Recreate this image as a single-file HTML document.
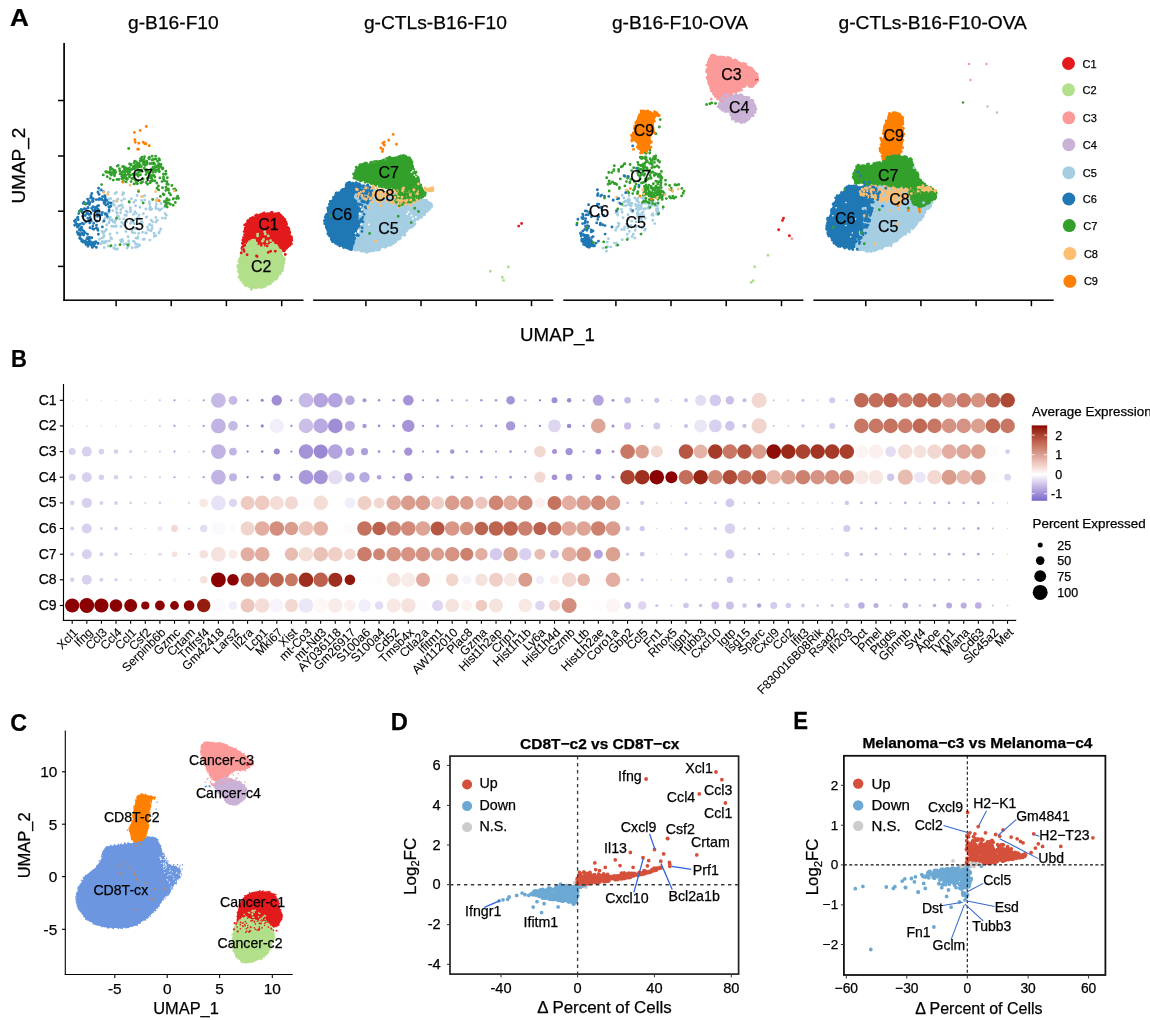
<!DOCTYPE html>
<html lang="en">
<head>
<meta charset="utf-8">
<title>Figure</title>
<style>
html,body{margin:0;padding:0;background:#fff;}
body{width:1150px;height:1020px;overflow:hidden;}
svg{display:block;}
svg text{font-family:"Liberation Sans",sans-serif;fill:#000;stroke:#000;stroke-width:0.25px;}
svg .gl text{stroke-width:0.08px;}
</style>
</head>
<body>
<svg width="1150" height="1020" viewBox="0 0 1150 1020">
<rect width="1150" height="1020" fill="#fff"/>
<!-- panel_a -->
<g>
<g transform="translate(10.5 0) scale(1.1 1) translate(-10.5 0)"><text x="10" y="25.6" font-size="23.7" font-weight="bold">A</text>
</g>
<text x="173.4" y="29.2" font-size="19.2" text-anchor="middle">g-B16-F10</text>
<text x="435.4" y="29.2" font-size="19.2" text-anchor="middle">g-CTLs-B16-F10</text>
<text x="680" y="29.2" font-size="19.2" text-anchor="middle">g-B16-F10-OVA</text>
<text x="932.7" y="29.2" font-size="19.2" text-anchor="middle">g-CTLs-B16-F10-OVA</text>
<rect x="63.25" y="43" width="1.7" height="257.95" fill="#000"/>
<rect x="58" y="99.75" width="6" height="1.5" fill="#000"/>
<rect x="58" y="155.25" width="6" height="1.5" fill="#000"/>
<rect x="58" y="210.45" width="6" height="1.5" fill="#000"/>
<rect x="58" y="265.65" width="6" height="1.5" fill="#000"/>
<rect x="63.25" y="299.45" width="240.25" height="1.5" fill="#000"/>
<rect x="313.1" y="299.45" width="240.2" height="1.5" fill="#000"/>
<rect x="563.3" y="299.45" width="240.1" height="1.5" fill="#000"/>
<rect x="813.4" y="299.45" width="240.3" height="1.5" fill="#000"/>
<rect x="115.35" y="300" width="1.5" height="6.2" fill="#000"/>
<rect x="170.45" y="300" width="1.5" height="6.2" fill="#000"/>
<rect x="225.65" y="300" width="1.5" height="6.2" fill="#000"/>
<rect x="280.95" y="300" width="1.5" height="6.2" fill="#000"/>
<rect x="365.15" y="300" width="1.5" height="6.2" fill="#000"/>
<rect x="420.25" y="300" width="1.5" height="6.2" fill="#000"/>
<rect x="475.45" y="300" width="1.5" height="6.2" fill="#000"/>
<rect x="530.75" y="300" width="1.5" height="6.2" fill="#000"/>
<rect x="615.15" y="300" width="1.5" height="6.2" fill="#000"/>
<rect x="670.25" y="300" width="1.5" height="6.2" fill="#000"/>
<rect x="725.45" y="300" width="1.5" height="6.2" fill="#000"/>
<rect x="780.75" y="300" width="1.5" height="6.2" fill="#000"/>
<rect x="865.05" y="300" width="1.5" height="6.2" fill="#000"/>
<rect x="920.15" y="300" width="1.5" height="6.2" fill="#000"/>
<rect x="975.35" y="300" width="1.5" height="6.2" fill="#000"/>
<rect x="1030.65" y="300" width="1.5" height="6.2" fill="#000"/>
<text x="25.3" y="165.6" font-size="19" text-anchor="middle" transform="rotate(-90 25.3 165.6)">UMAP_2</text>
<text x="557.5" y="340.8" font-size="18.7" text-anchor="middle">UMAP_1</text>
<path d="M121.6 200.6h0M144.2 195.9h0M136.2 213.4h0M103.2 221.9h0M128.6 240.9h0M107.8 204.9h0M139.1 215.3h0M158.5 208.9h0M109.2 198.6h0M120.5 240.3h0M111.7 226.3h0M143.4 213.8h0M137.1 195.4h0M146.2 217.1h0M120.9 226.5h0M130.5 209.5h0M154.1 233.3h0M116.1 225.9h0M135.5 243.8h0M149.6 208.8h0M128.1 236.8h0M109.7 220.8h0M101.9 231.5h0M152 225.8h0M159.7 210.3h0M147.3 227.1h0M139.3 218.8h0M132 231.2h0M103.4 233.5h0M156 208.6h0M125.9 231.5h0M110.8 198.6h0M103.3 237.4h0M108.2 206.4h0M126.2 243.6h0M104.8 218.4h0M137.2 244.3h0M118.5 216.4h0M124 244.4h0M165.4 200.6h0M111.4 205.5h0M115.4 220.5h0M139.9 207.3h0M124.7 225.4h0M134.8 228.5h0M126.3 215.4h0M106.4 229.5h0M113.7 201.3h0M122.7 194.8h0M106.2 213.3h0M101 243.8h0M141.6 200.5h0M116.7 212.3h0M124.4 198.9h0M131.4 220.5h0M122.9 207.4h0M156.5 201.2h0M135.7 200.4h0M158.9 233.1h0M117.3 213.5h0M110.8 237.7h0M136 238.1h0M122 204.9h0M155.8 235.7h0M114.9 222.5h0M123.8 193.3h0M117.1 232.9h0M165.3 218.3h0M165.2 213.4h0M114.5 205.2h0M112.8 203.8h0M157.3 220.2h0M144.3 239.3h0M105.1 231h0M151 220.1h0M111.6 238.7h0M122.2 239.4h0M166.3 215.2h0M127 248.1h0M149.3 201.8h0M108 200.6h0M109.3 240.9h0M123.4 224.3h0M108.3 192.5h0M135.6 247.3h0M129.2 243.6h0M156.3 204.2h0M116.6 209.1h0M115.9 226.6h0M117.2 216.6h0M108.3 245.9h0M123.7 218.9h0M139.5 245.6h0M128.3 246.4h0M133.9 223.3h0M129.6 202.5h0M99.5 239.3h0M111.1 219.9h0M149.3 224.8h0M121.8 222.5h0M137.6 238.4h0M106.6 225h0M116.4 208.1h0M152.6 221.9h0M138 236.9h0M162.3 218.1h0M141.5 221.8h0M134.6 232.9h0M130.5 223.4h0M132.3 247.8h0M164.3 207.1h0M157.3 199.8h0M107.6 218h0M104.3 231.6h0M109.9 234.3h0M144.8 200.1h0M114.4 248.4h0M126.7 220.7h0M110.4 217.4h0M134.8 211.8h0M112.8 210.6h0M137.5 217.9h0M142.3 222.2h0M102 238.1h0M117.9 199.3h0M128.4 246h0M155.8 207h0M109.6 246.4h0M138.6 233.4h0M146.8 217h0M104.2 247.6h0M143.1 239.4h0M105 242.7h0M103.8 243.1h0M130.6 211.8h0M137.4 246.9h0M117.7 199.3h0M135.6 205.8h0M106.8 201.2h0M120.8 209.8h0M151.7 208.9h0M133.8 202.2h0M123.2 192.7h0M116.5 192.5h0M149.9 224.5h0M112.3 219.9h0M155.8 217.4h0M133.4 241.4h0M126.4 221.8h0M122.9 241.3h0M148 229.6h0M127.2 212.3h0M104.1 235.8h0M116.9 201.4h0M105.1 241.8h0M159.4 231.6h0M118.7 206.1h0M119.5 219h0M110.1 218.2h0M117.4 249h0M116.1 249.2h0M120.6 212.9h0M132 221.6h0M113.1 221.7h0M105.4 215.4h0M120.3 205.5h0M139.7 223.2h0M151.1 230.8h0M126.1 211.1h0M149.3 230h0M102.3 241.4h0M160.8 229h0M149.9 240.1h0M108.9 222.9h0M134.1 241.4h0M139.6 244.9h0M146.4 233h0M115.1 193.5h0M108.4 213.1h0M106.5 241.5h0M137.8 229.1h0M142.5 232.2h0M154.3 236.3h0M134 223.5h0M144.8 195.6h0M150.1 206.7h0M149.6 203.9h0M133.4 214.4h0M132.3 232.4h0M152.2 228.4h0M143.6 196.2h0M109.4 206.8h0M150.6 209.8h0M145.7 232.9h0M145.9 209h0M134.9 219.3h0M131.4 198.7h0M161 203.5h0M130.3 207.6h0M113.7 248h0M113.8 226.3h0M109 222.9h0M155.9 222h0M115.2 245.2h0M130.4 209.6h0M109 212.1h0M121.1 241.7h0M157.2 198.8h0M161.5 208.9h0M124.9 215.1h0" stroke="#A6CEE3" stroke-width="2.9" stroke-linecap="round" fill="none"/>
<path d="M87.5 213.5h0M83.3 203.4h0M93.2 198.7h0M88 246.2h0M97.8 243.5h0M101.1 190h0M101.6 214.9h0M102.4 226.9h0M91.7 208.2h0M85.1 232.7h0M110.9 203h0M98.7 205.6h0M95 211.4h0M92.7 200.6h0M90.9 195.6h0M95.4 241.9h0M102.3 212.5h0M89.5 219.4h0M88.1 207.9h0M92.9 225.9h0M106.6 200.3h0M84.1 202.3h0M89 214.6h0M88.7 244.4h0M93.7 229.2h0M98.4 234.3h0M91.2 221.1h0M98.3 205.7h0M98 230.2h0M93.7 223.1h0M88.6 200.8h0M85.3 215.5h0M107.4 216.4h0M92.7 228.7h0M89.8 202.9h0M86.7 213h0M99.7 199.2h0M93 199.6h0M110.7 206.2h0M105 201.2h0M82.2 234.1h0M92.6 198.5h0M82.3 212.8h0M79.4 211.3h0M109.2 207.3h0M99.1 210.4h0M88 207.5h0M84.4 208.7h0M87.4 237.8h0M105 213.7h0M88 243.9h0M81.1 209.5h0M89.4 237.2h0M108.8 202.8h0M86.7 203.8h0M83.8 231.3h0M85.8 204h0M82.7 216.4h0M88.5 202.5h0M90.1 217.5h0M96.9 207.2h0M86 209.3h0M103.5 191.8h0M81.3 233.6h0M75.1 221.2h0M77.5 217.8h0M100.8 214.6h0M82.7 212.8h0M97.4 228.7h0M99.1 194.4h0M105.8 205.1h0M95.3 210h0M101.8 199.3h0M95.8 207.1h0M93.1 201.3h0M91.8 237.7h0M109.1 210h0M106.7 214.8h0M83.7 235.1h0M96.5 225.3h0M82.1 209.8h0M83.5 224.1h0M98.6 199.5h0M99.6 198.4h0M104 220.9h0M88.8 221h0M98.1 192.6h0M80 230h0M89.4 204.5h0M85.7 222h0M87.4 212.7h0M87.6 199.1h0M101.5 199.5h0M89.9 237.8h0M89.2 241.6h0M91.3 197h0M74.4 221.1h0M98.1 243.3h0M77.2 225.5h0M87.9 218.2h0M93.6 244.3h0M77.9 217.3h0M109 211h0M105.1 196.8h0M103.7 200.7h0M89.2 239.4h0M105.3 198.3h0M82.1 211.7h0M93.5 210.7h0M75.4 221.8h0M96.6 221h0M97.6 205.9h0M89.8 223h0M90 227.8h0M90.8 214.1h0M74.7 225.3h0M92.4 201.5h0M91.2 198h0M91.8 193.5h0M78.7 213.6h0M98 192h0M93 210.3h0M92.5 246.2h0M102.5 196.8h0M107.9 204h0M104.8 195.8h0M92.9 243.9h0M93 206.7h0M80.2 235.6h0M78.2 219.8h0M98 209.2h0M95.8 241.6h0M97.7 211.4h0M104.1 203.3h0M87.5 234.3h0M90.6 197.9h0M105 202.6h0M96.1 228.1h0M97.2 213.7h0M93.3 242.4h0M98.6 188.3h0M82.3 223.1h0M96.2 199.6h0M97.5 216.4h0M77.5 226.5h0M89.1 203.3h0M95.2 208.6h0M98.3 214.4h0M75.5 219.9h0M89.2 201.6h0" stroke="#1F78B4" stroke-width="2.9" stroke-linecap="round" fill="none"/>
<path d="M79.6 238.1h0M86.8 239.1h0M82.2 229.7h0M80.2 224.3h0M82.8 242h0M91.3 244.7h0M81.2 239.1h0M81 227.9h0M92.4 247.4h0M86 244.5h0M91.3 245h0M85.2 241.3h0M79.9 238.5h0M75.6 222.6h0M94.2 245.9h0M96.4 247.4h0M77.4 227.1h0M94.9 243.7h0M89.8 244.1h0M77.3 224.1h0M82.4 233.1h0M81.6 241.1h0M85.2 242.7h0M83.1 240.8h0M86.5 243.3h0M79.3 235h0M81.6 227.3h0M91.3 243.1h0M79.8 228.7h0M80.4 234.1h0M87.4 242.2h0M90.5 241.8h0M78.9 233.5h0M77.9 234.1h0M79.4 229.7h0M91.5 244.6h0M78.6 225.7h0M80.7 230.4h0M77.3 232h0M77.4 227.1h0" stroke="#1F78B4" stroke-width="2.9" stroke-linecap="round" fill="none"/>
<path d="M156.8 183h0M152 181h0M135.4 168.1h0M163.1 194h0M169.3 192.9h0M152.7 180.5h0M110.1 178.6h0M163.8 194.7h0M151.8 169.3h0M135.6 180.5h0M151.2 178h0M163.5 176.9h0M167.4 184.2h0M123.9 177.5h0M130 170.1h0M133.1 167.2h0M165.9 190.4h0M166.6 200.4h0M139.1 171.7h0M145.4 162.4h0M131.9 169.4h0M135.8 165.7h0M124.4 169h0M126.1 181.9h0M154.1 175.4h0M175.3 202.5h0M173.5 198.6h0M152.1 156.3h0M153.9 169.3h0M129.6 163.9h0M173.3 199h0M164.2 201.6h0M145.9 170h0M141.1 158.7h0M139 163.5h0M140.9 182.9h0M131.8 178.5h0M142.5 182.1h0M158.7 189.9h0M131.1 181.6h0M118.9 179.4h0M167.3 177.7h0M141.9 170.4h0M128.3 172.9h0M171.9 185.5h0M106.3 172h0M174.7 189h0M173.8 189.1h0M157 188.3h0M155.8 167.2h0M154.7 180.7h0M153.8 175.8h0M166.9 198.7h0M146.5 169.7h0M126.1 178.7h0M127.4 179.2h0M166 187.1h0M134.7 161.1h0M153 167.2h0M158.8 168.8h0M159.9 165.8h0M159.6 160.1h0M140.5 158.8h0M151.8 178.5h0M176.5 198.6h0M146.9 171.6h0M149.6 172.5h0M165.8 171.1h0M166.4 204.3h0M166.1 203.2h0M147.3 170.6h0M169.2 199.9h0M138.9 166.9h0M164.5 180.8h0M163 168.3h0M117.2 166.1h0M134 183.9h0M149.2 174.5h0M146.9 169.9h0M163.5 178.9h0M176.7 197.7h0M118.2 165.4h0M149.3 177.4h0M154.9 177.1h0M137.6 164.3h0M122.5 174.9h0M173.2 205.2h0M164.1 194.5h0M155.5 171.9h0M110.7 173.3h0M140.2 164.8h0M155.6 156.2h0M158.7 166.2h0M170.4 204.3h0M113.3 180.1h0M168.5 190h0M137.9 174.2h0M167 181.8h0M151.7 163.4h0M158.4 185.9h0M123.3 178.1h0M114.6 170.4h0M154.8 167.1h0M139.9 171.2h0M122.6 166.6h0M110 171.4h0M159.4 171.6h0M165.7 174.2h0M167.7 184.4h0M117 179.4h0M147.2 163.1h0M158.2 166.3h0M150.1 182.7h0M123.9 166.8h0M166.1 187.5h0M159.9 177.9h0M159 158.6h0M166 173.9h0M168.5 203h0M131.2 164.5h0M137.4 183.8h0M166.5 203.1h0M144.5 156.7h0M157.2 166.2h0M147.6 184.2h0M157.5 161.2h0M170.6 194.9h0M141.1 183h0M134.2 163h0M161 164.5h0M167.2 207h0M132.9 178.6h0M168.3 184.4h0M163.4 174.1h0M121.2 173.9h0M165.5 205.7h0M166.3 202.1h0M121.9 178.7h0M152 175.5h0M144 159.3h0M136.4 183.2h0M178.5 198.2h0M175.9 190.3h0M165.9 204.1h0M152.7 170.1h0M155.6 170.5h0M151.1 169.3h0M143.2 179.3h0M123.4 181.1h0M144.3 163.7h0M125.4 177.9h0M125 168.9h0M168.3 189h0M150.5 181.3h0M126.7 168.8h0M103.3 174.9h0M146.1 182.5h0M107.2 176.8h0M111 167.9h0M177.7 196.1h0M114.5 174h0M166.8 184h0M160.4 196.4h0M162 181.6h0M164 194.4h0M162.5 187.7h0M147.3 178.5h0M150 176.4h0M137.9 180.7h0M159.1 171.6h0" stroke="#33A02C" stroke-width="2.9" stroke-linecap="round" fill="none"/>
<path d="M127.3 168.9h0M133.7 166.4h0M112.6 169.4h0M158.8 163.7h0M129.4 177h0M137.6 167.6h0M134.8 168.1h0M144.8 165.2h0M125.3 169.8h0M124.9 177.9h0M144.3 168.3h0M127.9 169.1h0M138.2 176.3h0M161.5 167.4h0M130.2 170.5h0M135.6 174.9h0M156.9 165.9h0M134.5 167.8h0M141.5 170h0M141.9 157.3h0M128.5 174.2h0M122.2 172h0M154.2 169.6h0M143.8 160.8h0M133.6 168.9h0M119.8 171h0M138.2 165.7h0M149.2 158.7h0M135.1 175h0M140.5 174.7h0M149.9 163.7h0M146.6 164.4h0M138.7 164.2h0M130.8 165.1h0M130.2 170.4h0M122.7 176.8h0M152.6 163.2h0M133.5 177.9h0M146.8 161.3h0M122.4 176.2h0M132.8 174.3h0M135.8 165.1h0M111.3 175.1h0M143.6 164.1h0M113.2 172.4h0M153.8 159.2h0M130.4 175.3h0M152 159.9h0M125 172.7h0M126.4 178.1h0M146.1 162.2h0M157.6 169.7h0M140.2 161.1h0M156 159.1h0M134.5 168.7h0M120.1 173.9h0M126.9 171.3h0M137.8 163.4h0M114.5 175.7h0M123.1 171.4h0M110.4 169.1h0M125.5 167.7h0M111.5 172.6h0M105.7 171.8h0M143.5 164.3h0M128.6 171.3h0M145.7 162h0M154.5 164.3h0M141.5 160.4h0M147.7 172.5h0M142 160.4h0M154 169.3h0M146.7 162.1h0M129.9 171.9h0M154.9 170.1h0M110.6 174.3h0M148.7 158.3h0M145.4 165.3h0M160.4 166h0M141.4 166.6h0M107.2 172.2h0M129.5 168h0M149.4 157.3h0M145.9 174.6h0M119.5 168.7h0M136.4 162h0M146.1 171.6h0M134.7 166.4h0M159.8 164.3h0M121.8 176.4h0M112.4 169.1h0M123.8 174.9h0M136.7 173.6h0M114 171.5h0M139.7 166.8h0M115.7 172.3h0M123.3 167h0M109 172.6h0M162.4 169.1h0M110.4 167.4h0M158.8 171h0M142.9 162h0M154 163h0M115 170.8h0M114 174.2h0M153.2 163.6h0M125.9 168.8h0M126 175.2h0M137.8 170.6h0M152.8 172.4h0" stroke="#33A02C" stroke-width="2.9" stroke-linecap="round" fill="none"/>
<path d="M122.8 182.2h0M130.2 185.3h0M107.6 194.4h0M116.5 200.6h0M138.5 190.1h0M155.7 191.6h0M156.1 200.3h0M174.1 190.8h0M103.6 192.4h0M141.6 196.6h0" stroke="#FDBF6F" stroke-width="2.9" stroke-linecap="round" fill="none"/>
<path d="M159.2 200.7h0M122.8 181.9h0" stroke="#FF7F00" stroke-width="2.9" stroke-linecap="round" fill="none"/>
<path d="M116.5 218.3h0M129.1 201.8h0M120 244.7h0M111 245.8h0M127.8 245h0M85.1 203.9h0M79.6 211.2h0M101.6 184.6h0M138.5 191.6h0M143.2 202.9h0M152.6 199.5h0" stroke="#33A02C" stroke-width="2.9" stroke-linecap="round" fill="none"/>
<path d="M146.3 126.5h0M140.2 130.4h0M134.4 132.4h0M134.9 139.8h0M135.3 142.2h0M138.8 143.3h0M143.2 142.2h0M144.8 143.7h0M146 143.7h0M149.2 145.8h0M137.7 149.2h0M138.5 149.2h0" stroke="#FF7F00" stroke-width="2.9" stroke-linecap="round" fill="none"/>
<path d="M128.7 148.5h0" stroke="#33A02C" stroke-width="2.9" stroke-linecap="round" fill="none"/>
<path d="M245.9 223.5C246.7 222.4 248.2 220.5 250.4 219.1C252.7 217.6 256.4 215.8 259.4 214.7C262.3 213.7 264.9 212.8 268.2 212.7C271.5 212.6 276.6 213.2 279.3 214.1C282.1 214.9 283.7 216 284.9 217.9C286.1 219.9 285.8 223.7 286.4 225.8C287.1 227.8 287.8 228.2 288.7 230.2C289.6 232.2 291.4 235.8 291.7 238C292 240.2 291.5 241.7 290.6 243.6C289.6 245.4 287.4 247.9 286.1 249.1C284.8 250.3 285.3 250.6 282.7 250.8C280.1 250.9 274.6 250.4 270.4 249.9C266.2 249.4 261 248.1 257.2 247.8C253.5 247.5 250.7 247.4 248.1 248C245.5 248.7 242.3 253.5 241.7 251.6C241 249.7 243.6 241.2 244.2 236.9C244.8 232.5 245.1 227.9 245.3 225.7C245.6 223.5 245 224.6 245.9 223.5Z" fill="#E31A1C"/>
<path d="M244.8 237.7h0M286.5 247.6h0M275 250.6h0M267.6 213.6h0M256.2 215.8h0M272.2 212.4h0M243 247.8h0M291.3 238.2h0M285.3 249.2h0M291.6 240.5h0M243.5 237.6h0M291.3 240.4h0M271.9 213h0M291.4 243.9h0M243.8 244.4h0M270.3 249.1h0M261.5 248.1h0M277.9 250.3h0M265.4 248.9h0M242.8 240.2h0M260.9 247.7h0M263.5 248.9h0M291.2 236.8h0M289.5 233.3h0M243.8 239.4h0M242.6 243.5h0M282.9 250.5h0M279.4 250.7h0M260.3 214.7h0M255.5 215.8h0M291.8 240.2h0M256 247.2h0M245.9 224.2h0M241.9 248.4h0M245.1 229.9h0M264.2 213h0M278.6 213.2h0M273.2 249.8h0M256.6 248.4h0M270.2 249.9h0M244.9 235.4h0M250.7 248.4h0M261.3 247.7h0M289.2 231.2h0M253.8 248h0M258.4 215.7h0M260.9 214.8h0M280.6 215.2h0M242.5 247.1h0M247.5 221.7h0M271.1 212.7h0M259.5 247.6h0M243.4 242.5h0M242.9 250.5h0M286.2 226.4h0M243.7 241.8h0M271.1 213.3h0M289.9 232.8h0M242.3 247.3h0M270.5 249.7h0M276.3 213.8h0M250.2 218.7h0M290.3 244h0M286.7 228h0M285.6 225.1h0M244.7 224.9h0M261.8 248.2h0M286.7 248.1h0M284.3 251.1h0M249.7 220.3h0M243.7 242.9h0M267.4 249.1h0M244.5 251h0M260.3 248.7h0M251.8 248.2h0M287.4 227.3h0M252.7 217.5h0M245.4 225h0M279.3 214.1h0M262.8 214.4h0M290.8 242.2h0M284.9 219.8h0M285.1 220.7h0M280.9 250.3h0M244.5 234.7h0M270.1 213.7h0M288.2 228.2h0M242.4 243.2h0M243.6 238.3h0M247.9 220.7h0M256.7 247.6h0M273.4 213.9h0M265.1 249.5h0M245.2 228.3h0M242.7 251.1h0M263.2 213.8h0M243.5 242.9h0M274.8 213.9h0M265.3 249.4h0M285.7 225.6h0M251.1 218.5h0M287.7 246.9h0M289.8 244.3h0M279 249.7h0M271.1 249.6h0M256.9 215h0M247 248.8h0M291.6 237.8h0M279.9 250.7h0M286.6 224.3h0M256.5 248.3h0M286 222.3h0M290.5 242.1h0M244.1 231.6h0M289.6 245.5h0M288.9 228.7h0M248.6 247.3h0M262.7 213.8h0M279.1 251.3h0M287.8 229h0" stroke="#E31A1C" stroke-width="2.9" stroke-linecap="round" fill="none"/>
<path d="M247.7 242.9C249.4 241.5 251.8 239.9 253.3 240.1C254.7 240.3 254.6 243.2 256.6 244.2C258.6 245.3 262.4 246.4 265.4 246.5C268.3 246.5 271.8 243.6 274.4 244.5C277.1 245.4 279.6 249 281.2 251.7C282.8 254.4 284 257.3 284 260.6C284 264 282.8 268.5 281.2 271.8C279.6 275.2 277.4 278.3 274.5 280.8C271.5 283.2 267 285 263.3 286.4C259.6 287.7 255.2 289.1 252.1 288.7C248.9 288.4 246.4 286.3 244.2 284.2C242.1 282.1 240.3 279.3 239.3 276.3C238.3 273.3 238.1 269.5 238.3 266.2C238.6 262.9 239.8 259.2 240.7 256.3C241.5 253.3 242.2 250.7 243.3 248.5C244.5 246.3 246.1 244.3 247.7 242.9Z" fill="#B2DF8A"/>
<path d="M241.9 278.8h0M252 240.5h0M246.1 245.2h0M283.9 263h0M284.5 259.5h0M240.9 280.1h0M281.9 270.7h0M262.9 287.1h0M243.2 249.1h0M279.4 250.2h0M277.2 248.4h0M251.3 289.3h0M276.3 245.8h0M240.1 260.9h0M240.6 277.3h0M283.8 261.8h0M269.2 245.9h0M276.9 278.2h0M276.1 245.4h0M239.6 273.1h0M240.3 260.9h0M250.4 242h0M249.6 241.7h0M240.7 279.1h0M245.8 285.2h0M242 253.9h0M245.1 244.9h0M239.2 271.1h0M270.6 282.4h0M259.9 246.1h0M284.1 258.4h0M272.8 281.2h0M271.8 244.6h0M241.2 278.7h0M283 265.1h0M282.7 264.5h0M240.5 258h0M270.8 244.5h0M253.4 240.1h0M263.9 285.2h0M246 285.1h0M265.5 286.2h0M240.2 259.5h0M283.4 260h0M281.6 269.1h0M267 245.5h0M257.4 287.4h0M256 287.4h0M273.7 245.1h0M239.6 272.3h0M244.7 284.8h0M264.8 286.2h0M248.2 243.4h0M270.5 283.6h0M278.2 248.7h0M282.5 267.9h0M268.4 284.2h0M283.9 259.9h0M277.1 246.7h0M241.2 255.1h0M268.7 283.2h0M266.7 246.4h0M268.5 284.3h0M277.9 249.3h0M276.4 279h0M241.1 256.1h0M282.6 268.9h0M262.7 245.6h0M260.1 245.7h0M268.8 282.9h0M282.3 270.8h0M277.1 277.6h0M239 277h0M282.6 265.9h0M282.2 266.7h0M249.6 241.8h0M254.3 242.3h0M281.3 252.6h0M237.8 265.8h0M238.9 261.8h0M239 271.6h0M253.4 240.2h0M242.9 282.4h0M251.4 287.8h0M282 269.7h0M274.1 245.1h0M282.6 266.9h0M256.4 243.3h0M268.2 284.5h0M238.9 277.1h0M275.9 279.3h0M280.2 273.7h0M278 276.1h0M238.7 267.3h0M280.5 271.7h0M264.9 286.2h0M262.1 245.1h0M237.9 267.3h0M240.1 276.7h0M247 285.6h0M254.8 241.5h0M261 287.5h0M239.2 259.8h0M268.5 284.2h0M281.2 252.8h0M280.7 250.7h0M270.1 282.2h0M283.5 257.8h0M238.9 261.8h0M254.3 241.1h0M275.8 279.1h0M283.1 265.7h0M241.8 252.5h0M283.4 258.6h0M262.7 286.1h0M238.5 271.5h0M238.9 270.2h0M242.4 251.6h0M254.7 242.2h0M254.5 240.3h0" stroke="#B2DF8A" stroke-width="2.9" stroke-linecap="round" fill="none"/>
<path d="M241.2 252.9h0M243.5 249.4h0M244.1 251.2h0M247.1 254.7h0M256.5 255.9h0M257.1 256.5h0M268.2 252.4h0M270.6 251.2h0M275.3 251.2h0M285.3 254.5h0M261.2 244.1h0M267.1 245.9h0M244.7 245.3h0M247.1 238.2h0M261.2 245.3h0M270.6 237.1h0M265.9 234.7h0" stroke="#E31A1C" stroke-width="2.9" stroke-linecap="round" fill="none"/>
<path d="M257.6 234.1h0M257.6 235.9h0M264.7 231.8h0M265.3 234.1h0M263.5 239.4h0M262.4 241.2h0M267.1 241.8h0M268.2 235.9h0M270.6 240.6h0M254.1 240.6h0M272.9 242.9h0" stroke="#B2DF8A" stroke-width="2.9" stroke-linecap="round" fill="none"/>
<text x="142.7" y="180.5" font-size="16" text-anchor="middle">C7</text>
<text x="91.4" y="221.8" font-size="16" text-anchor="middle">C6</text>
<text x="133.8" y="230.1" font-size="16" text-anchor="middle">C5</text>
<text x="268.5" y="229.6" font-size="16" text-anchor="middle">C1</text>
<text x="261.2" y="272.3" font-size="16" text-anchor="middle">C2</text>
<path d="M360.9 191.5C362.8 187.9 367.2 190.2 372.4 190.2C377.6 190.3 386.1 191.2 392.2 191.9C398.4 192.6 404.5 193.2 409.2 194.6C413.9 195.9 417.8 199.1 420.7 200.1C423.5 201.1 424.4 200 426.5 200.7C428.6 201.4 433.1 202.5 433 204.3C433 206 429 208.8 426.4 211.5C423.8 214.1 420 217.4 417.5 220C415.1 222.6 414.1 224.4 411.7 226.9C409.3 229.5 406.5 232.4 403.3 235.2C400 238 396.4 241.3 392.2 243.7C388 246.1 382.4 248.3 378.1 249.7C373.8 251.1 371 252.1 366.6 252C362.3 252 354.1 251.1 352.2 249.3C350.3 247.6 354 244.4 355.2 241.4C356.5 238.4 358.5 234.4 359.7 231.3C361 228.2 362.5 226.1 362.8 222.8C363 219.5 361.6 216.7 361.3 211.5C360.9 206.3 359.1 195 360.9 191.5Z" fill="#A6CEE3"/>
<path d="M384.8 247.3h0M393.2 243.3h0M368.3 251.4h0M410.3 194.3h0M360.8 210h0M383.5 191.8h0M417.8 219.6h0M361.8 212.9h0M374.4 189.6h0M360.1 228.8h0M388 245.4h0M397.3 192.3h0M360.3 228.6h0M360.8 195.4h0M423.6 213.9h0M394.9 241h0M355.4 250.2h0M388 190.9h0M362 210.1h0M398.8 238.1h0M352.8 248.4h0M382.5 191.7h0M385 246.1h0M393 192.7h0M360.8 227.9h0M368.6 191.4h0M429.9 208.7h0M372.3 190.2h0M417.8 198h0M355.7 238.9h0M392.5 243.1h0M356.2 239.5h0M368.8 190h0M373.6 250.6h0M427.6 210.1h0M398.4 193.6h0M431.7 206.8h0M406.7 230.6h0M361.7 219.6h0M396.8 239.7h0M399 193h0M425.1 212.1h0M407.5 194h0M362.6 222h0M365.1 191.1h0M356.4 239.2h0M414 196.1h0M420.2 200h0M400.4 237.8h0M380.6 190.5h0M385.9 246.9h0M374.9 190.6h0M360.3 195.7h0M364.4 251.3h0M358.1 235.4h0M364.1 191.1h0M418.1 218.3h0M354.6 249.2h0M428.6 207.9h0M411.3 196.5h0M361.4 192.1h0M404.9 234.7h0M353.1 247h0M379.6 249.7h0M382.7 190.8h0M399.3 193.2h0M351.8 249.3h0M361.8 206.6h0M360.7 230.2h0M415 224.1h0M362.3 222.3h0M398.9 238.5h0M361.5 198.5h0M360.2 228.2h0M410.6 227.6h0M361.7 213.3h0M421.8 216.8h0M366.7 252.4h0M418.3 218.8h0M360.2 229.3h0M361 228.4h0M405 232.1h0M358.2 234.5h0M410.8 227.1h0M428.2 210.2h0M426.7 200.8h0M361.7 251.4h0M357.3 235.8h0M371.1 189.9h0M423.4 200.1h0M413.1 196.3h0M361.7 216.2h0M361.1 202.6h0M405.4 193.3h0M398.2 237.9h0M361.1 204.8h0M417.9 198.2h0M394.9 242.1h0M424.6 214.5h0M369.1 251.6h0M413.9 225h0M371.1 250.9h0M400.2 238.4h0M404.1 235h0M374.7 190.7h0M393.4 243.2h0M362.3 217.2h0M368.8 190h0M361.7 201.9h0M387.3 245.1h0M421.7 216.6h0M425.2 200.2h0M395.7 241.7h0M374.2 250.8h0M424 214.8h0M363.8 251h0M390.3 245.2h0M428.1 208.9h0M361.8 220.4h0M400.2 192.5h0M428.3 202.5h0M360.6 200h0M360.7 204.3h0M413.4 223.8h0M420.8 217.4h0M421.1 200.9h0M412.7 226.6h0M354.9 241h0M353.3 246.3h0M369.2 251.2h0M426.9 211.6h0M426.8 200.4h0M353.8 243.6h0M391.5 244.6h0M420.8 199.5h0M395.5 241.8h0M418.3 219h0M430.6 203.6h0M377.4 250.3h0M421.6 217.1h0M429.4 208.5h0M427.8 209.9h0M398.2 239.4h0M361.1 214.2h0M376.1 190.6h0M362 225.9h0M419.5 217.8h0M361.6 227.9h0M396.3 192.9h0M404.5 235.2h0" stroke="#A6CEE3" stroke-width="2.9" stroke-linecap="round" fill="none"/>
<path d="M348.2 183.1C350.5 182.3 356 182.5 358.1 183.7C360.2 184.9 360.6 187.9 360.8 190.2C361 192.5 359.3 195.3 359.2 197.5C359.1 199.6 360.5 200.8 360.4 203.1C360.4 205.5 358.7 208.2 358.7 211.4C358.7 214.6 360.8 219.1 360.4 222.3C360 225.5 357.5 227.6 356.4 230.6C355.3 233.7 354.7 237.8 353.8 240.8C352.9 243.8 352.9 247.9 351 248.9C349.1 249.8 345.6 248 342.5 246.7C339.4 245.3 335.2 243.3 332.6 240.9C330.1 238.5 328.4 235.4 327.1 232.3C325.8 229.3 324.7 226 324.7 222.5C324.8 219 326.3 215 327.5 211.3C328.6 207.6 330 203.3 331.6 200.3C333.1 197.3 334.9 195.3 337 193.2C339.1 191.2 342.1 189.9 343.9 188.2C345.8 186.5 345.8 183.8 348.2 183.1Z" fill="#1F78B4"/>
<path d="M326.4 218.1h0M333.4 197.4h0M325.3 223.8h0M358.7 185.4h0M359.3 217.5h0M360.5 189.7h0M328.3 208.7h0M359.4 185.3h0M348.9 182.5h0M359.1 218.2h0M338.4 243.2h0M329.4 204.1h0M329 235.4h0M335.5 243.3h0M360.1 208h0M339.7 245.9h0M352.9 183.2h0M358.5 184.6h0M333.4 241.5h0M332.6 241.7h0M348.2 184.4h0M359 226.1h0M349.1 248.4h0M326.3 227.5h0M356.9 228.5h0M359.5 219.9h0M343.5 246.4h0M324.7 223.8h0M337.5 244.3h0M326.8 217.8h0M325.4 220.4h0M358.9 207.5h0M325.2 220.9h0M355.9 230.9h0M347 183.4h0M360 202.6h0M328.6 207.4h0M360.1 191.4h0M351.6 249.5h0M328.1 210.1h0M359.2 194.5h0M344.4 246.9h0M352.3 183.6h0M342.8 189.5h0M325.3 220.1h0M330.2 201.5h0M359.5 208.1h0M350.2 183.6h0M350.6 248.5h0M340.2 245.4h0M330.3 236.3h0M327.9 233.8h0M336.6 192.9h0M332.1 240.5h0M351.9 247h0M324.9 223h0M324.4 220.8h0M354.8 238.2h0M359.1 212.8h0M350.1 249.4h0M331.3 239.4h0M346.3 184.6h0M328.3 210.8h0M325.1 217.4h0M346.1 185.4h0M355.8 184.3h0M359.4 209.9h0M329.1 234h0M358.6 198.9h0M361.5 190.8h0M360.8 203.4h0M343.6 247.6h0M335.8 194.9h0M331.5 201.3h0M346 247.6h0M327.7 208.1h0M338.9 244.6h0M349.8 182.4h0M330.6 204.1h0M360.3 193h0M352.6 243.2h0M338.9 244.1h0M325.9 220.5h0M360.5 189.8h0M326.1 214.9h0M346.3 185h0M358.4 186.3h0M332 239.8h0M354.4 239.3h0M338.5 192.9h0M338.2 193.1h0M353.5 184h0M353.7 242.2h0M341.6 190.2h0M358.9 214.4h0M357.9 225.9h0M346.4 186.2h0M327.2 215.5h0M325.9 215.9h0M353.3 239.4h0M335.5 195.8h0M327.4 214.1h0M328.2 209h0M329.6 205h0M356 233.3h0M359.7 200h0M341 245.2h0M338.1 193.4h0M359.5 187.9h0M336.1 193.1h0M325.6 221.7h0M353 244.2h0M326.4 217h0M358.6 215.7h0M359.1 208.3h0M328.1 234h0M332.4 239.7h0M357.6 183.6h0M355.6 231h0M347.9 248.2h0" stroke="#1F78B4" stroke-width="2.9" stroke-linecap="round" fill="none"/>
<path d="M355.7 197.9h0M360.2 213.2h0M360.5 197.7h0M362.3 208.6h0M361.4 203.5h0M360 205.8h0M359.9 219.4h0M360 201.5h0M359.9 218.7h0M356.1 196.4h0M358.7 198.4h0M360.9 203.4h0M359.8 214.3h0M356.2 194.8h0M358 198.6h0M358.2 224.9h0M358.3 201.2h0M355.2 196.5h0M360.7 218.4h0M361.7 198.4h0M361.7 202.9h0M362.3 213.9h0M360.6 196.8h0M357.3 198.8h0M359.9 216.2h0M360.7 217.2h0M359.5 222.3h0M361.7 209.8h0M362.1 201.5h0M356 195.1h0" stroke="#A6CEE3" stroke-width="2.9" stroke-linecap="round" fill="none"/>
<path d="M362.5 189.6h0M357.8 223.6h0M361.8 219.7h0M366 193.9h0M370.1 193h0M358.4 235.5h0M360.3 204.5h0M360.7 219.1h0M357.2 228h0M356.4 235.4h0M364.1 214.3h0M358.6 191.1h0M365.3 207h0M361.9 231.4h0M372.4 196.8h0M355.1 232.9h0M356.1 182.7h0M362.1 211.3h0M355.6 231.9h0M365 191.9h0M367.3 196.1h0M366.1 208.1h0M366.5 191.8h0M371.3 194.8h0M368.2 201.9h0M361.9 205.3h0M360.9 221.1h0M362.5 191.6h0M367 190.8h0M357.9 224.6h0M359.9 196.1h0M365.4 192.8h0M368 197h0M359.2 221.5h0M356.3 234h0M360.5 211h0M360.2 205.1h0M363.3 196.2h0M357.2 186.9h0M359.1 226h0M368.1 200.9h0M363.5 192.3h0M367.4 203.3h0M367.8 194.6h0M357.8 221.3h0M358.5 187h0M365.3 187.8h0M366.2 195.2h0M366.8 196.3h0M369.3 199.1h0M360.1 222.1h0M355.8 184.5h0M363.9 190.2h0M362.9 192.8h0M364.1 202h0M368.9 187.7h0M363.4 195.9h0M366.9 194.2h0M360.2 208.4h0M361.2 206.7h0M365.9 187.6h0M362.8 217.4h0M359.4 183.9h0M366 198.5h0M368.8 189.3h0M356.2 185.7h0M370 191.2h0M357.4 224.5h0M362.3 200.7h0M359.1 223.2h0M365.7 197.9h0M363 221.8h0M368.1 189h0M357.8 235.3h0M356.2 227.2h0M360.6 195.6h0M370.5 199.7h0M357.4 223.4h0M360.6 192.2h0M362.1 227.7h0" stroke="#1F78B4" stroke-width="2.9" stroke-linecap="round" fill="none"/>
<path d="M407.1 214.1h0M411.5 215.6h0M415.9 217.1h0M412.9 218.5h0M417.4 221.5h0M408.5 211.9h0M360.7 206.8h0M361.8 209.7h0M360 214.1h0M368.8 224.4h0M355.6 233.2h0" stroke="#FFFFFF" stroke-width="2" stroke-linecap="round" fill="none"/>
<path d="M353.9 173C354.7 171.1 355.7 167.5 358.3 165.9C361 164.3 365.7 164.1 370 163.3C374.2 162.4 380.5 161.9 384 160.9C387.4 159.9 387.5 158.1 390.7 157.3C393.9 156.5 400 156 403.3 156.3C406.6 156.6 409 157.3 410.4 159C411.8 160.6 410.9 163.9 411.7 166C412.5 168.1 414.5 169.7 415.3 171.6C416.2 173.4 417 175.3 416.8 177.2C416.6 179.1 415.5 181.3 413.9 182.8C412.4 184.3 409.7 185.3 407.5 186.2C405.2 187.1 402.9 187.8 400.4 188.1C397.8 188.4 395.2 188.2 392.1 187.9C388.9 187.5 384.9 186.5 381.3 185.8C377.6 185 373.3 184.3 370 183.4C366.6 182.4 363.9 181 361.3 180C358.6 179 355.2 178.4 353.9 177.2C352.7 176 353.2 174.8 353.9 173Z" fill="#33A02C"/>
<path d="M370 182.3h0M385.1 187.3h0M356.6 179h0M376 184.5h0M406.2 157.2h0M366.4 164.8h0M410.9 161.1h0M385.6 187.6h0M379.7 185.7h0M386.9 186.2h0M401.2 188.5h0M370.5 162.9h0M375.9 185.4h0M372.9 183.1h0M359.4 179.5h0M401 188.4h0M415.3 179.6h0M382.5 186.7h0M382.4 160.6h0M365.1 163.3h0M379.3 184.6h0M360.9 164.8h0M412.7 168.5h0M356.2 178.5h0M365.2 182.3h0M389.1 188.1h0M412.5 183.3h0M375 184.4h0M411.6 161.6h0M381.5 161h0M356.4 177.2h0M361.5 180.6h0M411.7 163.5h0M364.2 165.2h0M380.8 185.2h0M388.4 186.5h0M367.9 182h0M407.8 158.7h0M380.5 161.1h0M389.1 187.5h0M416 172.3h0M357.2 178.2h0M379.4 186.4h0M415.7 181.2h0M405.5 156.2h0M355.9 170.7h0M365.3 181.2h0M359.9 178.7h0M405.8 186.7h0M408.8 184.8h0M410.9 161.7h0M363.2 164.3h0M392.5 187.3h0M388.6 157.8h0M410 184.7h0M412 184.5h0M393.2 187.4h0M374.4 183.2h0M358 178h0M361.4 165.7h0M371.7 163.2h0M353.6 173.9h0M386.5 158.6h0M410.9 159.9h0M374.2 161.6h0M379.2 161.7h0M378.1 161.8h0M353.9 178h0M413.1 169.3h0M371.5 162.1h0M395.4 187.7h0M403.3 156.1h0M395.9 187.3h0M369.8 182.2h0M372.3 183.5h0M406.2 186.6h0M410.9 163.8h0M400.9 189h0M372 163.6h0M380.9 186h0M402.2 156.5h0M409.8 158.3h0M365.4 180.4h0M398.7 156.6h0M405.6 156.6h0M417.4 178h0M413.8 169.6h0M408.9 185.2h0M405.7 157h0M362.7 180.1h0M400.8 155.9h0M395.2 187.4h0M359.8 165h0M383.9 160h0M389.9 188.2h0M357.8 179.5h0M364.6 164.5h0M380 162.4h0M407.3 158.8h0M386.6 187.7h0M356.2 167.2h0M356.1 170.3h0M366.5 163.3h0M408.7 186.7h0M405.4 156.6h0M408.3 157.8h0M354.9 177.3h0M376.2 161.4h0M403.5 155.4h0M417 176.6h0M412.1 164.9h0M412.8 166.7h0M400.7 157.4h0M371.2 183.6h0M371.1 162.7h0M395.1 188.6h0M381.5 184.9h0M379.5 185.8h0M414.2 182.7h0M356.7 178.8h0M407.2 185.9h0M391.2 158.1h0M381.8 186.8h0M396.1 188.5h0M389.7 157.3h0M370.6 183h0M360.3 180.8h0M385.2 187.2h0M414.1 183.3h0M412 162.1h0" stroke="#33A02C" stroke-width="2.9" stroke-linecap="round" fill="none"/>
<path d="M416.2 193.3h0M415.7 184.8h0M410.7 188.8h0M412.2 201.2h0M417.5 190.3h0M399.1 186.1h0M396.8 202.3h0M409 198.1h0M408 183h0M422.5 195.5h0M411 180.2h0M412.6 185h0M405.6 203.3h0M404.7 193.8h0M419.7 185.5h0M400.8 193.1h0M398.7 184h0M406.2 184h0M407.3 184.8h0M419.5 192h0M395.4 200.9h0M416.3 195.9h0M411.7 186.9h0M408.4 190.3h0M414.8 179.6h0M412.8 182.5h0M411.2 185.2h0M418.3 184.5h0M405.2 191.1h0M409.8 195.1h0M418.3 185.3h0M420.7 190.1h0M400.9 185.4h0M415 194.6h0M414.9 179.8h0M393 190.9h0M412.2 198.7h0M410.8 190.9h0M401.9 188.3h0M412.7 187h0M416.5 187.2h0M408.7 196.5h0M409.3 190.5h0M408.4 200.6h0M405.1 201.2h0" stroke="#33A02C" stroke-width="2.9" stroke-linecap="round" fill="none"/>
<path d="M372.9 188.1h0M376.9 200.2h0M372.7 193.1h0M403.1 201h0M410.1 192.3h0M377.1 188.4h0M357.4 189.4h0M398.5 189.8h0M416.2 200.3h0M392.3 197.5h0M407.3 202h0M419.1 198.9h0M363.4 189.6h0M389.6 192.2h0M416.8 192.9h0M405.9 190.4h0M365.9 200.3h0M367.3 188.3h0M366.7 199.4h0M411.3 194.8h0M371.9 187.9h0M387.8 194.3h0M400.5 196.5h0M379.5 196.3h0M368.3 186.7h0M373 186.1h0M356.4 189.3h0M404.5 189.8h0M396.1 197.1h0M416.7 193.1h0M408.3 190.2h0M399.4 205.8h0" stroke="#FDBF6F" stroke-width="2.9" stroke-linecap="round" fill="none"/>
<path d="M367.3 192.4h0M359.3 187.7h0M370.7 198.1h0M359.7 185.2h0M361.5 193.8h0M370.3 197.6h0" stroke="#1F78B4" stroke-width="2.9" stroke-linecap="round" fill="none"/>
<path d="M403.7 195.9h0M406.5 199.4h0M412.9 192h0M407.3 202.4h0M401.5 201.8h0M402.5 199.1h0M397.9 198.2h0M410.8 189.6h0M403.6 187.4h0M405.5 189.9h0M415.8 197.3h0M412.2 194.6h0M416.8 197.5h0M410.2 183h0M406.5 185.6h0M422.7 190.5h0M420.4 185h0M397.2 185.5h0M424 192.5h0M400.4 202.3h0M417.9 177.8h0M415.8 188.4h0M416 196.4h0M414.4 181.2h0M420.5 185.4h0M416.1 188.5h0M408.8 185.1h0M401.4 183.4h0M393.9 189.9h0M414.9 195.6h0M414.2 196.2h0M415.3 190.9h0M417.3 180.7h0M421.5 193.3h0M419.6 185.4h0M410.6 200.4h0M414.5 188.4h0M404.1 194.5h0M414.4 182.2h0M393.1 189.7h0M412.8 186h0M402.3 195.9h0M410.1 184.2h0M400.3 194.9h0M417.4 188.2h0M410.6 194.4h0M424.9 195.4h0M397.9 192.7h0M395.1 190h0M421.2 196.3h0M408 195h0M411.1 190.6h0M412.9 182.8h0M399.7 195.9h0M417.2 192.5h0M415.6 180.2h0" stroke="#33A02C" stroke-width="2.9" stroke-linecap="round" fill="none"/>
<path d="M410.9 198.1h0M379 200.9h0M409.1 200h0M373.3 196.2h0M359.3 196.3h0M372.2 201.9h0M379.4 202.1h0M367.2 186.3h0M406.5 203.2h0M372.8 202.4h0M414.7 198.5h0M395.9 197.5h0M390.6 191.9h0M393.1 197.8h0M367.4 187.8h0M392.9 201.2h0M369.8 193.8h0M361.8 196h0M394.1 196.3h0M398.4 194.6h0" stroke="#FDBF6F" stroke-width="2.9" stroke-linecap="round" fill="none"/>
<path d="M370.7 198.7h0M363.5 185.7h0M360.2 188.4h0M362.4 194.1h0M368.1 201h0M371.8 190.5h0M371 194.8h0" stroke="#1F78B4" stroke-width="2.9" stroke-linecap="round" fill="none"/>
<path d="M418.6 184.2h0M408.1 196.9h0M408.1 199.8h0M413.9 182.9h0M412.4 181.9h0M396.9 190.6h0M412.2 195h0M416.8 192.9h0M402.8 196.8h0M416.5 184.8h0M396.1 190.7h0M407 193.4h0M408.1 184.7h0M410 183.7h0M401.6 195.4h0M420 188.2h0M412 198.8h0M401 186h0M394.7 195.9h0M410.1 188.2h0M396 188.7h0M399.2 190.7h0M424.6 192.3h0M420.4 194.2h0M414.1 184.7h0M407.6 202h0M400.3 202.9h0M415.7 189h0M410.1 186.3h0M406.4 184.8h0M398.1 185h0M415.6 180.1h0M420 193.7h0M403.3 194.2h0M401.2 193.3h0M407.7 187.6h0M405.9 193.9h0M408.3 201.8h0M419.6 192.4h0M413.5 187.1h0M408.9 198.4h0M417.8 191.2h0M405.7 200.5h0M401.2 184.8h0M398.9 193.9h0M403.3 184.2h0M400.2 189.9h0M414 183.2h0M418.2 186.2h0" stroke="#33A02C" stroke-width="2.9" stroke-linecap="round" fill="none"/>
<path d="M417.6 199.4h0M386.8 193.1h0M393.7 190.5h0M409.9 204.5h0M418.8 197h0M390.7 193.5h0M372.9 195.8h0M382.9 189.1h0M397.4 191h0M388.6 192.1h0M377 190.8h0M378.9 199.8h0M384.5 196.2h0M398.5 206.7h0M395.9 196.9h0M417.1 196.7h0M401.1 205.1h0M407 189.9h0M412.3 193.1h0M405 193.2h0M373.8 186.6h0M360.8 192.3h0M376.4 199.4h0M405.4 203.9h0M385.3 195.4h0M379.6 201.4h0M360.1 197.1h0M415.1 195.5h0" stroke="#FDBF6F" stroke-width="2.9" stroke-linecap="round" fill="none"/>
<path d="M361.8 201.4h0M366.5 195.5h0M367 188.5h0M366.4 186.8h0M370.6 192.9h0M359.1 186.3h0" stroke="#1F78B4" stroke-width="2.9" stroke-linecap="round" fill="none"/>
<path d="M404 190.2h0M382.6 190.1h0M402.5 189.4h0M413.8 200.8h0M361.5 195.6h0M409.8 199.5h0M374.2 193.9h0M367.5 196.1h0M410.9 199.2h0M406.5 201.5h0M400.9 203.4h0M371.2 188.2h0M396.2 200.5h0M393.3 203.5h0M378.6 201.9h0M383.7 193.8h0M388.3 196h0M364.6 198h0M379.9 200h0M385.7 195.9h0M398.8 196h0M382.7 191.7h0M405.6 196.5h0M369.2 195h0M378.5 191.7h0M417.6 191.8h0M384.1 194h0M413.6 198.7h0" stroke="#FDBF6F" stroke-width="2.9" stroke-linecap="round" fill="none"/>
<path d="M420.7 190.7h0M404.3 198.9h0M404.2 202.3h0M404.9 198.7h0M413 196.1h0M418.4 179.4h0M418.7 180.7h0M408.2 199.7h0M418.2 195.5h0M399.5 189.2h0M404.2 194.9h0M401.5 191.6h0M416 190.2h0M401.8 187h0M398.8 188.5h0M418 198.6h0M415.6 191.6h0M404 194.8h0M408 187.7h0M413.1 193.7h0M417.7 193.2h0M418.9 183.4h0M405.5 193h0M399.4 205.7h0M400.1 190.6h0M406.6 194.2h0M406 198.4h0M414.6 200.2h0M400.9 193.4h0M411.3 180.7h0M417.4 183.9h0M399.2 198h0M416.9 183.2h0M393.3 186.4h0M395.8 196.5h0M410.7 191.5h0M402.4 204.6h0M399.1 205.5h0M418.7 183h0M402.6 188h0M405.8 188.7h0M398.6 188.3h0M410.3 181.7h0M406.6 191.5h0M419.1 198.2h0M415.1 181.3h0M412.3 195.2h0M414.7 190.4h0M422.3 190.7h0M401.6 201.3h0" stroke="#33A02C" stroke-width="2.9" stroke-linecap="round" fill="none"/>
<path d="M363.1 202.1h0M367.8 185.3h0M361.3 194.3h0M366.7 202.6h0M365.5 190h0" stroke="#1F78B4" stroke-width="2.9" stroke-linecap="round" fill="none"/>
<path d="M405.7 190.8h0M416.9 193.5h0M419.7 185.8h0M415.6 196.5h0M401.7 192.4h0M403.1 190.7h0M417.4 196.9h0M396.5 198.7h0M403.2 190.3h0M404.9 187h0M409 193.8h0M425.4 193.2h0M421 188.5h0M415.9 179.2h0M395.9 198h0M412.2 180.1h0M407 189.3h0M419.7 195.3h0M414.3 197.8h0M393 187.6h0M410.7 180.5h0M402 197.2h0M407.9 196h0M420.6 191.6h0M411.3 187.6h0M411.7 189.6h0M421.9 196.3h0M413 200.2h0M399.5 198.4h0M403 198.8h0M422.8 193h0M412 201.1h0M420.8 185.4h0M396.3 195.2h0M404.6 193.9h0M413 191.7h0M407.9 195.5h0M422.5 194.1h0M401.2 186.3h0M416.5 183.6h0M396.5 191.7h0M408.9 196.7h0M405 195.6h0M401.6 195.9h0M412.8 199.4h0M411.1 189.1h0M397.1 185.2h0M413.1 192.4h0" stroke="#33A02C" stroke-width="2.9" stroke-linecap="round" fill="none"/>
<path d="M401.8 189.6h0M382 197.1h0M398.4 196h0M359.1 193.4h0M391 193.9h0M394.9 197.5h0M410.1 205h0M402.3 199.5h0M389.6 191h0M366.3 187.8h0M377.8 200.6h0M407.3 191.4h0M365.8 196.2h0M377.3 194.2h0M378.6 198.5h0M404.8 200.7h0M382.9 197.7h0M397.5 200.1h0M399.5 200.6h0M413.7 202.6h0M388.3 193.3h0M402.1 190.6h0M370.2 199h0M361.4 195.2h0M380.4 192.4h0M396.3 193.3h0M368.2 196.5h0M398 199.9h0M401.6 201.3h0M417.4 193.5h0M416.2 197.6h0" stroke="#FDBF6F" stroke-width="2.9" stroke-linecap="round" fill="none"/>
<path d="M360.5 196.1h0M360.4 197.9h0M358.8 190.4h0M365.9 196.9h0" stroke="#1F78B4" stroke-width="2.9" stroke-linecap="round" fill="none"/>
<path d="M369.9 195.1h0M364.7 201.7h0M367.7 185.3h0M362.5 190.3h0M360.8 185.6h0M369.9 187.3h0M362.7 187.3h0" stroke="#1F78B4" stroke-width="2.9" stroke-linecap="round" fill="none"/>
<path d="M421.5 197.6h0M402 185.3h0M413.6 194.9h0M417.3 194.2h0M420.8 191.5h0M396 186.3h0M405.3 190.4h0M412 187.4h0M422.8 196.8h0M407.5 190.4h0M407.3 191.3h0M413.3 190.2h0M415.9 196.6h0M405.6 181.5h0M419.8 188.8h0M396 202h0M413.5 185.2h0M413.3 191.6h0M410.7 183.8h0M405.2 182.4h0M408.7 187.7h0M410.5 202h0M400.2 189.5h0M404.1 195.5h0M422.4 192.4h0M401.1 194.4h0M411.7 182.7h0M410.7 185.7h0M416.7 185.4h0M417.4 199h0M413.4 186.8h0M422.2 192.1h0M408.2 201.8h0M399.2 194.5h0M408 187.7h0M409.7 188.4h0M418.5 183h0M410.5 198.3h0M403.2 198.2h0M421.9 188.9h0M414.6 181.9h0M404.7 196.8h0" stroke="#33A02C" stroke-width="2.9" stroke-linecap="round" fill="none"/>
<path d="M371.2 198.1h0M393.2 203h0M388.1 191.3h0M414 189.7h0M379.2 194.6h0M394.7 191.4h0M398.4 203.7h0M362 196.2h0M375.1 192.1h0M357.4 189.7h0M375.5 194.2h0M358.7 194.4h0M381.2 200.4h0M386.5 201.4h0M363.5 191.2h0M391 202.1h0M417 200.3h0M403.5 188h0M413.8 190h0M417.4 193.9h0M407.1 200.3h0M365.7 188.1h0M403.2 190h0M373.3 187.3h0M383.7 194.3h0M410.3 194.8h0M386.5 192.4h0M378.5 192.4h0M365.6 199h0M410.8 200h0M402 197.3h0" stroke="#FDBF6F" stroke-width="2.9" stroke-linecap="round" fill="none"/>
<path d="M425.2 188.1C425.8 187.5 428.3 187.4 429.8 187.4C431.2 187.4 433.2 187.6 433.8 188.1C434.3 188.5 433.8 189.6 433 190.2C432.3 190.7 430.4 191.2 429.2 191.3C428 191.4 426.6 191.2 425.9 190.7C425.2 190.2 424.5 188.6 425.2 188.1Z" fill="#FDBF6F"/>
<path d="M426.2 190.8h0M432.9 189.3h0M429.1 190.8h0M425.2 187.9h0M431.1 191h0M432.6 187.6h0M431.2 188.2h0M432 190.1h0M432.8 190.8h0M425.1 189.2h0" stroke="#FDBF6F" stroke-width="2.9" stroke-linecap="round" fill="none"/>
<path d="M411.5 172.2h0M414.4 175.1h0M415.9 176.6h0M412.9 170.7h0" stroke="#FFFFFF" stroke-width="1.8" stroke-linecap="round" fill="none"/>
<path d="M330.6 215.9h0M369.6 233.5h0M398.2 216.3h0M411.2 222.6h0M414.7 208.2h0M418.5 211.5h0M421.5 187.9h0M418.1 178.1h0" stroke="#33A02C" stroke-width="2.9" stroke-linecap="round" fill="none"/>
<path d="M375.7 241.3h0M368.1 207.5h0M381.3 205.6h0M418.4 184h0" stroke="#FDBF6F" stroke-width="2.9" stroke-linecap="round" fill="none"/>
<path d="M393.1 134.4h0M388.7 140.3h0M384.3 142.1h0M382.8 143.2h0M384.3 145.3h0M396.5 144.3h0M380.9 147.9h0M382.8 149.4h0M382.4 151.6h0" stroke="#FF7F00" stroke-width="2.9" stroke-linecap="round" fill="none"/>
<path d="M518.7 226.1h0M521.6 223.5h0" stroke="#E31A1C" stroke-width="2.9" stroke-linecap="round" fill="none"/>
<path d="M490.3 271.2h0M508.3 267h0M502.3 277.2h0M503.6 280.4h0" stroke="#B2DF8A" stroke-width="2.9" stroke-linecap="round" fill="none"/>
<text x="388.7" y="177.6" font-size="16" text-anchor="middle">C7</text>
<text x="384.3" y="201.2" font-size="16" text-anchor="middle">C8</text>
<text x="341.9" y="219.9" font-size="16" text-anchor="middle">C6</text>
<text x="388.4" y="233.9" font-size="16" text-anchor="middle">C5</text>
<path d="M662.9 208.6h0M603 248.2h0M618.3 226.2h0M624.5 227.1h0M657.8 208.8h0M617.7 215.1h0M638.8 207.6h0M607.5 246.8h0M623.8 202.3h0M606.4 251.2h0M652.8 220.3h0M619 223.8h0M627.7 226.1h0M655.9 205.5h0M635.9 227h0M610.8 246.9h0M629.6 204.7h0M627.8 227.9h0M658 204.1h0M639.9 215h0M616.6 227.7h0M622.2 212.2h0M631.9 203.4h0M627.2 234.2h0M622.2 239.7h0M613.2 199.9h0M641.7 220h0M625.2 201.4h0M631.8 221.1h0M645.4 229h0M628.6 204.7h0M631.2 225.6h0M637.2 212.9h0M615.7 230.2h0M648.8 208.3h0M629.4 231.4h0M657.1 205.7h0M632 236.7h0M629.1 195.6h0M635.2 230.3h0M614.4 243.1h0M624.4 229.6h0M636.2 209.1h0M617.4 212.4h0M608.4 238.7h0M626.5 224.1h0M628.4 219.2h0M646.4 202.2h0M644.6 230.2h0M621.5 209.4h0M623.8 198h0M628.2 200.5h0M607.3 242.3h0M654.7 223.6h0M616.4 243.1h0M628 238.2h0M615.9 212.7h0M633.3 234.3h0M634.8 238h0M623 217.8h0M658.4 211.8h0M638.2 217.4h0M637.8 198.5h0M641 205.9h0M641.2 207.1h0M637.7 216.7h0M618.7 202.6h0M618.3 223.2h0M636.1 221.7h0M642.4 227.6h0M651.9 215.1h0M652.3 201.3h0M643.7 201.6h0M625.9 205.8h0M617 212.6h0M628 214.7h0M622.2 195.2h0M616.4 245.6h0M630.8 205.8h0M637.4 200.8h0M621.9 229.5h0M644.7 230.1h0M641.2 215.7h0M650.8 203.9h0M623.6 205.6h0" stroke="#A6CEE3" stroke-width="2.9" stroke-linecap="round" fill="none"/>
<path d="M653 215.2h0M652 205.6h0M655.6 202.9h0M643.1 212h0M631.4 205.6h0M629.7 200.2h0M632.9 211.3h0M645.3 208.7h0M652.8 213.7h0M630.6 209h0M629.2 202.5h0M628.4 198.9h0M646 199.2h0M630.9 210.2h0M641.6 197.8h0M644.1 199h0M650 202.5h0M643.6 208.9h0M637 206.5h0M642 215.7h0M657.4 214.1h0M641.9 213h0M645.3 218.3h0M656.8 213.9h0M630.8 209.7h0M638.5 202.3h0M650.3 202.1h0M647.8 208h0M638 212.7h0M657.8 214.8h0M632.4 211.9h0M640.4 217.9h0M638.7 205.1h0M641.7 204h0M625.8 201h0M638.6 204.9h0M640.6 208.9h0M636.7 200.2h0M656.8 203.4h0M635.5 204.2h0M648.9 208.1h0M627.9 201.8h0M636 206h0M638.5 209.9h0M656.6 211.3h0M643.8 215.4h0M634.9 198h0M656.4 209h0M643.4 198.7h0M649 205.4h0M645.5 203.5h0M655 205.3h0M631 203.2h0M627.3 201.8h0M637.6 214.4h0" stroke="#A6CEE3" stroke-width="2.9" stroke-linecap="round" fill="none"/>
<path d="M581.8 241h0M593.1 236.6h0M598.5 241.1h0M598.8 204.3h0M583.4 218.2h0M598.9 216.6h0M600.2 224.7h0M617.3 198.9h0M600.4 223.2h0M597.9 216.7h0M582.9 231h0M601.6 207.3h0M597.4 204.3h0M582.8 218.8h0M597.5 195.5h0M597.7 219.4h0M613.2 200.2h0M589.4 246.5h0M576.8 224.8h0M580.7 232.9h0M596.2 243.1h0M586.8 240.3h0M594.6 245.8h0M593 231h0M577.9 219.3h0M601.6 195.1h0M603.6 215.3h0M591.7 237.6h0M608.8 196.4h0M588.7 226.3h0M604.5 196.2h0M605 225.6h0M588.6 204.7h0M602.7 224.7h0M605.1 234.1h0M600.6 196h0M586.7 227.3h0M588.1 235.6h0M602 210.1h0M587.5 222.2h0M616.5 210.8h0M596.7 222.9h0M584.8 223.2h0M591.4 216.8h0M600.2 207.6h0" stroke="#1F78B4" stroke-width="2.9" stroke-linecap="round" fill="none"/>
<path d="M586.9 235.5h0M584.8 229.5h0M581.8 217.8h0M585.5 226.5h0M580.7 233.8h0M585.3 220.9h0M581.2 236h0M591.2 231.1h0M582.6 223.6h0M588.3 214.8h0M583.1 234.4h0M588.3 228.1h0M587.6 227.7h0M585.6 218.6h0M584.7 239.2h0M582.9 216h0M587.3 225.7h0M584.9 238.8h0M589.6 212.5h0M586.9 230.2h0M585.3 210.9h0M584.5 236h0M587 211.2h0M586 214.9h0M588.7 238.8h0M591.3 230h0M590.3 212.5h0M584.7 235.2h0M582.7 214.3h0M591.3 231.9h0" stroke="#1F78B4" stroke-width="2.9" stroke-linecap="round" fill="none"/>
<path d="M582.4 239.2C583 237.8 585.7 236.9 587.4 237.2C589.1 237.6 591.6 240 592.8 241.4C593.9 242.7 595 244.5 594.4 245.5C593.7 246.5 590.5 247.4 588.7 247.4C587 247.4 585.1 246.8 584 245.4C583 244 581.9 240.6 582.4 239.2Z" fill="#1F78B4"/>
<path d="M581.8 239.2h0M583.1 241.5h0M585.9 237.2h0M591.4 240.8h0M584.2 238.9h0M583.8 241.5h0M583.6 244.4h0M593.3 246h0M588.8 237.6h0M583.2 242.1h0M589.1 247.3h0M590.4 240.1h0M588.6 238.7h0M588 246.9h0M582.2 240.7h0M590.6 240.3h0M584.1 242.6h0M587.6 246.8h0" stroke="#1F78B4" stroke-width="2.9" stroke-linecap="round" fill="none"/>
<path d="M659.2 182h0M613.8 169.7h0M675 184.7h0M646.2 192.9h0M644.6 174h0M649.7 153h0M658.3 160.9h0M671.1 189.5h0M654.2 194.8h0M648.9 195.7h0M637.7 172.7h0M661 180.2h0M649.1 202.8h0M608.8 172.5h0M661.1 182.8h0M645 166.8h0M626.4 181.6h0M611.8 172.6h0M609.2 180.9h0M633.7 167.8h0M657.6 174.3h0M638.9 187.1h0M647.5 202.1h0M657.8 189.8h0M619.4 188.6h0M608.1 184.3h0M672.9 197.6h0M683.2 193.3h0M649.3 199.6h0M671.2 188.2h0M659.6 162.1h0M631.6 170.6h0M675.7 197.1h0M648.1 188.3h0M640.2 178.4h0M647.4 179.5h0M645.8 198.1h0M657.9 160.2h0M625 176.2h0M638.4 175.1h0M647 168h0M614.2 183.6h0M632.7 193.6h0M628.3 176.9h0M629.8 182.7h0M626.7 190.6h0M637.8 192.8h0M627.6 178.2h0M650.1 193.4h0M658.2 176.6h0M622.7 166h0M660.7 185.3h0M660.1 176.6h0M654.4 189.8h0M640.3 157.1h0M634.6 188.8h0M634.4 181.5h0M624.3 163.9h0M655.1 187.7h0M639.9 176.4h0M615.3 183.5h0M676.6 185.1h0M651.8 167.8h0M657.8 183.9h0M644.1 182.1h0M618.6 169.5h0M645 158.3h0M636.1 184.1h0M638.5 181.1h0M652 171.9h0M635 186.7h0M649.7 163.4h0M616.7 184.5h0M658.8 182h0M644.3 201.5h0M643.2 164.3h0M652.1 164.5h0M661.3 187.6h0M663.2 206.9h0M627.9 191.4h0M672.8 196.1h0M653.7 166.9h0M672.5 191.1h0M674 198.3h0M641.4 174.7h0M670.3 189.7h0M648.6 202.4h0M642.3 157.4h0M660.3 175.6h0M653.4 183.8h0M648.6 178.6h0M637.8 191.8h0M681.6 195.9h0M648.9 172.3h0M648.6 202.8h0M666.4 198.6h0M643.6 201.5h0M618.7 171.2h0M646.5 193.9h0M640.9 169.3h0M638.5 164.7h0M643.8 192.7h0M633.6 190.2h0M644.7 152.4h0M646.2 161.9h0M640.6 165.3h0M653.5 158.3h0M647 189.3h0M610.4 183.6h0M655.1 204.5h0M654.4 162.4h0M638.2 168.2h0M642.5 202.4h0M650.3 194.9h0M655.3 173.5h0M643.1 182.5h0M659.4 161.5h0M642.8 171.8h0M665.5 180.3h0M678.7 184.5h0M647.5 161.6h0M630.1 164.5h0M619.5 187.4h0M651.5 199.7h0M645.9 188.4h0M637.3 193.6h0M652.4 159.9h0M649.1 193.2h0M630.8 179.4h0M643.3 195.2h0M609.1 181.4h0M624.9 185.9h0M624.9 163.7h0M681.9 188.4h0M612.5 181.9h0M644.9 190.7h0M655.7 156h0M628.7 193h0M661.1 178.8h0M651.5 194.4h0M659.7 175h0M645.2 181.2h0M621.2 166.9h0M662 191.7h0M646.1 185h0M620.3 178.9h0M670.6 198h0M649 191.3h0M684 191.1h0M629.9 182.3h0M669.6 185.5h0M661.4 171.5h0M613.7 170.6h0M665.6 184.4h0M614.3 165.7h0M606.7 177.8h0M655.2 174.2h0M638.6 170.1h0M658.1 202.9h0M645.8 201h0M669.5 196.8h0M643.4 167.3h0M654.4 174.8h0M641.5 183h0M652.7 203.4h0" stroke="#33A02C" stroke-width="2.9" stroke-linecap="round" fill="none"/>
<path d="M645 163.1h0M642.3 158.2h0M640.8 165.6h0M645.5 156.9h0M644.1 169.9h0M637.8 162.4h0M650 175.2h0M641.6 158.6h0M646.2 157.6h0M640.7 158h0M659.9 174.3h0M645.4 179.3h0M661.8 177.4h0M654.7 159.2h0M655.2 174.9h0M643.6 169.1h0M654.2 175.5h0M654 156.7h0M661.1 178.1h0M651.2 172.5h0M650.6 177.4h0M651.6 163.2h0M651.2 161.3h0M660.6 176.3h0M643 170h0M653 172.1h0M649.7 170.1h0M655.8 181.1h0M651.2 178.2h0M655.6 158.4h0M644.3 164.2h0M646.9 169.5h0M657 165.9h0M641.7 173.6h0M660.8 178.8h0M646 159.2h0M658.9 167.3h0M646.8 168.7h0M656.8 181.5h0M661.9 177.7h0M642.1 165.9h0M646.5 160.2h0M650.1 158.8h0M654.8 167.1h0M644 175.3h0" stroke="#33A02C" stroke-width="2.9" stroke-linecap="round" fill="none"/>
<path d="M662.1 196.5h0M649.5 195.6h0M658 193.3h0M644.8 189.1h0M653 200.1h0M646.9 194h0M660.1 197.4h0M649 185.3h0M647.8 187.4h0M647.2 186.9h0M652.1 197.3h0M655.6 197.2h0M654.8 196.7h0M648.1 189.1h0M653.9 188.7h0M660.5 195.9h0M658.7 187.8h0M644.6 194.7h0M662.1 198.8h0M651.6 192.8h0M658 199.2h0M658 192.8h0M660.6 192.4h0M644.4 193.3h0M652.8 189.9h0M652.4 188.1h0M650.5 196.4h0M663.1 191.8h0M655 196.4h0M660.9 190.8h0M657.1 194.9h0M651.3 186.5h0M656.2 191h0M663.2 195.1h0M660.3 193.6h0M656.8 187.7h0M659.6 195.1h0M649.3 192.3h0M660.6 194.7h0M657.4 193.1h0M645.3 191.2h0M658.4 198.3h0M645.4 192.7h0M651.2 188h0M646.9 188.1h0M652.9 195.8h0M664.3 193.4h0M646.2 189.4h0M655.2 192.9h0M644.4 186.4h0M658.6 191h0M645.7 192.2h0M651.9 200.4h0M644.8 187.5h0M645.3 193.3h0M646.2 193.1h0M651.6 200h0M659.2 194.2h0M649.3 191.5h0M655.3 190.6h0M656.1 186.1h0M652.9 200.2h0M652.5 192.6h0M660.2 197.4h0M659.9 190.7h0M659.3 187.8h0M647.9 187.4h0M651.4 196.3h0M664.5 194.3h0M662.2 199.4h0" stroke="#33A02C" stroke-width="2.9" stroke-linecap="round" fill="none"/>
<path d="M660.2 119.6h0M659.4 127h0M655.9 133.7h0M650 150.2h0M646.1 153.3h0M577.1 223.1h0M586.5 227.8h0M593.5 242.7h0M603.7 241.9h0M606.1 247.4h0M617.8 245.1h0M627.2 239.6h0M641 234.1h0M658.6 213.7h0M604.5 198h0M609.2 191h0M617.8 209h0M621.7 204.3h0M650 207.4h0" stroke="#33A02C" stroke-width="2.9" stroke-linecap="round" fill="none"/>
<path d="M626.5 190.2h0M642.9 189.7h0M643.7 194.1h0M669.6 189.4h0M672.7 191h0M678.2 189.1h0M657 198h0M664.9 194.9h0M617 197.2h0" stroke="#FDBF6F" stroke-width="2.9" stroke-linecap="round" fill="none"/>
<path d="M630.4 188.6h0M639.8 196h0M651.5 199.1h0" stroke="#FF7F00" stroke-width="2.9" stroke-linecap="round" fill="none"/>
<path d="M632.7 145.9h0M636.6 168.2h0M624.1 175.7h0M628 176.5h0M639 185.5h0M625.7 192.8h0M632.7 210.6h0M612 227h0M597.4 189.7h0M597.9 193.8h0M618.6 198.5h0M620.2 203.5h0" stroke="#1F78B4" stroke-width="2.9" stroke-linecap="round" fill="none"/>
<path d="M642.2 111.2C644.5 110.4 648.3 111.3 651.2 111.9C654.1 112.5 658.9 113.8 659.5 114.9C660.1 115.9 655.8 116.5 654.9 118C653.9 119.6 654 121.9 653.9 124.1C653.8 126.4 655 129.2 654.5 131.4C653.9 133.5 651.5 134.8 650.8 137C650.1 139.2 650.8 142.4 650.4 144.6C649.9 146.7 649.3 148.7 648.2 150C647.1 151.3 645.2 152.4 643.7 152.3C642.3 152.2 640.5 150.8 639.3 149.2C638.1 147.7 637.5 144.6 636.4 143.1C635.3 141.6 633.6 141.4 632.7 140.2C631.9 139 630.9 137.2 631.3 135.8C631.8 134.3 634.5 133.3 635.3 131.4C636 129.4 635.4 126.6 635.8 124.2C636.3 121.7 636.8 118.8 637.8 116.6C638.9 114.4 640 112 642.2 111.2Z" fill="#FF7F00"/>
<path d="M651.3 142.2h0M634 133.8h0M657.4 114.5h0M639.7 148.3h0M643.8 151h0M636.5 129.9h0M650.3 142.4h0M654.8 113h0M659.2 115.4h0M636.2 124.2h0M637.2 120.9h0M654.4 121.3h0M634.4 128.8h0M653.7 132.3h0M642.2 112.4h0M640.3 114.9h0M642.3 152.5h0M649.9 148.3h0M638.9 147.5h0M656.4 112.7h0M658.7 115.9h0M656.8 112.9h0M638.5 148.3h0M638.8 144.8h0M632.7 139.4h0M649.4 140h0M646.6 151.8h0M654.7 133h0M634.7 132h0M634.7 126.1h0M643.7 111.2h0M640.2 114.8h0M647.9 149h0M646.6 151.3h0M646.2 111.5h0M641.2 110.9h0M634.1 133.3h0M643.7 110.9h0M634.7 126.7h0M637.5 122.8h0M647.8 111h0M654.9 114h0M641.1 150.6h0M650.6 112.4h0M650.9 147.1h0M654.6 117.1h0M638.4 146.9h0M633.2 133.3h0M637.2 141.8h0M648.4 148h0M651.3 141.9h0M639.6 114.9h0M641.2 113h0M654.6 111.7h0M638.5 118.5h0M638.9 116.2h0M639.4 148.8h0M631.4 135.5h0M642.9 151.6h0M636.4 123.8h0M635.3 129.6h0M650.2 142.3h0M635.8 122.8h0M653.6 119.1h0M632.9 134.7h0M631.9 139.6h0M634.8 127.8h0M650 141.6h0M646.5 150.4h0M649.2 112.3h0" stroke="#FF7F00" stroke-width="2.9" stroke-linecap="round" fill="none"/>
<path d="M633.5 149.4h0M640.6 153h0M631.9 141.1h0M632.7 137.6h0M637.4 147h0M657.8 114.4h0" stroke="#FF7F00" stroke-width="2.9" stroke-linecap="round" fill="none"/>
<path d="M711.2 55.8C714.7 54.8 722.7 56.5 728.4 57.8C734 59.2 740.7 61.7 745.2 63.9C749.7 66.1 753.4 68.6 755.5 71C757.7 73.4 758.3 75.6 758 78.3C757.7 80.9 755.9 85.6 753.7 86.7C751.5 87.9 747.1 84.6 744.9 85.3C742.6 86.1 742.1 89.8 740.2 91.2C738.2 92.6 735.9 91.8 733.1 93.5C730.4 95.2 726.4 100.5 723.5 101.2C720.7 101.9 718.5 99.8 716.3 97.6C714.1 95.4 711.8 91.5 710.3 87.9C708.8 84.3 707.5 79.9 707.1 75.9C706.6 71.8 707 67 707.6 63.7C708.3 60.3 707.8 56.7 711.2 55.8Z" fill="#FB9A99"/>
<path d="M718.1 99.1h0M713.3 55.3h0M736.4 92h0M739.7 90.1h0M709.4 60.3h0M723.7 101.2h0M708.3 80.1h0M720.8 98.9h0M708.5 82.8h0M710.7 87.1h0M755.9 83h0M720.1 57h0M715.3 96.6h0M713.9 94.4h0M707.1 69.9h0M745 85.5h0M752.3 69.2h0M735.2 60h0M714.4 94.1h0M756.3 81.1h0M710.1 58.5h0M715.2 56h0M723.9 100.5h0M750.7 67.9h0M741.6 90.1h0M724.2 57.3h0M713 90.8h0M707.2 78.2h0M712.6 55.8h0M748.7 85.7h0M745.7 64.2h0M719.2 57.5h0M751.8 68.8h0M757.8 80.8h0M730.4 58.2h0M749.8 86.5h0M706.5 71.8h0M728 57.3h0M751.9 86.8h0M709.9 60.3h0M724.6 100.1h0M707.8 72.3h0M736.8 61h0M711.3 90.8h0M715.1 56.7h0M755.3 73.1h0M711.3 55.8h0M757 74.5h0M757.2 79.8h0M752.7 86.3h0M715.8 95.5h0M707.3 77.1h0M710.3 85.5h0M717.4 98.6h0M708.3 62.1h0M712.3 55.7h0M712.1 55.5h0M706.8 65.2h0M710.6 88.1h0M743.4 86.9h0M712.1 90.9h0M709.5 84.8h0M744.8 86.3h0M757.2 74.4h0M721 100.7h0M708.1 64h0M757.5 77.2h0M716.5 57.1h0M721.6 57.1h0M711.4 56.4h0M712.6 91.3h0M708.1 77.6h0M743.6 63.4h0M757.7 78.8h0M710.2 59.3h0M706.9 69.5h0M756.7 81.3h0M713.5 93.9h0M757.8 79.6h0M725.9 99.6h0" stroke="#FB9A99" stroke-width="2.9" stroke-linecap="round" fill="none"/>
<path d="M724 95.7C726.6 94.8 732.5 94.8 735.9 94.8C739.2 94.8 741.3 94.9 744.1 95.9C746.8 96.8 750.6 98.3 752.5 100.4C754.4 102.6 755.5 106.2 755.5 108.7C755.5 111.3 754.2 113.7 752.5 115.9C750.8 118 747.5 120.6 745.3 121.7C743.1 122.9 741.5 123.3 739.4 122.8C737.3 122.4 734.1 120.6 732.5 119C730.8 117.4 731 114.6 729.3 113.1C727.5 111.6 723.7 111 721.9 109.9C720 108.8 718.3 107.9 718 106.4C717.8 104.8 719.5 102.2 720.5 100.4C721.5 98.7 721.5 96.6 724 95.7Z" fill="#CAB2D6"/>
<path d="M725.1 95.7h0M736.2 121.4h0M756 109.2h0M730.9 114.8h0M753.7 112.4h0M754.7 111.2h0M723.8 96.7h0M735.7 121.4h0M718.2 106.7h0M745.6 97.4h0M736 121.2h0M742 95.5h0M741.9 122.3h0M753.3 104h0M755.2 107.4h0M754.6 109h0M744.9 122.1h0M745.7 121h0M722.3 98.1h0M719.8 103.8h0M725.2 95.5h0M743 121.7h0M720.3 108.4h0M727.2 95h0M747.3 120.1h0M752 100.5h0M754.9 105.8h0M728.6 95.7h0M736.9 95.3h0M731.4 95.5h0M740.1 94.7h0M732.7 95.6h0M719.6 103.7h0M741.5 122.7h0M749 119.1h0M752.7 101.6h0M721.6 98.5h0M754.1 110.7h0M724.9 111.4h0M751.9 100.5h0M735.7 94.3h0M736 120.3h0M746.7 97.2h0M719.2 105.5h0M754.8 109.7h0M752.8 115.6h0M754.4 110.8h0M752.8 100.6h0M732.1 118.8h0M731 115.2h0M749 97.7h0M720.6 100.9h0M754.2 107.2h0M726.4 111.5h0M732.3 119.2h0M755 112.4h0M753.6 103.4h0M753.2 115.8h0M722.3 110.3h0M745.6 120.8h0" stroke="#CAB2D6" stroke-width="2.9" stroke-linecap="round" fill="none"/>
<path d="M711.1 99.1h0M715.5 94.8h0M721.8 101.1h0M725.7 97.3h0M730.8 94.8h0" stroke="#FB9A99" stroke-width="2.9" stroke-linecap="round" fill="none"/>
<path d="M706.6 104.5h0M709.9 103.7h0M711.7 102.9h0M715.5 103.4h0" stroke="#33A02C" stroke-width="2.9" stroke-linecap="round" fill="none"/>
<path d="M755.7 80h0M757.3 79.5h0" stroke="#E31A1C" stroke-width="1.4" stroke-linecap="round" fill="none"/>
<path d="M747.3 80h0" stroke="#B2DF8A" stroke-width="1.4" stroke-linecap="round" fill="none"/>
<path d="M783.5 218.3h0M782.5 220.4h0M778.7 229.8h0M789.4 235.7h0" stroke="#E31A1C" stroke-width="2.9" stroke-linecap="round" fill="none"/>
<path d="M791.9 238.7h0" stroke="#FB9A99" stroke-width="2.9" stroke-linecap="round" fill="none"/>
<path d="M768 255.3h0M754.7 266.8h0M753.2 280.8h0M751.1 282.5h0" stroke="#B2DF8A" stroke-width="2.9" stroke-linecap="round" fill="none"/>
<text x="643.9" y="136.4" font-size="16" text-anchor="middle">C9</text>
<text x="640.6" y="182.2" font-size="16" text-anchor="middle">C7</text>
<text x="598.9" y="216.5" font-size="16" text-anchor="middle">C6</text>
<text x="635.8" y="228.4" font-size="16" text-anchor="middle">C5</text>
<text x="731.5" y="79.7" font-size="16" text-anchor="middle">C3</text>
<text x="739.2" y="113.3" font-size="16" text-anchor="middle">C4</text>
<path d="M867.1 183.4C868.8 179 876 182.5 880.7 182.5C885.4 182.6 890.3 183.1 895.3 183.6C900.3 184.2 906.4 183.9 911 185.6C915.5 187.3 919.1 191.1 922.5 193.9C925.8 196.7 929.7 200.1 930.9 202.2C932.1 204.3 930.9 204.5 929.8 206.4C928.7 208.4 926.2 211.3 924.4 213.8C922.6 216.2 921.1 218.5 919 221C916.8 223.6 914.2 226.6 911.6 229.2C909 231.7 906.4 233.9 903.4 236.3C900.3 238.7 897 241.5 893.2 243.6C889.4 245.7 885 247.7 880.8 249C876.6 250.3 872 251.3 868.2 251.4C864.3 251.4 859.5 250.6 857.6 249.4C855.7 248.2 855.9 246.7 856.6 244.1C857.4 241.4 860.5 236.6 862.1 233.5C863.8 230.3 865.4 227.9 866.5 225.1C867.6 222.3 868 219.6 868.7 216.9C869.4 214.2 871.1 214.3 870.8 208.8C870.5 203.2 865.4 187.8 867.1 183.4Z" fill="#A6CEE3"/>
<path d="M865.8 225.7h0M868.9 217.2h0M858.3 242h0M879.8 182h0M872.5 249.6h0M898.2 184.1h0M909.5 230h0M895.8 240.7h0M879.7 182.4h0M905.8 184.4h0M858.2 241.9h0M884.7 182h0M870.3 251h0M870.1 209h0M870.9 205.5h0M912.8 228.5h0M920.9 217h0M913.2 188.5h0M930.1 205.1h0M860.3 249.2h0M923 215.9h0M916.1 224.7h0M878.9 181.9h0M863.5 230.9h0M867.4 222.3h0M891 245.7h0M922.2 217.6h0M867.8 251.6h0M859.9 236h0M882.9 182h0M868.2 219.3h0M857.3 241.9h0M914.5 226.8h0M870.4 207.5h0M866.8 251.3h0M865.5 228.4h0M866.1 225.1h0M865.3 250.4h0M871.4 251.5h0M927.3 198.7h0M868.8 198h0M856.9 245.6h0M870.8 210.4h0M876.8 183h0M894.6 183.3h0M920.9 219.9h0M858.8 239.7h0M868.4 186.9h0M886.2 182.1h0M894.7 183h0M859.9 237.8h0M871.1 204.9h0M868.2 187.5h0M867.7 224h0M886.4 183.3h0M922.7 215.2h0M899.9 183.5h0M856.2 244.8h0M892.3 183.6h0M913.1 187.1h0M877.1 249.6h0M867.8 220.6h0M928.4 208.5h0M905.6 234.3h0M867 184h0M909.2 230.8h0M878.5 183.2h0M859.7 236.8h0M884.6 182.9h0M859.5 239.2h0M867.3 183h0M898.7 183.4h0M869.7 205.9h0M867.1 184.5h0M881.4 248.2h0M923.3 216.3h0M859 249.7h0M869.3 202.6h0M878.5 248.8h0M860.3 249.9h0M867.2 220.2h0M930.4 206.4h0M915.4 224.8h0M858.3 249.9h0M868.3 195.5h0M864.9 228.1h0M930.9 205.4h0M868.7 190.2h0M922.6 216.3h0M865 228.5h0M916.3 188.8h0M906.4 184.3h0M887.9 245.8h0M864.4 229.6h0M886.7 182.1h0M904.9 184.1h0M881.9 248.8h0M870.3 213.9h0M868.1 192.2h0M860.1 236.2h0M897.7 240.1h0M871.1 208.7h0M917.2 222.6h0M857 246.9h0M869.2 211.1h0M868.5 197.6h0M917.2 221.5h0M914.2 225.7h0M869.4 183.9h0M858.7 239h0M916.3 224h0M924.8 212.7h0M914.3 226.6h0M879.8 182.7h0M918.9 191.6h0M922.9 215.6h0M883.1 181.9h0M891.2 244.4h0M876 249.7h0M880.6 183.2h0M882 248.5h0M929.5 207.5h0M869.4 203.2h0M861.1 249.8h0M862.5 231.6h0M928.7 208h0M910.1 186h0M858 247.1h0M882.9 182.2h0M856.9 245.9h0M873.8 183.4h0M909.5 232.1h0M896 241.3h0M918.4 220.9h0M869.1 213.3h0M925.8 197.4h0M928.5 200.8h0M874.5 250.9h0M891.4 183h0M923.5 215.7h0M890.8 183.5h0M923.5 195.1h0M871.1 209.5h0M882.9 183.3h0M912.9 227.8h0M876.8 183.1h0M893.2 184.1h0M924.7 195.7h0M891.2 244.1h0M870 201.7h0" stroke="#A6CEE3" stroke-width="2.9" stroke-linecap="round" fill="none"/>
<path d="M848.1 186.9C850.3 185.9 852.9 186.2 855.3 186.3C857.7 186.5 860.5 186.5 862.6 187.8C864.6 189.1 866.3 191.9 867.7 194.1C869 196.4 870.6 199 870.7 201.4C870.8 203.9 869.1 206.1 868.4 208.7C867.6 211.3 866.8 214.1 866.1 216.8C865.4 219.5 865.1 222.1 864.2 224.8C863.2 227.5 861.6 230.2 860.3 233C859 235.8 857.5 238.8 856.3 241.5C855.1 244.1 855 248 853.3 249C851.6 250 848.3 247.8 846 247.4C843.8 246.9 842 247.3 839.8 246.3C837.6 245.4 834.6 244.2 832.6 241.6C830.5 239.1 828.5 234.5 827.5 231.2C826.6 227.9 826.3 225.2 826.9 221.9C827.4 218.7 830 214.3 831 211.8C831.9 209.2 831.6 208.9 832.4 206.7C833.3 204.5 834.3 200.9 835.9 198.5C837.5 196.1 839.9 194.1 841.9 192.2C844 190.3 845.9 187.9 848.1 186.9Z" fill="#1F78B4"/>
<path d="M863.7 225.3h0M833.6 203.8h0M870.3 199.9h0M837.3 197.6h0M840.2 246.6h0M840 195.3h0M840.8 245.7h0M832.1 209.2h0M865.7 220.7h0M865.5 223.9h0M829.2 233.6h0M861.1 233.9h0M828.9 234.3h0M856.5 187h0M836.4 244.8h0M851.4 186.1h0M834.4 243.2h0M835.6 197.9h0M850.9 186.6h0M855.3 240.9h0M849 186h0M864.4 223.7h0M869.1 207.8h0M845.4 188.1h0M863.7 189.2h0M853.7 186h0M827.5 223.1h0M852.4 187.3h0M832.1 240.1h0M831.4 210.1h0M852 248.1h0M829.6 234.4h0M849.6 187.3h0M867.1 193.8h0M845.5 246.4h0M826.7 229.4h0M847.9 246.9h0M845.3 190.5h0M871.1 201.3h0M827.8 229.7h0M841.4 192.6h0M826.6 228.2h0M864.8 224.5h0M866.5 192h0M855.7 241.9h0M827.4 223h0M856.1 185.6h0M827.3 228.1h0M831.5 211.7h0M849.8 247.4h0M827.7 229.6h0M849.4 249h0M860.1 232.8h0M828.5 220.8h0M855.9 240.9h0M852.8 249.5h0M868.4 211.4h0M866.7 216.9h0M826.7 225.6h0M854 246.7h0M841.6 192.8h0M852.2 187h0M844.7 248h0M827.8 232.4h0M858.6 187.6h0M864.1 222.7h0M836 198.1h0M856.4 240.8h0M857.7 238.9h0M865.4 220.5h0M865.2 221.4h0M864 225.4h0M831.9 209.4h0M839.9 245.9h0M868.1 195.5h0M851 186.7h0M854.2 246.8h0M867 191.8h0M834 204h0M833.1 204.3h0M857.3 240.5h0M828.2 227.1h0M849.7 248.1h0M838.3 246.3h0M846.6 188.4h0M864.3 190.7h0M868.4 210.2h0M826.8 227.8h0M827.6 218.4h0M847.1 247.3h0M843 246.1h0M859.1 187.5h0M859.4 236.3h0M861.6 229.8h0M834.7 242.3h0M828.7 236h0M844.5 247.3h0M869.6 206.5h0M861 232.7h0M827.9 234h0M837 198h0M847 187h0M867.7 210.3h0M868.5 209h0M833.9 243h0M867.1 212.8h0M851.4 186.4h0M866.4 219h0M844 247h0M835 202.7h0M837.2 195.7h0M867.3 193.4h0M861.7 230.2h0M834.5 242.3h0M828 218.3h0M827.6 219.8h0M868.9 205.2h0M861.3 230.7h0M866.1 215.1h0M856.1 241.1h0M868.3 196.1h0M842.2 245.7h0M839.3 196h0M857.5 237.9h0M867.7 213.5h0M836.8 199.1h0M867.8 195.4h0M864.4 220.9h0M846.1 246.8h0M867.4 212.8h0" stroke="#1F78B4" stroke-width="2.9" stroke-linecap="round" fill="none"/>
<path d="M860.1 232.6h0M869.5 219h0M863.2 227.3h0M865 229h0M867.5 210.3h0M864.4 222h0M866.8 213.1h0M867.5 214.3h0M870.1 208.1h0M866.1 228.1h0M869.6 213.4h0M860.7 231.4h0M869.4 215.4h0M865 218.4h0M864.4 230.1h0M862.6 236.6h0M857.9 239.3h0M869.5 218.9h0M860.5 234.3h0M869.5 213.9h0M862.1 234.3h0M868.9 215.6h0M869 219.6h0M863.2 228.7h0M864.3 221.2h0M867.7 212.2h0M862.1 238.2h0M862 232.3h0M864 226.2h0M867.3 222.6h0M865.4 221.8h0M860.4 233.4h0M869.7 207.9h0M865.3 208.2h0M862.5 228.4h0" stroke="#A6CEE3" stroke-width="2.9" stroke-linecap="round" fill="none"/>
<path d="M868.8 212.8h0M868 225.1h0M866 214.8h0M869.5 221.1h0M866 219.6h0M870.4 197.2h0M865.8 225.6h0M864.6 220.5h0M868.4 188.2h0M871.5 208.9h0M864.2 187h0M860.6 238.4h0M870.4 190.7h0M861.8 187.4h0M867.9 210.3h0M873.6 194.1h0M868.9 199.4h0M872.1 202.4h0M863.6 226.5h0M869.5 199.9h0M861.3 237.4h0M871.8 197.1h0M872.3 199.1h0M866 220.5h0M865.3 219.4h0M871.7 211.4h0M862 233.6h0M869.1 203.3h0M871 196.6h0M865.7 220.6h0M867.7 202.5h0M862.6 233h0M870 215.5h0M864.3 227.4h0M871.2 208.3h0M862.1 188.2h0M871.8 210.9h0M864.3 188.7h0M862 229.7h0M868.2 200.4h0M869.7 220.2h0M868.8 205.8h0M869.3 194.6h0M860.3 238h0M865.6 233.1h0M861.3 233.2h0M868.2 208.9h0M870.7 212.8h0M869.1 191.9h0M865.9 195.9h0M868.3 206h0M859.3 243.5h0M867.1 225.5h0M870.7 214.3h0M866.8 227.2h0M866.9 215.2h0M869.7 210.6h0M875.7 198.3h0M870.2 208.3h0M861.4 232.5h0M873.4 202.1h0M867.6 212.8h0M872.4 192h0M870 196h0M870.3 188.8h0M858.4 237h0M866.7 212.3h0M860.3 237.4h0M859.7 242.1h0M863.1 234.8h0M864 227h0M872.2 190.8h0M871.9 198.8h0M861.4 231.3h0M872.4 208.4h0M869 193.9h0M869.4 202.5h0M867.9 192.1h0M874.6 198h0M867.4 196.8h0M865.5 218.2h0M861.8 228.2h0M858.6 239.4h0M874.7 197.8h0M868 221.4h0M866.5 188h0M871.5 191.6h0M867.6 201.4h0M859.8 242.1h0M868.4 219h0" stroke="#1F78B4" stroke-width="2.9" stroke-linecap="round" fill="none"/>
<path d="M845.9 202.6h0M836.2 207.7h0M832.9 215.8h0M862.6 208.2h0M855.6 219h0M852.3 233h0M850.7 236.8h0M845.9 225.5h0" stroke="#FFFFFF" stroke-width="1.6" stroke-linecap="round" fill="none"/>
<path d="M890.9 113.3C892.1 112.5 893 112.5 894.8 113C896.7 113.4 900.7 114 901.9 116.2C903.2 118.3 902.3 122.5 902.4 125.9C902.6 129.3 903 132.8 902.9 136.7C902.7 140.5 902.2 145.9 901.7 149C901.1 152.1 901.4 153.6 899.5 155.5C897.6 157.4 892.7 159.7 890.1 160.4C887.5 161.1 885.1 161 883.8 159.6C882.5 158.3 882.9 154 882.3 152.2C881.8 150.5 880.4 151.4 880.5 149C880.6 146.7 882.2 141.7 883 138.1C883.7 134.6 884.2 131.1 885 127.7C885.8 124.3 886.8 120.3 887.8 117.9C888.8 115.5 889.7 114.1 890.9 113.3Z" fill="#FF7F00"/>
<path d="M884.3 126.7h0M902.8 129.8h0M886.2 121h0M887.1 121.7h0M902.2 147.4h0M881.1 144.8h0M899.9 115.6h0M893.1 113.9h0M883.5 133.7h0M883.8 160h0M899.7 153.4h0M881 144.6h0M880.4 148.2h0M891.4 159.4h0M902.7 134.9h0M889.4 114.3h0M901.6 119.9h0M894.2 159.7h0M902.6 147.8h0M900 114.5h0M888.8 116.2h0M891.9 158.8h0M894.9 158.2h0M889.7 116h0M902.6 120.3h0M885.2 125.7h0M883.3 133.5h0M884.8 129.9h0M893.2 113h0M902.5 131.5h0M885 131.5h0M880.2 149.5h0M889.6 113.4h0M901.6 121.4h0M882.1 156.3h0M899.2 153.7h0M890.3 160.1h0M901.7 117.1h0M900.2 116.1h0M882.9 159.2h0M899.3 114.3h0M889.4 159.9h0M902.8 117.8h0M881.5 149.5h0M883.6 160.3h0M879.9 148.8h0M902.1 120.3h0M895.1 158.4h0M901.4 142.4h0M886.6 122.4h0M883 140.1h0M888.4 118.3h0M901.7 121.5h0M884.9 160.2h0M901.6 143.5h0M902 117h0M901.2 151.5h0M882.2 156.6h0M882 146.4h0M883.2 152.9h0M881.7 152.9h0M882.2 144.6h0M902.4 129.8h0M881.7 139.8h0M903 128.3h0M885.5 124.5h0M899.7 153.6h0M893.4 112.8h0M894.8 114.2h0M884.7 129.2h0M887.1 123.4h0M885.8 160.3h0M884.3 157h0M886.5 123.9h0M884.1 129.5h0M885.6 159.2h0M884.9 130.6h0M902.9 140.3h0M886 126.3h0M882.8 153.3h0M892.2 160.6h0M895.3 112.8h0M883.8 130.9h0M902.2 128.3h0M902.2 118.7h0M881.6 140.7h0M903.7 134.2h0M880.2 151h0M883.5 154.4h0M898.1 114h0M903.3 128.3h0M901.2 145.6h0M897.1 113.3h0M902.9 124.1h0M889.5 115.2h0M882.3 142.8h0M902.8 121.7h0M889.3 159.5h0M903.7 134h0M902.9 136.3h0" stroke="#FF7F00" stroke-width="2.9" stroke-linecap="round" fill="none"/>
<path d="M856.8 166.5C858.8 165.3 863.1 165.5 866.5 165C869.9 164.6 874 164.3 877.1 163.8C880.2 163.3 883.1 163 885.1 162C887.1 161 887 158.8 889 157.8C891 156.8 894.3 156.2 897.1 156C899.8 155.9 902.9 156.1 905.3 156.8C907.8 157.6 910.2 158.6 911.6 160.3C913 162.1 912.6 165.2 913.6 167.6C914.7 169.9 916.8 172.5 917.9 174.7C919 177 919.9 179.2 920.1 181C920.3 182.7 920.1 184.1 919.1 185.1C918 186.1 916 186.8 913.7 187.1C911.4 187.4 908.4 187.1 905.2 186.9C902.1 186.7 898.3 186.4 894.9 186C891.5 185.7 888.4 185.2 885.1 184.9C881.8 184.6 878.4 184.4 874.9 184.2C871.5 184.1 867.5 184.2 864.3 184C861.1 183.8 857.5 183.9 855.7 183.1C854 182.2 853.8 180.8 853.6 178.9C853.5 177 854.2 173.7 854.7 171.6C855.3 169.6 854.9 167.6 856.8 166.5Z" fill="#33A02C"/>
<path d="M873.7 183.8h0M862.6 166.4h0M876.7 185.4h0M896.7 187.3h0M887.5 186.1h0M905.3 185.9h0M890.7 156.5h0M886.6 159.5h0M880.2 163.1h0M875.2 185.3h0M887 160.2h0M910.1 158.6h0M899.5 187h0M901.4 157h0M865.9 183.3h0M890.4 158h0M885.8 184.3h0M918.5 182.6h0M903.8 187.5h0M889.8 158h0M891.8 157h0M864 165.6h0M868 184.9h0M894.2 186.6h0M905.3 186.2h0M892.9 155.9h0M913 167.3h0M866.1 184.9h0M865 184.2h0M887 158.3h0M887.6 157h0M870.9 184.9h0M867.9 165.5h0M912.4 164.8h0M915.5 185.5h0M876.3 164.8h0M862.5 165.6h0M898.7 156.2h0M897.5 156h0M868.7 184.2h0M869.7 183.8h0M854.4 179h0M904.2 156.6h0M864.9 184.1h0M919.2 185.1h0M877.8 162.9h0M873.7 164.4h0M871.6 184.2h0M892.9 156.9h0M915.1 170h0M856.6 166.7h0M866.8 183.4h0M919.3 179.4h0M875.6 184.6h0M903.9 157.4h0M876 184.5h0M885.3 162.5h0M874.2 184.5h0M883.9 162.8h0M859.3 165.8h0M888.3 186h0M853.3 177.1h0M876.6 162.9h0M854.8 172.5h0M867.2 164.5h0M875.7 183.8h0M879.5 162.8h0M909.7 186.4h0M878.6 163.2h0M917.7 174.3h0M877.6 164.1h0M890.3 185.5h0M888.8 159.1h0M918.1 176.6h0M855.4 170.1h0M877.6 163.2h0M893 156.6h0M897 187h0M883.1 162.5h0M872.4 183.6h0M856 183.5h0M917.6 186.8h0M882.2 184.3h0M904.8 157.4h0M856.5 183h0M853.6 174h0M884.6 161.8h0M913 164.7h0M910.5 158.8h0M920.8 180.8h0M855 175h0M859.4 166.1h0M863.9 183.2h0M878.2 184.4h0M878 163.8h0M887.1 184.1h0M865.8 183.8h0M911.5 159.8h0M868.5 164h0M858.5 165.8h0M917.1 174.9h0M855.3 183h0M915 187.4h0M912.3 165.6h0M873 183.7h0M884 163.3h0M896.9 156.4h0M888.5 158.2h0M853.1 177.4h0M879.7 162.4h0M915 171.2h0M893.9 156.4h0M883.7 161.2h0M858 165.3h0M920.7 180.4h0M905.1 156.7h0M906.5 157.3h0M879.7 162.7h0M874 163.5h0M919.4 185.1h0M881.7 184.5h0M888.9 158h0M911.9 162.3h0M886.8 161h0M864.3 183.3h0M893 156.5h0M905.7 186.8h0M917.2 172.7h0M854.2 177.5h0M863.7 166.2h0M914.8 188h0M895 156.2h0M885.4 162.2h0M853.7 176h0M868.1 184.9h0M911.6 162.4h0M854.2 177.8h0M887.8 160h0M910 187.7h0M918.1 174.9h0M917.5 174.7h0M858.9 183h0M892 186.5h0M894.4 156h0M871.3 183.1h0M873.9 164.2h0M875.1 183.3h0M907.1 186.8h0M899.1 155.7h0M869 184.6h0" stroke="#33A02C" stroke-width="2.9" stroke-linecap="round" fill="none"/>
<path d="M929.4 199.9h0M927 194.3h0M912.9 187.9h0M919.1 201.5h0M925.5 201.9h0M914.1 195.2h0M921.7 192.3h0M926.1 186.8h0M916.8 192.4h0M923.8 199.8h0M935.5 192.5h0M921 184.9h0M912.7 187.2h0M917.6 187.3h0M911.8 188.2h0M914.5 201h0M922.9 196.5h0M918.8 201.6h0M916.7 200.7h0M922.8 185h0M923.4 196.7h0M930.2 189h0M912.4 198.2h0M915.3 188.9h0M927.1 192.7h0M928.9 190.2h0M912.2 189.5h0M925.4 195.6h0M924.8 197.2h0M910.2 195.4h0M931.8 198.6h0M917.7 193.4h0M916.8 185.2h0M917.8 189.4h0M922.4 201.1h0M921.6 186.9h0M914.2 193.2h0M917.9 201.8h0M915.4 203.3h0M912 191.7h0M914.1 202.5h0M922.5 202.3h0M913.8 195h0M929.6 190.4h0M917.5 197.3h0M921.1 199.6h0M920.9 203.3h0M909.8 188.9h0M934.3 197.3h0M922.2 185.1h0M910 189.1h0M920.2 196.5h0" stroke="#33A02C" stroke-width="2.9" stroke-linecap="round" fill="none"/>
<path d="M884.1 190.3h0M877.1 189.6h0M895.6 202.8h0M898.3 194.4h0M926 187.1h0M878.7 190.4h0M898.1 200.8h0M894.1 197.9h0M902.6 194.9h0M896 198.2h0M886 199.8h0M935.7 190.7h0M893.6 192.9h0M882.4 190.8h0M911.6 190.4h0M901.1 193.7h0M905.8 189h0M923.6 187.9h0M876.7 193.2h0M887.3 195.6h0M880.5 197.4h0M882.8 200.1h0M922.7 189.1h0M932.3 188.9h0M896.2 197.1h0M920 188.3h0M872.5 191.3h0M895.6 189.9h0M917.1 197.8h0M889.1 190.6h0M925.7 189h0M912.6 190.9h0M882.1 193.3h0M924.4 191.6h0M916.6 199.1h0M934.3 190.2h0M923.9 187.7h0M905.9 191.1h0" stroke="#FDBF6F" stroke-width="2.9" stroke-linecap="round" fill="none"/>
<path d="M863.4 187.5h0M862.8 193h0M875.8 195.5h0M874.9 191.5h0M878.1 198h0M863.5 197.9h0M871 187.4h0" stroke="#1F78B4" stroke-width="2.9" stroke-linecap="round" fill="none"/>
<path d="M879.1 196.7h0M900.6 199h0M896.5 195.5h0M875.3 197.9h0M873.1 190.2h0M926.7 188.3h0M901.9 189.2h0M865.7 193.9h0M885.4 188.4h0M882 193.8h0M906.2 199.1h0M935.2 190.4h0M889.2 195.6h0M868.5 194.6h0M878.3 196h0M871.7 185.8h0M931.1 187.8h0M926.6 191.9h0M879.5 199.3h0M880.7 194h0M881.5 191.6h0M904.6 190.9h0M894.9 196.2h0M895.6 193.7h0M872.6 196.6h0M867.5 197.5h0M895.9 198.8h0M862.5 188.6h0M884.1 198.5h0M884.6 186.9h0M910.8 192.4h0M874 198.2h0M914.8 192.6h0M885.5 189.4h0M889.5 199.2h0M920.9 189.4h0M911.1 195.7h0M931.1 190.9h0M888.4 191.5h0M927.3 191.4h0M895.1 198h0" stroke="#FDBF6F" stroke-width="2.9" stroke-linecap="round" fill="none"/>
<path d="M920.2 199.2h0M913.8 195.6h0M933.4 196.6h0M927.6 196.4h0M912.8 195.2h0M914.9 187h0M924 199.3h0M930.7 191h0M922.4 182.9h0M919.7 194.8h0M922 195.5h0M927.4 191.6h0M926.6 194.7h0M913.7 196.4h0M935.1 194.2h0M923.8 199.2h0M920.9 186.8h0M918.6 204.9h0M926.9 198.9h0M935.8 193.3h0M919.2 185.4h0M915.5 196.1h0M909.5 185.4h0M927.1 197.7h0M922.1 182.6h0M923.1 191.5h0M916.2 204.6h0M924.5 189.2h0M909.5 191.9h0M915.9 200h0M919.7 194.2h0M924.6 193.3h0M929.3 189.6h0M925.2 191.2h0M914 185.6h0M911.3 191h0M912.9 188.7h0M912 186.4h0M921.7 198.1h0M929.3 190.5h0M933.7 197.7h0M915.9 195.7h0M917.3 202h0M927.9 192.8h0M918.3 202h0M919.9 196.7h0M924.7 189.4h0M915.2 204.6h0M920.3 202.2h0" stroke="#33A02C" stroke-width="2.9" stroke-linecap="round" fill="none"/>
<path d="M879.6 192h0M879.1 196.2h0M864.5 191.3h0M864 196.3h0M875.5 188.7h0M877.4 192.9h0M861.1 189.3h0" stroke="#1F78B4" stroke-width="2.9" stroke-linecap="round" fill="none"/>
<path d="M883.9 198.3h0M924.7 188h0M872.6 198.2h0M932.4 193.2h0M906.2 195.9h0M875.7 187.1h0M892.3 195.2h0M911.1 196.9h0M883.6 191.2h0M875.8 193.3h0M879.1 198.3h0M864.8 195h0M875.7 195.2h0M931.6 190.2h0M860.2 191.8h0M883.6 199.1h0M897.2 203.5h0M873.6 186.1h0M925.7 193.7h0M875 194.8h0M871.7 191.2h0M900.2 203.8h0M862.5 195.1h0M916.6 190.5h0M926 188.8h0M920.8 192.9h0M908 194.3h0M863.7 195.3h0M904.8 197.2h0M925.8 188.6h0M922.5 190.6h0M900.9 201.7h0M885.4 188.1h0M924.7 188.2h0M900.4 196.3h0M895.7 192.6h0M875.6 186.2h0" stroke="#FDBF6F" stroke-width="2.9" stroke-linecap="round" fill="none"/>
<path d="M921.2 204.5h0M920.5 183.6h0M925.7 197.9h0M928.9 196.8h0M927.2 189h0M916 198h0M920.1 202.5h0M918.1 203.7h0M923.7 205h0M913.3 193.9h0M921.7 189.1h0M909.9 193.8h0M920.8 188h0M917.5 199.7h0M932.3 194.8h0M914 201.9h0M918.9 185.6h0M924.9 205h0M925.6 189.8h0M919.5 191.1h0M912.3 195.8h0M911.8 199.4h0M911 187.3h0M927.3 202.1h0M913.1 202.7h0M929.9 196.4h0M925.2 203.3h0M913.1 192h0M923.8 192.2h0M924.7 200.8h0M911.4 199.1h0M921.4 206.4h0M933.8 195.2h0M916.7 198.5h0M917.5 184h0M912 196.3h0M911.7 194.1h0M934 193.4h0M928 199.9h0M924.3 184.3h0M919 202.4h0M919.4 206.7h0M913.9 200.8h0M913.8 188.7h0M913.4 190.8h0M912.9 186.4h0M916.1 184.9h0M915.5 189.1h0M924.8 203.8h0M923.1 195.6h0M916.6 186.6h0M930.3 187.5h0M910 193.7h0M919.2 189.2h0" stroke="#33A02C" stroke-width="2.9" stroke-linecap="round" fill="none"/>
<path d="M876.8 198.4h0M865.2 188.5h0M874.5 190h0M869.1 190h0M872.2 187h0M877.8 199.8h0" stroke="#1F78B4" stroke-width="2.9" stroke-linecap="round" fill="none"/>
<path d="M879.9 196h0M888.7 188.3h0M879.7 201.5h0M928.8 189.9h0M925 187.9h0M886.2 186.9h0M893.1 199.9h0M887.6 193h0M924.8 187.2h0M892 191.6h0M929.9 188.1h0M896.3 196.8h0M909.4 197.2h0M895.1 188.8h0M872 197.6h0M925.2 196.3h0M887.2 194.1h0M894.3 202.7h0M861 194.7h0M896.2 190.7h0M913.7 200.8h0M913.8 193.1h0M933.3 191.4h0M868.1 195.9h0M896.8 191.6h0M892.8 196.4h0M914 196.2h0M892.6 188.6h0M867.6 190.9h0M875.6 194.9h0M914.4 192.7h0M860.8 193.9h0M924.4 192.3h0M894.2 196.2h0M922.6 190.1h0M865.4 195.8h0M880.2 188.8h0M910.6 189.1h0M909.6 196.8h0" stroke="#FDBF6F" stroke-width="2.9" stroke-linecap="round" fill="none"/>
<path d="M930.1 200.1h0M919.1 197.5h0M926.7 200.3h0M912.8 189.5h0M910 187.3h0M913.6 197h0M921.1 198.4h0M915.2 186.5h0M930.7 194.8h0M918.3 192.9h0M910.5 187h0M914 204.3h0M920 188.8h0M920.3 185.9h0M933.1 193.6h0M925 188.6h0M919.1 182.9h0M931.1 196.7h0M929.9 197.8h0M925.8 200.8h0M921.9 198.7h0M931.4 198.7h0M917.6 186.3h0M913.8 202.4h0M931.6 198.2h0M921.5 198.1h0M919.5 182.9h0M916.9 196.3h0M920.4 196.3h0M917.6 184h0M915.7 191.1h0M915.1 203.3h0M915.5 198h0M927.6 201.9h0M932.5 189.2h0M927.1 189h0M913.1 193.2h0M910 188.9h0M927.9 197.7h0M917.7 203.8h0M933.3 193.8h0M923 192.7h0M913.7 192.4h0M919.8 189.6h0M926.7 196h0M915.5 184.5h0M920.8 199.1h0M926.6 189.3h0" stroke="#33A02C" stroke-width="2.9" stroke-linecap="round" fill="none"/>
<path d="M869.3 186.2h0M864.4 200.8h0M868.6 188.5h0M871.6 192.5h0M866.4 195.8h0M866.8 193.7h0M866 196.2h0M861.7 187.5h0M866.4 197.5h0M872.5 191.4h0" stroke="#1F78B4" stroke-width="2.9" stroke-linecap="round" fill="none"/>
<path d="M929.4 202.2h0M923.6 191.6h0M914.3 196.4h0M910.7 192.1h0M914.7 201.9h0M914.8 203.8h0M922.7 203.7h0M912.3 185.2h0M925.7 189h0M912.6 201.2h0M922.7 203.3h0M923.8 189.6h0M918.6 186.9h0M909.7 189h0M919.1 196.7h0M930 199.8h0M920.8 202.8h0M929.1 199.1h0M917 199.2h0M921.1 195.3h0M929.7 197.7h0M928.9 202.9h0M928.2 199.7h0M922.5 185.5h0M934.1 197.5h0M928.2 191.7h0M929.9 199.2h0M924.7 184.1h0M910.7 195.1h0M926.6 203.8h0M911.2 194.3h0M926 203.2h0M919.2 202.5h0M922.1 199.7h0M914.7 198.9h0M913.8 188.4h0M932.9 198.9h0M920.4 187.1h0M916.1 190.9h0M933 195.8h0M923.9 186.1h0M926.5 186.2h0M928 195.3h0M911.7 198.6h0M926 198.9h0M915.1 198.5h0M916.6 193.3h0M928.5 192.4h0M936.2 193h0M931.7 191.1h0" stroke="#33A02C" stroke-width="2.9" stroke-linecap="round" fill="none"/>
<path d="M923.7 191.2h0M874.7 191.1h0M890.8 195.5h0M887 201.7h0M861.2 193.9h0M890.4 195.5h0M898 201.4h0M892.2 197.8h0M927.2 191.6h0M878.8 196.6h0M892.7 194.7h0M925.1 191.9h0M897.9 192.5h0M917.9 191.7h0M920.3 186.9h0M910.3 188h0M875.9 186.9h0M912.5 190.9h0M925.1 194.5h0M928.6 189.6h0M897.6 190.5h0M904.1 191.1h0M871.7 189.8h0M899.8 195.7h0M891.3 192.3h0M927.5 187.5h0M900.3 191h0M900.4 189.2h0M923.3 188.6h0M891.9 193.3h0M918.5 191.6h0M866.9 194.4h0M895.2 196.7h0M874.4 189.5h0M927 187.6h0M890.1 197.7h0M901.4 201.9h0M863.5 193.8h0M877.4 191.6h0" stroke="#FDBF6F" stroke-width="2.9" stroke-linecap="round" fill="none"/>
<path d="M876.2 190.5h0M870.9 194h0M869.6 190.6h0M872.8 199.4h0M874.3 192.8h0M868.8 193.1h0M870.5 199.5h0M862.7 187h0" stroke="#1F78B4" stroke-width="2.9" stroke-linecap="round" fill="none"/>
<path d="M911.3 197.6h0M918 197.4h0M912.3 198.8h0M922 203.7h0M912.1 190.9h0M912 195.2h0M922 190h0M930.9 194.9h0M909.1 187.5h0M914.2 187.2h0M922.7 184.2h0M915.6 199.5h0M913.8 195.7h0M922.2 182.7h0M930.2 201.4h0M932.1 193.5h0M912.5 187.9h0M924.4 195h0M922.9 191.5h0M920.5 200.7h0M931.2 201.4h0M910 185.9h0M920 200.5h0M918.9 193.7h0M909.7 185.5h0M935.7 196.2h0M916.9 183.1h0M921.5 185.4h0M931.5 196.5h0M913.1 202h0M935.6 197.5h0M923.4 205.7h0M920.4 202.9h0M914 186.1h0M928.5 202.5h0M926.6 203.3h0M913.7 194.9h0M921.7 196.2h0M915.5 196.4h0M929 202.9h0M931.1 200.2h0M924.6 197.7h0M923.8 195h0M926.5 193.5h0M918.7 205.5h0M928.6 200.8h0M923.7 204.4h0" stroke="#33A02C" stroke-width="2.9" stroke-linecap="round" fill="none"/>
<path d="M922.3 190.5h0M882.8 199.8h0M864 191.1h0M923.5 190h0M870.3 194.4h0M902.6 198.8h0M929.1 188h0M929 190.9h0M920.9 187.9h0M898.7 202h0M867.5 188.4h0M918.1 187.4h0M886.4 196.7h0M870.9 190.2h0M871 192.2h0M876.5 197h0M895.9 195.8h0M875.3 198.5h0M928.2 187.8h0M892.1 192.2h0M896.5 194.1h0M875.6 197.6h0M903.9 194.8h0M871.5 194.7h0M907.2 189.9h0M922.9 185.8h0M934.8 191.5h0M884.3 198.9h0M889.1 194.5h0M911.4 193.6h0M862.2 189.3h0M865.2 188.3h0M924.1 191.5h0M870 187h0M886.8 199.6h0M918.8 187.6h0M893.3 187.6h0M881.3 198.2h0M887.7 192.3h0M893.7 201.6h0M925.8 192.7h0" stroke="#FDBF6F" stroke-width="2.9" stroke-linecap="round" fill="none"/>
<path d="M873.9 187.2h0M878.2 197.1h0M864.9 185.2h0M869.4 194.1h0M876.2 188.8h0M877.2 193.6h0M879.4 192.6h0" stroke="#1F78B4" stroke-width="2.9" stroke-linecap="round" fill="none"/>
<path d="M923.6 188.3C924.3 188 926.5 188.5 928.2 188.8C929.9 189.2 933.3 190.1 933.7 190.6C934.2 191.1 932.1 192 931 192.1C930 192.2 928.4 191.2 927.2 191C926 190.7 924.4 191 923.8 190.6C923.2 190.1 922.9 188.5 923.6 188.3Z" fill="#FDBF6F"/>
<path d="M928.4 188.9h0M930.4 189.1h0M929.2 191.6h0M924.9 187.9h0M925 191.1h0M930.9 189.3h0M927.1 188.4h0M925.8 190.5h0M930.5 191.8h0M925.2 188.2h0M927.2 188.7h0M930.8 192.2h0" stroke="#FDBF6F" stroke-width="2.9" stroke-linecap="round" fill="none"/>
<path d="M928.6 198.1h0M933.2 193.1h0M924.7 203.7h0M934 196h0M922.3 197.2h0M935.1 198h0M924.9 203h0M930.9 198.5h0M922.7 205.2h0M930.1 193h0M923.2 197.8h0M921.8 192.6h0M919.9 197.9h0M924.9 195.2h0M921.8 195.7h0M928.3 201.8h0M925.2 201.8h0M927.8 203.2h0M920.1 204.9h0M923.5 193.3h0M930.2 193.8h0M923.9 197.6h0M929 198.8h0M925.1 198.5h0M923.6 203.6h0M927.3 201.5h0M933.8 197.8h0M926.2 203.4h0M922.3 193.4h0M933.1 199.3h0M921.9 192.8h0M934 194.8h0M920.2 198.9h0M930.6 199.6h0M929.8 195.9h0M934.4 198.4h0M931.5 192.3h0M922.8 202.4h0M929.9 201.6h0M921.6 195.5h0M926.5 192.4h0M925.1 193.1h0M923.4 196.2h0M917.6 194h0M933.9 197.1h0M934.9 195.6h0M926.8 198.9h0M924.6 203h0M926.6 196.2h0M931.3 198.6h0M924.7 201.8h0M920 198.1h0M920.8 204h0M931.9 197h0M931.9 199.2h0M929.4 194.6h0M931.6 200.8h0M924.6 202.7h0M921.9 202.5h0M933.1 193.5h0M930.8 195.4h0M922.2 196.3h0M931.7 200.6h0M924.3 201.3h0M932.3 193.9h0M933.4 198.8h0M921.1 198h0M924.4 199.1h0M925.5 198.6h0M932.8 192.7h0" stroke="#33A02C" stroke-width="2.9" stroke-linecap="round" fill="none"/>
<path d="M857.7 172.1h0M860.4 175.9h0M864.2 182.3h0M869.4 182.3h0M885.8 188.3h0M878.2 194.7h0M882.5 206.1h0M857.2 249.2h0M845.9 189.4h0" stroke="#1F78B4" stroke-width="2.9" stroke-linecap="round" fill="none"/>
<path d="M879.3 209.8h0M861.5 232.5h0M864.2 243.8h0M833.2 227.4h0M908.4 208.2h0M918.1 206.1h0M844.8 189.4h0M854.5 172.6h0M934.8 199.1h0M924.6 204.4h0" stroke="#33A02C" stroke-width="2.9" stroke-linecap="round" fill="none"/>
<path d="M864.2 215.8h0M890.6 210.6h0M898.2 209.1h0M875 243.8h0M897.6 223.9h0" stroke="#FDBF6F" stroke-width="2.9" stroke-linecap="round" fill="none"/>
<path d="M897.8 205.6h0M908.2 210.4h0M919.2 209.1h0M919.7 211.5h0" stroke="#FF7F00" stroke-width="2.9" stroke-linecap="round" fill="none"/>
<path d="M914 167.8h0M923.5 202.8h0M932.1 202.6h0M863.1 208.8h0" stroke="#A6CEE3" stroke-width="2.9" stroke-linecap="round" fill="none"/>
<path d="M880.8 138.3h0M890 154.2h0" stroke="#FF7F00" stroke-width="2.9" stroke-linecap="round" fill="none"/>
<path d="M969 64h0M986.5 64h0M970.5 80h0" stroke="#FB9A99" stroke-width="2.5" stroke-linecap="round" fill="none"/>
<path d="M963 102.5h0" stroke="#33A02C" stroke-width="2.5" stroke-linecap="round" fill="none"/>
<path d="M987.5 106.5h0M997 112.5h0" stroke="#CAB2D6" stroke-width="2.5" stroke-linecap="round" fill="none"/>
<text x="893.8" y="141.1" font-size="16" text-anchor="middle">C9</text>
<text x="888.3" y="180.8" font-size="16" text-anchor="middle">C7</text>
<text x="899.5" y="205.3" font-size="16" text-anchor="middle">C8</text>
<text x="845.3" y="223.6" font-size="16" text-anchor="middle">C6</text>
<text x="888.3" y="231.6" font-size="16" text-anchor="middle">C5</text>
<circle cx="1068.5" cy="63.5" r="6.5" fill="#E31A1C"/>
<text x="1082.5" y="67.5" font-size="11">C1</text>
<circle cx="1068.5" cy="89.8" r="6.5" fill="#B2DF8A"/>
<text x="1082.5" y="93.8" font-size="11">C2</text>
<circle cx="1068.8" cy="117.8" r="6.5" fill="#FB9A99"/>
<text x="1082.8" y="121.8" font-size="11">C3</text>
<circle cx="1068.8" cy="144.7" r="6.5" fill="#CAB2D6"/>
<text x="1082.8" y="148.7" font-size="11">C4</text>
<circle cx="1068.8" cy="172.7" r="6.5" fill="#A6CEE3"/>
<text x="1082.8" y="176.7" font-size="11">C5</text>
<circle cx="1068.8" cy="199" r="6.5" fill="#1F78B4"/>
<text x="1082.8" y="203" font-size="11">C6</text>
<circle cx="1069.3" cy="225.6" r="6.5" fill="#33A02C"/>
<text x="1083.3" y="229.6" font-size="11">C7</text>
<circle cx="1069.9" cy="253.6" r="6.5" fill="#FDBF6F"/>
<text x="1083.9" y="257.6" font-size="11">C8</text>
<circle cx="1069.9" cy="281.3" r="6.5" fill="#FF7F00"/>
<text x="1083.9" y="285.3" font-size="11">C9</text>
</g>
<!-- panel_b -->
<g>
<g transform="translate(11.0 0) scale(0.93 1) translate(-11.0 0)"><text x="11" y="367.2" font-size="23.7" font-weight="bold">B</text>
</g>
<rect x="62.92" y="384" width="1.15" height="237" fill="#000"/>
<rect x="62.9" y="619.82" width="953.3" height="1.15" fill="#000"/>
<rect x="59.8" y="399.75" width="3.2" height="1.1" fill="#000"/>
<text x="56.6" y="404.8" font-size="14" text-anchor="end">C1</text>
<rect x="59.8" y="425.35" width="3.2" height="1.1" fill="#000"/>
<text x="56.6" y="430.4" font-size="14" text-anchor="end">C2</text>
<rect x="59.8" y="451.05" width="3.2" height="1.1" fill="#000"/>
<text x="56.6" y="456.1" font-size="14" text-anchor="end">C3</text>
<rect x="59.8" y="476.65" width="3.2" height="1.1" fill="#000"/>
<text x="56.6" y="481.7" font-size="14" text-anchor="end">C4</text>
<rect x="59.8" y="502.35" width="3.2" height="1.1" fill="#000"/>
<text x="56.6" y="507.4" font-size="14" text-anchor="end">C5</text>
<rect x="59.8" y="527.95" width="3.2" height="1.1" fill="#000"/>
<text x="56.6" y="533" font-size="14" text-anchor="end">C6</text>
<rect x="59.8" y="553.65" width="3.2" height="1.1" fill="#000"/>
<text x="56.6" y="558.7" font-size="14" text-anchor="end">C7</text>
<rect x="59.8" y="579.25" width="3.2" height="1.1" fill="#000"/>
<text x="56.6" y="584.3" font-size="14" text-anchor="end">C8</text>
<rect x="59.8" y="604.95" width="3.2" height="1.1" fill="#000"/>
<text x="56.6" y="610" font-size="14" text-anchor="end">C9</text>
<rect x="71.65" y="620.4" width="1.1" height="3.4" fill="#000"/>
<rect x="86.27" y="620.4" width="1.1" height="3.4" fill="#000"/>
<rect x="100.88" y="620.4" width="1.1" height="3.4" fill="#000"/>
<rect x="115.5" y="620.4" width="1.1" height="3.4" fill="#000"/>
<rect x="130.11" y="620.4" width="1.1" height="3.4" fill="#000"/>
<rect x="144.72" y="620.4" width="1.1" height="3.4" fill="#000"/>
<rect x="159.34" y="620.4" width="1.1" height="3.4" fill="#000"/>
<rect x="173.95" y="620.4" width="1.1" height="3.4" fill="#000"/>
<rect x="188.57" y="620.4" width="1.1" height="3.4" fill="#000"/>
<rect x="203.19" y="620.4" width="1.1" height="3.4" fill="#000"/>
<rect x="217.8" y="620.4" width="1.1" height="3.4" fill="#000"/>
<rect x="232.42" y="620.4" width="1.1" height="3.4" fill="#000"/>
<rect x="247.03" y="620.4" width="1.1" height="3.4" fill="#000"/>
<rect x="261.64" y="620.4" width="1.1" height="3.4" fill="#000"/>
<rect x="276.26" y="620.4" width="1.1" height="3.4" fill="#000"/>
<rect x="290.88" y="620.4" width="1.1" height="3.4" fill="#000"/>
<rect x="305.49" y="620.4" width="1.1" height="3.4" fill="#000"/>
<rect x="320.11" y="620.4" width="1.1" height="3.4" fill="#000"/>
<rect x="334.72" y="620.4" width="1.1" height="3.4" fill="#000"/>
<rect x="349.33" y="620.4" width="1.1" height="3.4" fill="#000"/>
<rect x="363.95" y="620.4" width="1.1" height="3.4" fill="#000"/>
<rect x="378.56" y="620.4" width="1.1" height="3.4" fill="#000"/>
<rect x="393.18" y="620.4" width="1.1" height="3.4" fill="#000"/>
<rect x="407.79" y="620.4" width="1.1" height="3.4" fill="#000"/>
<rect x="422.41" y="620.4" width="1.1" height="3.4" fill="#000"/>
<rect x="437.02" y="620.4" width="1.1" height="3.4" fill="#000"/>
<rect x="451.64" y="620.4" width="1.1" height="3.4" fill="#000"/>
<rect x="466.25" y="620.4" width="1.1" height="3.4" fill="#000"/>
<rect x="480.87" y="620.4" width="1.1" height="3.4" fill="#000"/>
<rect x="495.48" y="620.4" width="1.1" height="3.4" fill="#000"/>
<rect x="510.1" y="620.4" width="1.1" height="3.4" fill="#000"/>
<rect x="524.72" y="620.4" width="1.1" height="3.4" fill="#000"/>
<rect x="539.33" y="620.4" width="1.1" height="3.4" fill="#000"/>
<rect x="553.95" y="620.4" width="1.1" height="3.4" fill="#000"/>
<rect x="568.56" y="620.4" width="1.1" height="3.4" fill="#000"/>
<rect x="583.18" y="620.4" width="1.1" height="3.4" fill="#000"/>
<rect x="597.79" y="620.4" width="1.1" height="3.4" fill="#000"/>
<rect x="612.41" y="620.4" width="1.1" height="3.4" fill="#000"/>
<rect x="627.02" y="620.4" width="1.1" height="3.4" fill="#000"/>
<rect x="641.64" y="620.4" width="1.1" height="3.4" fill="#000"/>
<rect x="656.25" y="620.4" width="1.1" height="3.4" fill="#000"/>
<rect x="670.87" y="620.4" width="1.1" height="3.4" fill="#000"/>
<rect x="685.48" y="620.4" width="1.1" height="3.4" fill="#000"/>
<rect x="700.1" y="620.4" width="1.1" height="3.4" fill="#000"/>
<rect x="714.71" y="620.4" width="1.1" height="3.4" fill="#000"/>
<rect x="729.33" y="620.4" width="1.1" height="3.4" fill="#000"/>
<rect x="743.94" y="620.4" width="1.1" height="3.4" fill="#000"/>
<rect x="758.56" y="620.4" width="1.1" height="3.4" fill="#000"/>
<rect x="773.17" y="620.4" width="1.1" height="3.4" fill="#000"/>
<rect x="787.79" y="620.4" width="1.1" height="3.4" fill="#000"/>
<rect x="802.4" y="620.4" width="1.1" height="3.4" fill="#000"/>
<rect x="817.02" y="620.4" width="1.1" height="3.4" fill="#000"/>
<rect x="831.63" y="620.4" width="1.1" height="3.4" fill="#000"/>
<rect x="846.25" y="620.4" width="1.1" height="3.4" fill="#000"/>
<rect x="860.86" y="620.4" width="1.1" height="3.4" fill="#000"/>
<rect x="875.48" y="620.4" width="1.1" height="3.4" fill="#000"/>
<rect x="890.09" y="620.4" width="1.1" height="3.4" fill="#000"/>
<rect x="904.71" y="620.4" width="1.1" height="3.4" fill="#000"/>
<rect x="919.32" y="620.4" width="1.1" height="3.4" fill="#000"/>
<rect x="933.94" y="620.4" width="1.1" height="3.4" fill="#000"/>
<rect x="948.55" y="620.4" width="1.1" height="3.4" fill="#000"/>
<rect x="963.17" y="620.4" width="1.1" height="3.4" fill="#000"/>
<rect x="977.78" y="620.4" width="1.1" height="3.4" fill="#000"/>
<rect x="992.4" y="620.4" width="1.1" height="3.4" fill="#000"/>
<rect x="1007.01" y="620.4" width="1.1" height="3.4" fill="#000"/>
<g class="gl" font-size="12.2" text-anchor="end">
<text transform="translate(72.3 626.8) rotate(-45)" x="0" y="9">Xcl1</text>
<text transform="translate(86.9 626.8) rotate(-45)" x="0" y="9">Ifng</text>
<text transform="translate(101.5 626.8) rotate(-45)" x="0" y="9">Ccl3</text>
<text transform="translate(116.1 626.8) rotate(-45)" x="0" y="9">Ccl4</text>
<text transform="translate(130.8 626.8) rotate(-45)" x="0" y="9">Ccl1</text>
<text transform="translate(145.4 626.8) rotate(-45)" x="0" y="9">Csf2</text>
<text transform="translate(160 626.8) rotate(-45)" x="0" y="9">Serpinb6b</text>
<text transform="translate(174.6 626.8) rotate(-45)" x="0" y="9">Gzmc</text>
<text transform="translate(189.2 626.8) rotate(-45)" x="0" y="9">Crtam</text>
<text transform="translate(203.8 626.8) rotate(-45)" x="0" y="9">Tnfrsf4</text>
<text transform="translate(218.5 626.8) rotate(-45)" x="0" y="9">Gm42418</text>
<text transform="translate(233.1 626.8) rotate(-45)" x="0" y="9">Lars2</text>
<text transform="translate(247.7 626.8) rotate(-45)" x="0" y="9">Il2ra</text>
<text transform="translate(262.3 626.8) rotate(-45)" x="0" y="9">Lcp1</text>
<text transform="translate(276.9 626.8) rotate(-45)" x="0" y="9">Mki67</text>
<text transform="translate(291.5 626.8) rotate(-45)" x="0" y="9">Xist</text>
<text transform="translate(306.1 626.8) rotate(-45)" x="0" y="9">mt-Co3</text>
<text transform="translate(320.8 626.8) rotate(-45)" x="0" y="9">mt-Nd3</text>
<text transform="translate(335.4 626.8) rotate(-45)" x="0" y="9">AY036118</text>
<text transform="translate(350 626.8) rotate(-45)" x="0" y="9">Gm26917</text>
<text transform="translate(364.6 626.8) rotate(-45)" x="0" y="9">S100a6</text>
<text transform="translate(379.2 626.8) rotate(-45)" x="0" y="9">S100a4</text>
<text transform="translate(393.8 626.8) rotate(-45)" x="0" y="9">Cd52</text>
<text transform="translate(408.4 626.8) rotate(-45)" x="0" y="9">Tmsb4x</text>
<text transform="translate(423.1 626.8) rotate(-45)" x="0" y="9">Ctla2a</text>
<text transform="translate(437.7 626.8) rotate(-45)" x="0" y="9">Ifitm1</text>
<text transform="translate(452.3 626.8) rotate(-45)" x="0" y="9">AW112010</text>
<text transform="translate(466.9 626.8) rotate(-45)" x="0" y="9">Plac8</text>
<text transform="translate(481.5 626.8) rotate(-45)" x="0" y="9">Gzma</text>
<text transform="translate(496.1 626.8) rotate(-45)" x="0" y="9">Hist1h2ap</text>
<text transform="translate(510.8 626.8) rotate(-45)" x="0" y="9">Crip1</text>
<text transform="translate(525.4 626.8) rotate(-45)" x="0" y="9">Hist1h1b</text>
<text transform="translate(540 626.8) rotate(-45)" x="0" y="9">Ly6a</text>
<text transform="translate(554.6 626.8) rotate(-45)" x="0" y="9">Hist1h4d</text>
<text transform="translate(569.2 626.8) rotate(-45)" x="0" y="9">Gzmb</text>
<text transform="translate(583.8 626.8) rotate(-45)" x="0" y="9">Ltb</text>
<text transform="translate(598.4 626.8) rotate(-45)" x="0" y="9">Hist1h2ae</text>
<text transform="translate(613.1 626.8) rotate(-45)" x="0" y="9">Coro1a</text>
<text transform="translate(627.7 626.8) rotate(-45)" x="0" y="9">Gbp2</text>
<text transform="translate(642.3 626.8) rotate(-45)" x="0" y="9">Ccl5</text>
<text transform="translate(656.9 626.8) rotate(-45)" x="0" y="9">Fn1</text>
<text transform="translate(671.5 626.8) rotate(-45)" x="0" y="9">Rhox5</text>
<text transform="translate(686.1 626.8) rotate(-45)" x="0" y="9">Iigp1</text>
<text transform="translate(700.7 626.8) rotate(-45)" x="0" y="9">Tubb3</text>
<text transform="translate(715.4 626.8) rotate(-45)" x="0" y="9">Cxcl10</text>
<text transform="translate(730 626.8) rotate(-45)" x="0" y="9">Igtp</text>
<text transform="translate(744.6 626.8) rotate(-45)" x="0" y="9">Isg15</text>
<text transform="translate(759.2 626.8) rotate(-45)" x="0" y="9">Sparc</text>
<text transform="translate(773.8 626.8) rotate(-45)" x="0" y="9">Cxcl9</text>
<text transform="translate(788.4 626.8) rotate(-45)" x="0" y="9">Ccl2</text>
<text transform="translate(803.1 626.8) rotate(-45)" x="0" y="9">Ifit3</text>
<text transform="translate(817.7 626.8) rotate(-45)" x="0" y="9">F830016B08Rik</text>
<text transform="translate(832.3 626.8) rotate(-45)" x="0" y="9">Rsad2</text>
<text transform="translate(846.9 626.8) rotate(-45)" x="0" y="9">Ifi203</text>
<text transform="translate(861.5 626.8) rotate(-45)" x="0" y="9">Dct</text>
<text transform="translate(876.1 626.8) rotate(-45)" x="0" y="9">Pmel</text>
<text transform="translate(890.7 626.8) rotate(-45)" x="0" y="9">Ptgds</text>
<text transform="translate(905.4 626.8) rotate(-45)" x="0" y="9">Gpnmb</text>
<text transform="translate(920 626.8) rotate(-45)" x="0" y="9">Syt4</text>
<text transform="translate(934.6 626.8) rotate(-45)" x="0" y="9">Apoe</text>
<text transform="translate(949.2 626.8) rotate(-45)" x="0" y="9">Tyrp1</text>
<text transform="translate(963.8 626.8) rotate(-45)" x="0" y="9">Mlana</text>
<text transform="translate(978.4 626.8) rotate(-45)" x="0" y="9">Cd63</text>
<text transform="translate(993 626.8) rotate(-45)" x="0" y="9">Slc45a2</text>
<text transform="translate(1007.7 626.8) rotate(-45)" x="0" y="9">Met</text>
</g>
<circle cx="72.2" cy="400.3" r="0.8" fill="#E3DCF3"/>
<circle cx="86.8" cy="400.3" r="1" fill="#E3DCF3"/>
<circle cx="101.4" cy="400.3" r="0.8" fill="#E3DCF3"/>
<circle cx="116" cy="400.3" r="0.8" fill="#E3DCF3"/>
<circle cx="130.7" cy="400.3" r="0.8" fill="#E3DCF3"/>
<circle cx="145.3" cy="400.3" r="0.8" fill="#D9D0EF"/>
<circle cx="159.9" cy="400.3" r="1" fill="#D0C5EA"/>
<circle cx="174.5" cy="400.3" r="1.1" fill="#A998DA"/>
<circle cx="189.1" cy="400.3" r="0.8" fill="#D9D0EF"/>
<circle cx="203.7" cy="400.3" r="1.1" fill="#A998DA"/>
<circle cx="218.4" cy="400.3" r="7.4" fill="#C6B9E6"/>
<circle cx="233" cy="400.3" r="4.4" fill="#C6B9E6"/>
<circle cx="247.6" cy="400.3" r="1.1" fill="#8B78CD"/>
<circle cx="262.2" cy="400.3" r="1.5" fill="#9582D1"/>
<circle cx="276.8" cy="400.3" r="5.2" fill="#9F8DD5"/>
<circle cx="291.4" cy="400.3" r="1.1" fill="#9582D1"/>
<circle cx="306" cy="400.3" r="7.3" fill="#C6B9E6"/>
<circle cx="320.7" cy="400.3" r="7.3" fill="#B3A3DE"/>
<circle cx="335.3" cy="400.3" r="7.3" fill="#B3A3DE"/>
<circle cx="349.9" cy="400.3" r="4.8" fill="#B8A9E0"/>
<circle cx="364.5" cy="400.3" r="2.1" fill="#A998DA"/>
<circle cx="379.1" cy="400.3" r="1.3" fill="#9F8DD5"/>
<circle cx="393.7" cy="400.3" r="1.3" fill="#9F8DD5"/>
<circle cx="408.3" cy="400.3" r="5.3" fill="#A493D7"/>
<circle cx="423" cy="400.3" r="1.1" fill="#9F8DD5"/>
<circle cx="437.6" cy="400.3" r="1.5" fill="#A998DA"/>
<circle cx="452.2" cy="400.3" r="1.1" fill="#A998DA"/>
<circle cx="466.8" cy="400.3" r="1.1" fill="#B3A3DE"/>
<circle cx="481.4" cy="400.3" r="1.3" fill="#A998DA"/>
<circle cx="496" cy="400.3" r="1.3" fill="#A998DA"/>
<circle cx="510.6" cy="400.3" r="4.3" fill="#A493D7"/>
<circle cx="525.3" cy="400.3" r="1.1" fill="#A998DA"/>
<circle cx="539.9" cy="400.3" r="1.1" fill="#8B78CD"/>
<circle cx="554.5" cy="400.3" r="3" fill="#9F8DD5"/>
<circle cx="569.1" cy="400.3" r="2.2" fill="#9A88D3"/>
<circle cx="583.7" cy="400.3" r="1.1" fill="#9F8DD5"/>
<circle cx="598.3" cy="400.3" r="5.5" fill="#B3A3DE"/>
<circle cx="613" cy="400.3" r="1.4" fill="#9F8DD5"/>
<circle cx="627.6" cy="400.3" r="3.3" fill="#C6B9E6"/>
<circle cx="642.2" cy="400.3" r="1.1" fill="#BDAEE2"/>
<circle cx="656.8" cy="400.3" r="2.6" fill="#D0C5EA"/>
<circle cx="671.4" cy="400.3" r="0.8" fill="#D9D0EF"/>
<circle cx="686" cy="400.3" r="2" fill="#CBBFE8"/>
<circle cx="700.6" cy="400.3" r="5.5" fill="#E3DCF3"/>
<circle cx="715.3" cy="400.3" r="5.8" fill="#D4CAED"/>
<circle cx="729.9" cy="400.3" r="4.2" fill="#CBBFE8"/>
<circle cx="744.5" cy="400.3" r="2" fill="#C6B9E6"/>
<circle cx="759.1" cy="400.3" r="7.6" fill="#F3D8D2"/>
<circle cx="773.7" cy="400.3" r="1.1" fill="#D0C5EA"/>
<circle cx="788.3" cy="400.3" r="1" fill="#D9D0EF"/>
<circle cx="803" cy="400.3" r="1.6" fill="#D0C5EA"/>
<circle cx="817.6" cy="400.3" r="1" fill="#D9D0EF"/>
<circle cx="832.2" cy="400.3" r="3" fill="#D4CAED"/>
<circle cx="846.8" cy="400.3" r="1.1" fill="#C6B9E6"/>
<circle cx="861.4" cy="400.3" r="7.3" fill="#C06955"/>
<circle cx="876" cy="400.3" r="7.3" fill="#C26E5A"/>
<circle cx="890.6" cy="400.3" r="7.3" fill="#BB604C"/>
<circle cx="905.3" cy="400.3" r="7.3" fill="#CA7B69"/>
<circle cx="919.9" cy="400.3" r="7.3" fill="#C06955"/>
<circle cx="934.5" cy="400.3" r="7.3" fill="#C06955"/>
<circle cx="949.1" cy="400.3" r="7.3" fill="#D69282"/>
<circle cx="963.7" cy="400.3" r="7.3" fill="#CA7B69"/>
<circle cx="978.3" cy="400.3" r="7.3" fill="#D69282"/>
<circle cx="992.9" cy="400.3" r="7.3" fill="#BD6450"/>
<circle cx="1007.6" cy="400.3" r="7.3" fill="#AD4834"/>
<circle cx="72.2" cy="425.9" r="0.8" fill="#E3DCF3"/>
<circle cx="86.8" cy="425.9" r="1" fill="#E3DCF3"/>
<circle cx="101.4" cy="425.9" r="0.8" fill="#E3DCF3"/>
<circle cx="116" cy="425.9" r="0.8" fill="#E3DCF3"/>
<circle cx="130.7" cy="425.9" r="0.8" fill="#E3DCF3"/>
<circle cx="145.3" cy="425.9" r="0.8" fill="#D9D0EF"/>
<circle cx="159.9" cy="425.9" r="1" fill="#D0C5EA"/>
<circle cx="174.5" cy="425.9" r="1.1" fill="#A998DA"/>
<circle cx="189.1" cy="425.9" r="0.8" fill="#D9D0EF"/>
<circle cx="203.7" cy="425.9" r="1.1" fill="#A998DA"/>
<circle cx="218.4" cy="425.9" r="7.4" fill="#C1B4E4"/>
<circle cx="233" cy="425.9" r="4.8" fill="#C6B9E6"/>
<circle cx="247.6" cy="425.9" r="1.1" fill="#8B78CD"/>
<circle cx="262.2" cy="425.9" r="1.6" fill="#9582D1"/>
<circle cx="276.8" cy="425.9" r="7.1" fill="#F1EDF9"/>
<circle cx="291.4" cy="425.9" r="1.1" fill="#9582D1"/>
<circle cx="306" cy="425.9" r="7.3" fill="#CBBFE8"/>
<circle cx="320.7" cy="425.9" r="7.3" fill="#B8A9E0"/>
<circle cx="335.3" cy="425.9" r="7.3" fill="#9F8DD5"/>
<circle cx="349.9" cy="425.9" r="5" fill="#B8A9E0"/>
<circle cx="364.5" cy="425.9" r="2.2" fill="#A998DA"/>
<circle cx="379.1" cy="425.9" r="1.3" fill="#9F8DD5"/>
<circle cx="393.7" cy="425.9" r="1.3" fill="#9F8DD5"/>
<circle cx="408.3" cy="425.9" r="6.2" fill="#A493D7"/>
<circle cx="423" cy="425.9" r="1.1" fill="#9F8DD5"/>
<circle cx="437.6" cy="425.9" r="1.5" fill="#A998DA"/>
<circle cx="452.2" cy="425.9" r="1.1" fill="#A998DA"/>
<circle cx="466.8" cy="425.9" r="1.1" fill="#B3A3DE"/>
<circle cx="481.4" cy="425.9" r="1.3" fill="#A998DA"/>
<circle cx="496" cy="425.9" r="1.3" fill="#A998DA"/>
<circle cx="510.6" cy="425.9" r="4.7" fill="#A998DA"/>
<circle cx="525.3" cy="425.9" r="1.1" fill="#A998DA"/>
<circle cx="539.9" cy="425.9" r="1.1" fill="#8B78CD"/>
<circle cx="554.5" cy="425.9" r="6.4" fill="#DED6F1"/>
<circle cx="569.1" cy="425.9" r="2.2" fill="#9A88D3"/>
<circle cx="583.7" cy="425.9" r="1.1" fill="#9F8DD5"/>
<circle cx="598.3" cy="425.9" r="7.3" fill="#DEA597"/>
<circle cx="613" cy="425.9" r="1.5" fill="#9F8DD5"/>
<circle cx="627.6" cy="425.9" r="3.6" fill="#CBBFE8"/>
<circle cx="642.2" cy="425.9" r="1.1" fill="#BDAEE2"/>
<circle cx="656.8" cy="425.9" r="3.5" fill="#D4CAED"/>
<circle cx="671.4" cy="425.9" r="0.8" fill="#D9D0EF"/>
<circle cx="686" cy="425.9" r="2" fill="#CBBFE8"/>
<circle cx="700.6" cy="425.9" r="6.5" fill="#ECE7F7"/>
<circle cx="715.3" cy="425.9" r="6.4" fill="#D9D0EF"/>
<circle cx="729.9" cy="425.9" r="4.8" fill="#D0C5EA"/>
<circle cx="744.5" cy="425.9" r="2.1" fill="#CBBFE8"/>
<circle cx="759.1" cy="425.9" r="7.6" fill="#F1D4CC"/>
<circle cx="773.7" cy="425.9" r="1.1" fill="#D0C5EA"/>
<circle cx="788.3" cy="425.9" r="1" fill="#D9D0EF"/>
<circle cx="803" cy="425.9" r="1.6" fill="#D0C5EA"/>
<circle cx="817.6" cy="425.9" r="1" fill="#D9D0EF"/>
<circle cx="832.2" cy="425.9" r="3" fill="#D4CAED"/>
<circle cx="846.8" cy="425.9" r="1.1" fill="#C6B9E6"/>
<circle cx="861.4" cy="425.9" r="7.3" fill="#C77764"/>
<circle cx="876" cy="425.9" r="7.3" fill="#C77764"/>
<circle cx="890.6" cy="425.9" r="7.3" fill="#C5725F"/>
<circle cx="905.3" cy="425.9" r="7.3" fill="#CA7B69"/>
<circle cx="919.9" cy="425.9" r="7.3" fill="#C06955"/>
<circle cx="934.5" cy="425.9" r="7.3" fill="#C77764"/>
<circle cx="949.1" cy="425.9" r="7.3" fill="#D69282"/>
<circle cx="963.7" cy="425.9" r="7.3" fill="#D69282"/>
<circle cx="978.3" cy="425.9" r="7.3" fill="#DCA091"/>
<circle cx="992.9" cy="425.9" r="7.3" fill="#C06955"/>
<circle cx="1007.6" cy="425.9" r="7.3" fill="#C77764"/>
<circle cx="72.2" cy="451.6" r="3.5" fill="#D9D0EF"/>
<circle cx="86.8" cy="451.6" r="5" fill="#D9D0EF"/>
<circle cx="101.4" cy="451.6" r="2.8" fill="#D9D0EF"/>
<circle cx="116" cy="451.6" r="2.3" fill="#D9D0EF"/>
<circle cx="130.7" cy="451.6" r="1.6" fill="#D9D0EF"/>
<circle cx="145.3" cy="451.6" r="1.1" fill="#D9D0EF"/>
<circle cx="159.9" cy="451.6" r="1" fill="#D0C5EA"/>
<circle cx="174.5" cy="451.6" r="1" fill="#A998DA"/>
<circle cx="189.1" cy="451.6" r="0.8" fill="#D9D0EF"/>
<circle cx="203.7" cy="451.6" r="1.1" fill="#A998DA"/>
<circle cx="218.4" cy="451.6" r="7.4" fill="#C1B4E4"/>
<circle cx="233" cy="451.6" r="3.9" fill="#C1B4E4"/>
<circle cx="247.6" cy="451.6" r="1.1" fill="#8B78CD"/>
<circle cx="262.2" cy="451.6" r="1.3" fill="#9582D1"/>
<circle cx="276.8" cy="451.6" r="3" fill="#9A88D3"/>
<circle cx="291.4" cy="451.6" r="1.1" fill="#9582D1"/>
<circle cx="306" cy="451.6" r="7.3" fill="#A493D7"/>
<circle cx="320.7" cy="451.6" r="7.1" fill="#9A88D3"/>
<circle cx="335.3" cy="451.6" r="7.3" fill="#B3A3DE"/>
<circle cx="349.9" cy="451.6" r="4.4" fill="#B3A3DE"/>
<circle cx="364.5" cy="451.6" r="3.6" fill="#AE9EDC"/>
<circle cx="379.1" cy="451.6" r="1.3" fill="#9F8DD5"/>
<circle cx="393.7" cy="451.6" r="1.3" fill="#9F8DD5"/>
<circle cx="408.3" cy="451.6" r="4.2" fill="#A493D7"/>
<circle cx="423" cy="451.6" r="1.1" fill="#9F8DD5"/>
<circle cx="437.6" cy="451.6" r="1.6" fill="#A998DA"/>
<circle cx="452.2" cy="451.6" r="2.3" fill="#A998DA"/>
<circle cx="466.8" cy="451.6" r="1.3" fill="#A998DA"/>
<circle cx="481.4" cy="451.6" r="1.5" fill="#A998DA"/>
<circle cx="496" cy="451.6" r="1.1" fill="#A998DA"/>
<circle cx="510.6" cy="451.6" r="1.4" fill="#A998DA"/>
<circle cx="525.3" cy="451.6" r="1.1" fill="#A998DA"/>
<circle cx="539.9" cy="451.6" r="5.8" fill="#F3D8D2"/>
<circle cx="554.5" cy="451.6" r="2.5" fill="#A493D7"/>
<circle cx="569.1" cy="451.6" r="3.6" fill="#A493D7"/>
<circle cx="583.7" cy="451.6" r="1.1" fill="#9F8DD5"/>
<circle cx="598.3" cy="451.6" r="2.9" fill="#9F8DD5"/>
<circle cx="613" cy="451.6" r="1.4" fill="#9F8DD5"/>
<circle cx="627.6" cy="451.6" r="7.3" fill="#C77764"/>
<circle cx="642.2" cy="451.6" r="6.8" fill="#DA9C8C"/>
<circle cx="656.8" cy="451.6" r="6" fill="#F3D8D2"/>
<circle cx="671.4" cy="451.6" r="4" fill="#FCFBFE"/>
<circle cx="686" cy="451.6" r="7.3" fill="#B55742"/>
<circle cx="700.6" cy="451.6" r="7" fill="#E5B3A6"/>
<circle cx="715.3" cy="451.6" r="7.3" fill="#A43A27"/>
<circle cx="729.9" cy="451.6" r="7.3" fill="#C77764"/>
<circle cx="744.5" cy="451.6" r="7.3" fill="#B2523E"/>
<circle cx="759.1" cy="451.6" r="7.3" fill="#DA9C8C"/>
<circle cx="773.7" cy="451.6" r="7.3" fill="#8E0C06"/>
<circle cx="788.3" cy="451.6" r="7.3" fill="#9B2919"/>
<circle cx="803" cy="451.6" r="7.3" fill="#AA4330"/>
<circle cx="817.6" cy="451.6" r="7.3" fill="#A13422"/>
<circle cx="832.2" cy="451.6" r="7.3" fill="#A43A27"/>
<circle cx="846.8" cy="451.6" r="7.3" fill="#A73F2B"/>
<circle cx="861.4" cy="451.6" r="6.8" fill="#FCF5F4"/>
<circle cx="876" cy="451.6" r="7.3" fill="#FBF0EE"/>
<circle cx="890.6" cy="451.6" r="5.3" fill="#E3DCF3"/>
<circle cx="905.3" cy="451.6" r="7.3" fill="#F5DDD7"/>
<circle cx="919.9" cy="451.6" r="6.5" fill="#F6E2DD"/>
<circle cx="934.5" cy="451.6" r="7.3" fill="#F3D8D2"/>
<circle cx="949.1" cy="451.6" r="7.3" fill="#E3AEA1"/>
<circle cx="963.7" cy="451.6" r="7.3" fill="#DEA597"/>
<circle cx="978.3" cy="451.6" r="7.3" fill="#DCA091"/>
<circle cx="992.9" cy="451.6" r="6" fill="#FCFBFE"/>
<circle cx="1007.6" cy="451.6" r="2.4" fill="#D4CAED"/>
<circle cx="72.2" cy="477.2" r="3.5" fill="#D9D0EF"/>
<circle cx="86.8" cy="477.2" r="5" fill="#D9D0EF"/>
<circle cx="101.4" cy="477.2" r="2.8" fill="#D9D0EF"/>
<circle cx="116" cy="477.2" r="2.3" fill="#D9D0EF"/>
<circle cx="130.7" cy="477.2" r="1.6" fill="#D9D0EF"/>
<circle cx="145.3" cy="477.2" r="1.1" fill="#D9D0EF"/>
<circle cx="159.9" cy="477.2" r="1" fill="#D0C5EA"/>
<circle cx="174.5" cy="477.2" r="1" fill="#A998DA"/>
<circle cx="189.1" cy="477.2" r="0.8" fill="#D9D0EF"/>
<circle cx="203.7" cy="477.2" r="1.1" fill="#A998DA"/>
<circle cx="218.4" cy="477.2" r="7.4" fill="#C1B4E4"/>
<circle cx="233" cy="477.2" r="4" fill="#C1B4E4"/>
<circle cx="247.6" cy="477.2" r="1.1" fill="#8B78CD"/>
<circle cx="262.2" cy="477.2" r="1.3" fill="#9582D1"/>
<circle cx="276.8" cy="477.2" r="3.7" fill="#A493D7"/>
<circle cx="291.4" cy="477.2" r="1.1" fill="#9582D1"/>
<circle cx="306" cy="477.2" r="7.3" fill="#A998DA"/>
<circle cx="320.7" cy="477.2" r="7.1" fill="#A493D7"/>
<circle cx="335.3" cy="477.2" r="7.1" fill="#E3DCF3"/>
<circle cx="349.9" cy="477.2" r="4.8" fill="#B8A9E0"/>
<circle cx="364.5" cy="477.2" r="5.2" fill="#B8A9E0"/>
<circle cx="379.1" cy="477.2" r="2.3" fill="#B3A3DE"/>
<circle cx="393.7" cy="477.2" r="1.3" fill="#9F8DD5"/>
<circle cx="408.3" cy="477.2" r="4.3" fill="#A493D7"/>
<circle cx="423" cy="477.2" r="1.1" fill="#9F8DD5"/>
<circle cx="437.6" cy="477.2" r="1.3" fill="#A998DA"/>
<circle cx="452.2" cy="477.2" r="1.8" fill="#A998DA"/>
<circle cx="466.8" cy="477.2" r="1.3" fill="#A998DA"/>
<circle cx="481.4" cy="477.2" r="1.5" fill="#A998DA"/>
<circle cx="496" cy="477.2" r="1.1" fill="#A998DA"/>
<circle cx="510.6" cy="477.2" r="1.4" fill="#A998DA"/>
<circle cx="525.3" cy="477.2" r="1.1" fill="#A998DA"/>
<circle cx="539.9" cy="477.2" r="5.6" fill="#F3D8D2"/>
<circle cx="554.5" cy="477.2" r="2.8" fill="#A493D7"/>
<circle cx="569.1" cy="477.2" r="3.4" fill="#A493D7"/>
<circle cx="583.7" cy="477.2" r="1.1" fill="#9F8DD5"/>
<circle cx="598.3" cy="477.2" r="2.9" fill="#9F8DD5"/>
<circle cx="613" cy="477.2" r="1.4" fill="#9F8DD5"/>
<circle cx="627.6" cy="477.2" r="7.3" fill="#AA4330"/>
<circle cx="642.2" cy="477.2" r="7.3" fill="#9E2F1E"/>
<circle cx="656.8" cy="477.2" r="7.3" fill="#8B0000"/>
<circle cx="671.4" cy="477.2" r="6" fill="#8B0000"/>
<circle cx="686" cy="477.2" r="7.3" fill="#C26E5A"/>
<circle cx="700.6" cy="477.2" r="7.3" fill="#982415"/>
<circle cx="715.3" cy="477.2" r="7.3" fill="#D18978"/>
<circle cx="729.9" cy="477.2" r="7.3" fill="#B04D39"/>
<circle cx="744.5" cy="477.2" r="7.3" fill="#C77764"/>
<circle cx="759.1" cy="477.2" r="7.3" fill="#B85B47"/>
<circle cx="773.7" cy="477.2" r="7.3" fill="#E7B7AC"/>
<circle cx="788.3" cy="477.2" r="7.3" fill="#DA9C8C"/>
<circle cx="803" cy="477.2" r="7.3" fill="#CC806E"/>
<circle cx="817.6" cy="477.2" r="7.3" fill="#D69282"/>
<circle cx="832.2" cy="477.2" r="7.3" fill="#D38E7D"/>
<circle cx="846.8" cy="477.2" r="7.3" fill="#D18978"/>
<circle cx="861.4" cy="477.2" r="7" fill="#F8E7E3"/>
<circle cx="876" cy="477.2" r="7.3" fill="#F8E7E3"/>
<circle cx="890.6" cy="477.2" r="3.7" fill="#D0C5EA"/>
<circle cx="905.3" cy="477.2" r="7.6" fill="#E8BCB1"/>
<circle cx="919.9" cy="477.2" r="5.8" fill="#ECE7F7"/>
<circle cx="934.5" cy="477.2" r="7.3" fill="#F3D8D2"/>
<circle cx="949.1" cy="477.2" r="7.5" fill="#DA9C8C"/>
<circle cx="963.7" cy="477.2" r="7.3" fill="#E7B7AC"/>
<circle cx="978.3" cy="477.2" r="7.5" fill="#DA9C8C"/>
<circle cx="992.9" cy="477.2" r="6" fill="#FEFDFD"/>
<circle cx="1007.6" cy="477.2" r="3.4" fill="#DED6F1"/>
<circle cx="72.2" cy="502.9" r="2.3" fill="#D9D0EF"/>
<circle cx="86.8" cy="502.9" r="5" fill="#D9D0EF"/>
<circle cx="101.4" cy="502.9" r="2" fill="#D9D0EF"/>
<circle cx="116" cy="502.9" r="2" fill="#D9D0EF"/>
<circle cx="130.7" cy="502.9" r="1.3" fill="#D9D0EF"/>
<circle cx="145.3" cy="502.9" r="1" fill="#D9D0EF"/>
<circle cx="159.9" cy="502.9" r="1.4" fill="#D9D0EF"/>
<circle cx="174.5" cy="502.9" r="2.5" fill="#FDFDFE"/>
<circle cx="189.1" cy="502.9" r="1.1" fill="#D9D0EF"/>
<circle cx="203.7" cy="502.9" r="4.3" fill="#F8E7E3"/>
<circle cx="218.4" cy="502.9" r="7.4" fill="#E7E2F5"/>
<circle cx="233" cy="502.9" r="4.2" fill="#DED6F1"/>
<circle cx="247.6" cy="502.9" r="7" fill="#EECAC1"/>
<circle cx="262.2" cy="502.9" r="7.3" fill="#EECAC1"/>
<circle cx="276.8" cy="502.9" r="7" fill="#F5DDD7"/>
<circle cx="291.4" cy="502.9" r="6.6" fill="#F3D8D2"/>
<circle cx="306" cy="502.9" r="7" fill="#FDFDFE"/>
<circle cx="320.7" cy="502.9" r="7.3" fill="#F5DDD7"/>
<circle cx="349.9" cy="502.9" r="5.5" fill="#F1EDF9"/>
<circle cx="364.5" cy="502.9" r="7" fill="#F0CFC7"/>
<circle cx="379.1" cy="502.9" r="5.5" fill="#F3D8D2"/>
<circle cx="393.7" cy="502.9" r="7.3" fill="#E3AEA1"/>
<circle cx="408.3" cy="502.9" r="7.3" fill="#DA9C8C"/>
<circle cx="423" cy="502.9" r="7.3" fill="#DA9C8C"/>
<circle cx="437.6" cy="502.9" r="6.6" fill="#F0CFC7"/>
<circle cx="452.2" cy="502.9" r="7.3" fill="#DA9C8C"/>
<circle cx="466.8" cy="502.9" r="6.8" fill="#DA9C8C"/>
<circle cx="481.4" cy="502.9" r="6.2" fill="#ECC6BC"/>
<circle cx="496" cy="502.9" r="7.3" fill="#CF8573"/>
<circle cx="510.6" cy="502.9" r="7.3" fill="#E1A99C"/>
<circle cx="525.3" cy="502.9" r="7.3" fill="#D18978"/>
<circle cx="539.9" cy="502.9" r="5.2" fill="#FBF0EE"/>
<circle cx="554.5" cy="502.9" r="7" fill="#C5725F"/>
<circle cx="569.1" cy="502.9" r="7.3" fill="#E3AEA1"/>
<circle cx="583.7" cy="502.9" r="7.3" fill="#DA9C8C"/>
<circle cx="598.3" cy="502.9" r="7.3" fill="#D18978"/>
<circle cx="613" cy="502.9" r="7.3" fill="#DA9C8C"/>
<circle cx="627.6" cy="502.9" r="1.3" fill="#D0C5EA"/>
<circle cx="642.2" cy="502.9" r="2.1" fill="#D0C5EA"/>
<circle cx="656.8" cy="502.9" r="1" fill="#D9D0EF"/>
<circle cx="671.4" cy="502.9" r="0.8" fill="#D9D0EF"/>
<circle cx="686" cy="502.9" r="1.3" fill="#D0C5EA"/>
<circle cx="700.6" cy="502.9" r="1" fill="#D9D0EF"/>
<circle cx="715.3" cy="502.9" r="1.4" fill="#D0C5EA"/>
<circle cx="729.9" cy="502.9" r="4.4" fill="#D4CAED"/>
<circle cx="744.5" cy="502.9" r="1.1" fill="#D0C5EA"/>
<circle cx="759.1" cy="502.9" r="1.1" fill="#C6B9E6"/>
<circle cx="773.7" cy="502.9" r="1" fill="#D9D0EF"/>
<circle cx="788.3" cy="502.9" r="1" fill="#D9D0EF"/>
<circle cx="803" cy="502.9" r="1" fill="#D9D0EF"/>
<circle cx="817.6" cy="502.9" r="0.8" fill="#D9D0EF"/>
<circle cx="832.2" cy="502.9" r="1" fill="#D9D0EF"/>
<circle cx="846.8" cy="502.9" r="2.2" fill="#D0C5EA"/>
<circle cx="861.4" cy="502.9" r="1.3" fill="#BDAEE2"/>
<circle cx="876" cy="502.9" r="1.3" fill="#BDAEE2"/>
<circle cx="890.6" cy="502.9" r="1" fill="#D0C5EA"/>
<circle cx="905.3" cy="502.9" r="1.3" fill="#BDAEE2"/>
<circle cx="919.9" cy="502.9" r="1.1" fill="#C6B9E6"/>
<circle cx="934.5" cy="502.9" r="1.3" fill="#BDAEE2"/>
<circle cx="949.1" cy="502.9" r="1.3" fill="#BDAEE2"/>
<circle cx="963.7" cy="502.9" r="1.3" fill="#BDAEE2"/>
<circle cx="978.3" cy="502.9" r="1.4" fill="#B3A3DE"/>
<circle cx="992.9" cy="502.9" r="1.1" fill="#D0C5EA"/>
<circle cx="1007.6" cy="502.9" r="0.8" fill="#D9D0EF"/>
<circle cx="72.2" cy="528.5" r="2" fill="#D9D0EF"/>
<circle cx="86.8" cy="528.5" r="5" fill="#D9D0EF"/>
<circle cx="101.4" cy="528.5" r="1.6" fill="#D9D0EF"/>
<circle cx="116" cy="528.5" r="2" fill="#D9D0EF"/>
<circle cx="130.7" cy="528.5" r="1.1" fill="#D9D0EF"/>
<circle cx="145.3" cy="528.5" r="0.8" fill="#D9D0EF"/>
<circle cx="159.9" cy="528.5" r="2.5" fill="#ECE7F7"/>
<circle cx="174.5" cy="528.5" r="3.4" fill="#F3D8D2"/>
<circle cx="189.1" cy="528.5" r="1.1" fill="#D9D0EF"/>
<circle cx="203.7" cy="528.5" r="3.7" fill="#E3DCF3"/>
<circle cx="218.4" cy="528.5" r="7" fill="#FAF9FD"/>
<circle cx="233" cy="528.5" r="4.5" fill="#FCFBFE"/>
<circle cx="247.6" cy="528.5" r="7" fill="#F1D4CC"/>
<circle cx="262.2" cy="528.5" r="7.3" fill="#E3AEA1"/>
<circle cx="276.8" cy="528.5" r="7.3" fill="#D38E7D"/>
<circle cx="291.4" cy="528.5" r="6.8" fill="#DA9C8C"/>
<circle cx="306" cy="528.5" r="7.3" fill="#ECC6BC"/>
<circle cx="320.7" cy="528.5" r="7.3" fill="#E5B3A6"/>
<circle cx="349.9" cy="528.5" r="6" fill="#FEFAF9"/>
<circle cx="364.5" cy="528.5" r="7.3" fill="#C5725F"/>
<circle cx="379.1" cy="528.5" r="6.8" fill="#BB604C"/>
<circle cx="393.7" cy="528.5" r="7.3" fill="#CF8573"/>
<circle cx="408.3" cy="528.5" r="7.3" fill="#D18978"/>
<circle cx="423" cy="528.5" r="7.3" fill="#DEA597"/>
<circle cx="437.6" cy="528.5" r="7" fill="#B55742"/>
<circle cx="452.2" cy="528.5" r="7.3" fill="#D89787"/>
<circle cx="466.8" cy="528.5" r="6.8" fill="#D38E7D"/>
<circle cx="481.4" cy="528.5" r="6.8" fill="#BD6450"/>
<circle cx="496" cy="528.5" r="7.3" fill="#BD6450"/>
<circle cx="510.6" cy="528.5" r="7.3" fill="#BD6450"/>
<circle cx="525.3" cy="528.5" r="7.3" fill="#CC806E"/>
<circle cx="539.9" cy="528.5" r="6.6" fill="#BB604C"/>
<circle cx="554.5" cy="528.5" r="7" fill="#C5725F"/>
<circle cx="569.1" cy="528.5" r="7.3" fill="#E1A99C"/>
<circle cx="583.7" cy="528.5" r="7.3" fill="#DEA597"/>
<circle cx="598.3" cy="528.5" r="7.3" fill="#CC806E"/>
<circle cx="613" cy="528.5" r="7.3" fill="#DA9C8C"/>
<circle cx="627.6" cy="528.5" r="2.2" fill="#D0C5EA"/>
<circle cx="642.2" cy="528.5" r="2.6" fill="#D0C5EA"/>
<circle cx="656.8" cy="528.5" r="0.8" fill="#D9D0EF"/>
<circle cx="671.4" cy="528.5" r="0.8" fill="#D9D0EF"/>
<circle cx="686" cy="528.5" r="1.6" fill="#D0C5EA"/>
<circle cx="700.6" cy="528.5" r="1" fill="#D9D0EF"/>
<circle cx="715.3" cy="528.5" r="1.6" fill="#D0C5EA"/>
<circle cx="729.9" cy="528.5" r="5.3" fill="#D9D0EF"/>
<circle cx="744.5" cy="528.5" r="1.2" fill="#D0C5EA"/>
<circle cx="759.1" cy="528.5" r="1.1" fill="#C6B9E6"/>
<circle cx="773.7" cy="528.5" r="1" fill="#D9D0EF"/>
<circle cx="788.3" cy="528.5" r="1" fill="#D9D0EF"/>
<circle cx="803" cy="528.5" r="1" fill="#D9D0EF"/>
<circle cx="817.6" cy="528.5" r="0.8" fill="#D9D0EF"/>
<circle cx="832.2" cy="528.5" r="1" fill="#D9D0EF"/>
<circle cx="846.8" cy="528.5" r="3.5" fill="#D4CAED"/>
<circle cx="861.4" cy="528.5" r="1.3" fill="#BDAEE2"/>
<circle cx="876" cy="528.5" r="1.3" fill="#BDAEE2"/>
<circle cx="890.6" cy="528.5" r="1" fill="#D0C5EA"/>
<circle cx="905.3" cy="528.5" r="1.3" fill="#BDAEE2"/>
<circle cx="919.9" cy="528.5" r="1.1" fill="#C6B9E6"/>
<circle cx="934.5" cy="528.5" r="1.3" fill="#BDAEE2"/>
<circle cx="949.1" cy="528.5" r="1.3" fill="#BDAEE2"/>
<circle cx="963.7" cy="528.5" r="1.3" fill="#BDAEE2"/>
<circle cx="978.3" cy="528.5" r="1.4" fill="#B3A3DE"/>
<circle cx="992.9" cy="528.5" r="1.1" fill="#D0C5EA"/>
<circle cx="1007.6" cy="528.5" r="0.8" fill="#D9D0EF"/>
<circle cx="72.2" cy="554.2" r="2" fill="#D9D0EF"/>
<circle cx="86.8" cy="554.2" r="5" fill="#D9D0EF"/>
<circle cx="101.4" cy="554.2" r="2" fill="#D9D0EF"/>
<circle cx="116" cy="554.2" r="2" fill="#D9D0EF"/>
<circle cx="130.7" cy="554.2" r="1.1" fill="#D9D0EF"/>
<circle cx="145.3" cy="554.2" r="0.8" fill="#D9D0EF"/>
<circle cx="159.9" cy="554.2" r="1.8" fill="#E3DCF3"/>
<circle cx="174.5" cy="554.2" r="2.8" fill="#F6E2DD"/>
<circle cx="189.1" cy="554.2" r="1.1" fill="#D9D0EF"/>
<circle cx="203.7" cy="554.2" r="4.3" fill="#F6E2DD"/>
<circle cx="218.4" cy="554.2" r="7.4" fill="#F6E2DD"/>
<circle cx="233" cy="554.2" r="4.6" fill="#F9ECE8"/>
<circle cx="247.6" cy="554.2" r="7" fill="#E3AEA1"/>
<circle cx="262.2" cy="554.2" r="7.3" fill="#E3AEA1"/>
<circle cx="291.4" cy="554.2" r="6.6" fill="#E8BCB1"/>
<circle cx="306" cy="554.2" r="7.3" fill="#F5DDD7"/>
<circle cx="320.7" cy="554.2" r="7.3" fill="#EAC1B7"/>
<circle cx="335.3" cy="554.2" r="7.3" fill="#F0CFC7"/>
<circle cx="349.9" cy="554.2" r="5.8" fill="#F3D8D2"/>
<circle cx="364.5" cy="554.2" r="7.3" fill="#CA7B69"/>
<circle cx="379.1" cy="554.2" r="6" fill="#CF8573"/>
<circle cx="393.7" cy="554.2" r="7.3" fill="#D69282"/>
<circle cx="408.3" cy="554.2" r="7.3" fill="#D69282"/>
<circle cx="423" cy="554.2" r="7.3" fill="#D69282"/>
<circle cx="437.6" cy="554.2" r="6.6" fill="#DA9C8C"/>
<circle cx="452.2" cy="554.2" r="7.3" fill="#D69282"/>
<circle cx="466.8" cy="554.2" r="6.5" fill="#CC806E"/>
<circle cx="481.4" cy="554.2" r="6.2" fill="#E3AEA1"/>
<circle cx="496" cy="554.2" r="6.2" fill="#D4CAED"/>
<circle cx="510.6" cy="554.2" r="7.3" fill="#DCA091"/>
<circle cx="525.3" cy="554.2" r="6.2" fill="#D9D0EF"/>
<circle cx="539.9" cy="554.2" r="5.5" fill="#E8BCB1"/>
<circle cx="554.5" cy="554.2" r="4.4" fill="#D0C5EA"/>
<circle cx="569.1" cy="554.2" r="7.3" fill="#E3AEA1"/>
<circle cx="583.7" cy="554.2" r="7.3" fill="#D89787"/>
<circle cx="598.3" cy="554.2" r="4.5" fill="#B3A3DE"/>
<circle cx="613" cy="554.2" r="7.3" fill="#DCA091"/>
<circle cx="627.6" cy="554.2" r="1.6" fill="#D0C5EA"/>
<circle cx="642.2" cy="554.2" r="2.4" fill="#D0C5EA"/>
<circle cx="656.8" cy="554.2" r="0.8" fill="#D9D0EF"/>
<circle cx="671.4" cy="554.2" r="0.8" fill="#D9D0EF"/>
<circle cx="686" cy="554.2" r="1.5" fill="#D0C5EA"/>
<circle cx="700.6" cy="554.2" r="1" fill="#D9D0EF"/>
<circle cx="715.3" cy="554.2" r="1.4" fill="#D0C5EA"/>
<circle cx="729.9" cy="554.2" r="4.6" fill="#D4CAED"/>
<circle cx="744.5" cy="554.2" r="1.2" fill="#D0C5EA"/>
<circle cx="759.1" cy="554.2" r="1.1" fill="#BDAEE2"/>
<circle cx="773.7" cy="554.2" r="1.1" fill="#D0C5EA"/>
<circle cx="788.3" cy="554.2" r="1" fill="#D9D0EF"/>
<circle cx="803" cy="554.2" r="1" fill="#D9D0EF"/>
<circle cx="817.6" cy="554.2" r="0.8" fill="#D9D0EF"/>
<circle cx="832.2" cy="554.2" r="1" fill="#D9D0EF"/>
<circle cx="846.8" cy="554.2" r="2.5" fill="#D4CAED"/>
<circle cx="861.4" cy="554.2" r="1.5" fill="#BDAEE2"/>
<circle cx="876" cy="554.2" r="1.3" fill="#BDAEE2"/>
<circle cx="890.6" cy="554.2" r="1" fill="#D0C5EA"/>
<circle cx="905.3" cy="554.2" r="1.4" fill="#BDAEE2"/>
<circle cx="919.9" cy="554.2" r="1.1" fill="#C6B9E6"/>
<circle cx="934.5" cy="554.2" r="1.3" fill="#BDAEE2"/>
<circle cx="949.1" cy="554.2" r="1.4" fill="#B3A3DE"/>
<circle cx="963.7" cy="554.2" r="1.4" fill="#BDAEE2"/>
<circle cx="978.3" cy="554.2" r="1.4" fill="#B3A3DE"/>
<circle cx="992.9" cy="554.2" r="1.1" fill="#D0C5EA"/>
<circle cx="1007.6" cy="554.2" r="0.8" fill="#D9D0EF"/>
<circle cx="72.2" cy="579.8" r="2.3" fill="#D9D0EF"/>
<circle cx="86.8" cy="579.8" r="5" fill="#D9D0EF"/>
<circle cx="101.4" cy="579.8" r="2" fill="#D9D0EF"/>
<circle cx="116" cy="579.8" r="1.8" fill="#D9D0EF"/>
<circle cx="130.7" cy="579.8" r="1.1" fill="#D9D0EF"/>
<circle cx="145.3" cy="579.8" r="0.8" fill="#D9D0EF"/>
<circle cx="159.9" cy="579.8" r="1.1" fill="#D9D0EF"/>
<circle cx="174.5" cy="579.8" r="2.3" fill="#F6F3FB"/>
<circle cx="189.1" cy="579.8" r="0.8" fill="#D9D0EF"/>
<circle cx="203.7" cy="579.8" r="3.7" fill="#F6E2DD"/>
<circle cx="218.4" cy="579.8" r="7.4" fill="#8B0000"/>
<circle cx="233" cy="579.8" r="5.8" fill="#8B0000"/>
<circle cx="247.6" cy="579.8" r="7" fill="#C5725F"/>
<circle cx="262.2" cy="579.8" r="7.3" fill="#C5725F"/>
<circle cx="276.8" cy="579.8" r="7.1" fill="#BD6450"/>
<circle cx="291.4" cy="579.8" r="6.5" fill="#C77764"/>
<circle cx="306" cy="579.8" r="7.3" fill="#9E2F1E"/>
<circle cx="320.7" cy="579.8" r="7.3" fill="#BB604C"/>
<circle cx="335.3" cy="579.8" r="7.1" fill="#9E2F1E"/>
<circle cx="349.9" cy="579.8" r="5.3" fill="#91160B"/>
<circle cx="379.1" cy="579.8" r="4.5" fill="#FCFBFE"/>
<circle cx="393.7" cy="579.8" r="7" fill="#F6E2DD"/>
<circle cx="408.3" cy="579.8" r="7.3" fill="#F9ECE8"/>
<circle cx="423" cy="579.8" r="7" fill="#E1A99C"/>
<circle cx="437.6" cy="579.8" r="6" fill="#FEFCFC"/>
<circle cx="452.2" cy="579.8" r="6.3" fill="#F1D4CC"/>
<circle cx="466.8" cy="579.8" r="4.6" fill="#F6F3FB"/>
<circle cx="481.4" cy="579.8" r="6.2" fill="#F6E2DD"/>
<circle cx="496" cy="579.8" r="7" fill="#F0CFC7"/>
<circle cx="510.6" cy="579.8" r="6.8" fill="#F8E7E3"/>
<circle cx="525.3" cy="579.8" r="7" fill="#DA9C8C"/>
<circle cx="539.9" cy="579.8" r="4.4" fill="#F1EDF9"/>
<circle cx="554.5" cy="579.8" r="4.6" fill="#FBF0EE"/>
<circle cx="569.1" cy="579.8" r="7.3" fill="#F3D8D2"/>
<circle cx="583.7" cy="579.8" r="6.3" fill="#E5B3A6"/>
<circle cx="598.3" cy="579.8" r="6" fill="#FEFCFC"/>
<circle cx="613" cy="579.8" r="7.3" fill="#E3AEA1"/>
<circle cx="627.6" cy="579.8" r="1.3" fill="#D0C5EA"/>
<circle cx="642.2" cy="579.8" r="1.6" fill="#D0C5EA"/>
<circle cx="656.8" cy="579.8" r="0.8" fill="#D9D0EF"/>
<circle cx="671.4" cy="579.8" r="0.8" fill="#D9D0EF"/>
<circle cx="686" cy="579.8" r="1.3" fill="#D0C5EA"/>
<circle cx="700.6" cy="579.8" r="1" fill="#D9D0EF"/>
<circle cx="715.3" cy="579.8" r="1.3" fill="#D0C5EA"/>
<circle cx="729.9" cy="579.8" r="3.3" fill="#D0C5EA"/>
<circle cx="744.5" cy="579.8" r="1.1" fill="#D0C5EA"/>
<circle cx="759.1" cy="579.8" r="1.1" fill="#C6B9E6"/>
<circle cx="773.7" cy="579.8" r="1" fill="#D9D0EF"/>
<circle cx="788.3" cy="579.8" r="1" fill="#D9D0EF"/>
<circle cx="803" cy="579.8" r="1" fill="#D9D0EF"/>
<circle cx="817.6" cy="579.8" r="0.8" fill="#D9D0EF"/>
<circle cx="832.2" cy="579.8" r="1" fill="#D9D0EF"/>
<circle cx="846.8" cy="579.8" r="1.6" fill="#D0C5EA"/>
<circle cx="861.4" cy="579.8" r="1.1" fill="#BDAEE2"/>
<circle cx="876" cy="579.8" r="1.1" fill="#BDAEE2"/>
<circle cx="890.6" cy="579.8" r="0.8" fill="#D0C5EA"/>
<circle cx="905.3" cy="579.8" r="1.2" fill="#BDAEE2"/>
<circle cx="919.9" cy="579.8" r="1" fill="#C6B9E6"/>
<circle cx="934.5" cy="579.8" r="1.2" fill="#BDAEE2"/>
<circle cx="949.1" cy="579.8" r="1.1" fill="#BDAEE2"/>
<circle cx="963.7" cy="579.8" r="1.1" fill="#BDAEE2"/>
<circle cx="978.3" cy="579.8" r="1.1" fill="#B3A3DE"/>
<circle cx="992.9" cy="579.8" r="1" fill="#D0C5EA"/>
<circle cx="1007.6" cy="579.8" r="0.8" fill="#D9D0EF"/>
<circle cx="72.2" cy="605.5" r="7.1" fill="#8B0000"/>
<circle cx="86.8" cy="605.5" r="7.4" fill="#8B0000"/>
<circle cx="101.4" cy="605.5" r="7.1" fill="#8B0000"/>
<circle cx="116" cy="605.5" r="6.3" fill="#8B0000"/>
<circle cx="130.7" cy="605.5" r="6.5" fill="#8B0000"/>
<circle cx="145.3" cy="605.5" r="4.1" fill="#8B0000"/>
<circle cx="159.9" cy="605.5" r="4.9" fill="#8B0000"/>
<circle cx="174.5" cy="605.5" r="4.4" fill="#8B0000"/>
<circle cx="189.1" cy="605.5" r="5.3" fill="#8B0000"/>
<circle cx="203.7" cy="605.5" r="6.7" fill="#951D10"/>
<circle cx="218.4" cy="605.5" r="7.2" fill="#FAF9FD"/>
<circle cx="233" cy="605.5" r="4.4" fill="#F1EDF9"/>
<circle cx="247.6" cy="605.5" r="7" fill="#ECC6BC"/>
<circle cx="262.2" cy="605.5" r="7.3" fill="#F5DDD7"/>
<circle cx="276.8" cy="605.5" r="7" fill="#F6F3FB"/>
<circle cx="291.4" cy="605.5" r="6.6" fill="#F3D8D2"/>
<circle cx="306" cy="605.5" r="7.3" fill="#ECE7F7"/>
<circle cx="320.7" cy="605.5" r="7.3" fill="#FDF7F6"/>
<circle cx="335.3" cy="605.5" r="7.3" fill="#F9ECE8"/>
<circle cx="349.9" cy="605.5" r="5.8" fill="#FBF0EE"/>
<circle cx="364.5" cy="605.5" r="6.3" fill="#F1EDF9"/>
<circle cx="379.1" cy="605.5" r="4.2" fill="#E3DCF3"/>
<circle cx="393.7" cy="605.5" r="7" fill="#F8E7E3"/>
<circle cx="408.3" cy="605.5" r="7.3" fill="#F6E2DD"/>
<circle cx="423" cy="605.5" r="7" fill="#FEFDFD"/>
<circle cx="437.6" cy="605.5" r="5.5" fill="#DED6F1"/>
<circle cx="452.2" cy="605.5" r="6.8" fill="#F6E2DD"/>
<circle cx="466.8" cy="605.5" r="5.8" fill="#FCF3F1"/>
<circle cx="481.4" cy="605.5" r="5.8" fill="#EECAC1"/>
<circle cx="496" cy="605.5" r="6.9" fill="#F6E2DD"/>
<circle cx="525.3" cy="605.5" r="6.8" fill="#F8E7E3"/>
<circle cx="539.9" cy="605.5" r="4.8" fill="#DED6F1"/>
<circle cx="554.5" cy="605.5" r="5.8" fill="#F3D8D2"/>
<circle cx="569.1" cy="605.5" r="7.5" fill="#D38E7D"/>
<circle cx="598.3" cy="605.5" r="6" fill="#FEFCFC"/>
<circle cx="613" cy="605.5" r="7.3" fill="#FCF5F4"/>
<circle cx="627.6" cy="605.5" r="3.4" fill="#CBBFE8"/>
<circle cx="642.2" cy="605.5" r="4.3" fill="#DED6F1"/>
<circle cx="656.8" cy="605.5" r="1.6" fill="#D0C5EA"/>
<circle cx="671.4" cy="605.5" r="1.1" fill="#D0C5EA"/>
<circle cx="686" cy="605.5" r="2.8" fill="#D0C5EA"/>
<circle cx="700.6" cy="605.5" r="1.7" fill="#CBBFE8"/>
<circle cx="715.3" cy="605.5" r="3.9" fill="#D0C5EA"/>
<circle cx="729.9" cy="605.5" r="4" fill="#CBBFE8"/>
<circle cx="744.5" cy="605.5" r="2.3" fill="#D0C5EA"/>
<circle cx="759.1" cy="605.5" r="2.2" fill="#B3A3DE"/>
<circle cx="773.7" cy="605.5" r="3.5" fill="#D4CAED"/>
<circle cx="788.3" cy="605.5" r="2.7" fill="#D4CAED"/>
<circle cx="803" cy="605.5" r="2" fill="#D4CAED"/>
<circle cx="817.6" cy="605.5" r="1.3" fill="#D0C5EA"/>
<circle cx="832.2" cy="605.5" r="1.6" fill="#D0C5EA"/>
<circle cx="846.8" cy="605.5" r="2.6" fill="#D9D0EF"/>
<circle cx="861.4" cy="605.5" r="3.3" fill="#BDAEE2"/>
<circle cx="876" cy="605.5" r="2.5" fill="#BDAEE2"/>
<circle cx="890.6" cy="605.5" r="1.1" fill="#D0C5EA"/>
<circle cx="905.3" cy="605.5" r="2.9" fill="#BDAEE2"/>
<circle cx="919.9" cy="605.5" r="1.2" fill="#C6B9E6"/>
<circle cx="934.5" cy="605.5" r="1.8" fill="#BDAEE2"/>
<circle cx="949.1" cy="605.5" r="3" fill="#B8A9E0"/>
<circle cx="963.7" cy="605.5" r="3.1" fill="#BDAEE2"/>
<circle cx="978.3" cy="605.5" r="3.3" fill="#BDAEE2"/>
<circle cx="992.9" cy="605.5" r="1.1" fill="#D0C5EA"/>
<circle cx="1007.6" cy="605.5" r="1" fill="#D9D0EF"/>
<text x="1032.1" y="415.9" font-size="13.4">Average Expression</text>
<defs><linearGradient id="cb" x1="0" y1="0" x2="0" y2="1"><stop offset="0%" stop-color="#8B0000"/><stop offset="5%" stop-color="#972314"/><stop offset="10%" stop-color="#A33825"/><stop offset="15%" stop-color="#AE4B37"/><stop offset="20%" stop-color="#B95D49"/><stop offset="25%" stop-color="#C36F5B"/><stop offset="30%" stop-color="#CD806E"/><stop offset="35%" stop-color="#D69282"/><stop offset="40%" stop-color="#DEA496"/><stop offset="45%" stop-color="#E6B6AA"/><stop offset="50%" stop-color="#EDC8BF"/><stop offset="55%" stop-color="#F4DAD4"/><stop offset="60%" stop-color="#FAEDE9"/><stop offset="65%" stop-color="#FFFFFF"/><stop offset="70%" stop-color="#EDE8F7"/><stop offset="75%" stop-color="#DAD2EF"/><stop offset="80%" stop-color="#C8BCE7"/><stop offset="85%" stop-color="#B5A6DF"/><stop offset="90%" stop-color="#A391D7"/><stop offset="95%" stop-color="#8F7CCE"/><stop offset="100%" stop-color="#7B68C6"/></linearGradient></defs>
<rect x="1031.7" y="425.4" width="15.5" height="75.4" fill="url(#cb)"/>
<line x1="1031.7" y1="435.1" x2="1034.8" y2="435.1" stroke="#fff" stroke-width="0.8"/>
<line x1="1044.1" y1="435.1" x2="1047.2" y2="435.1" stroke="#fff" stroke-width="0.8"/>
<text x="1062.2" y="439.7" font-size="12.5" text-anchor="end">2</text>
<line x1="1031.7" y1="454.7" x2="1034.8" y2="454.7" stroke="#fff" stroke-width="0.8"/>
<line x1="1044.1" y1="454.7" x2="1047.2" y2="454.7" stroke="#fff" stroke-width="0.8"/>
<text x="1062.2" y="459.3" font-size="12.5" text-anchor="end">1</text>
<line x1="1031.7" y1="474.5" x2="1034.8" y2="474.5" stroke="#fff" stroke-width="0.8"/>
<line x1="1044.1" y1="474.5" x2="1047.2" y2="474.5" stroke="#fff" stroke-width="0.8"/>
<text x="1062.2" y="479.1" font-size="12.5" text-anchor="end">0</text>
<line x1="1031.7" y1="493.7" x2="1034.8" y2="493.7" stroke="#fff" stroke-width="0.8"/>
<line x1="1044.1" y1="493.7" x2="1047.2" y2="493.7" stroke="#fff" stroke-width="0.8"/>
<text x="1062.2" y="498.3" font-size="12.5" text-anchor="end">-1</text>
<text x="1032.5" y="528" font-size="13.4">Percent Expressed</text>
<circle cx="1040.2" cy="545.1" r="2.5" fill="#000"/>
<text x="1057.3" y="549.7" font-size="12.5">25</text>
<circle cx="1040.2" cy="560.6" r="4.3" fill="#000"/>
<text x="1057.3" y="565.2" font-size="12.5">50</text>
<circle cx="1040.2" cy="576.2" r="5.9" fill="#000"/>
<text x="1057.3" y="580.8" font-size="12.5">75</text>
<circle cx="1040.2" cy="592.4" r="7.5" fill="#000"/>
<text x="1057.3" y="597" font-size="12.5">100</text>
</g>
<!-- panel_c -->
<g>
<g transform="translate(10.2 0) scale(0.98 1) translate(-10.2 0)"><text x="10.2" y="730.7" font-size="23.7" font-weight="bold">C</text>
</g>
<line x1="65.3" y1="730.4" x2="65.3" y2="975" stroke="#000" stroke-width="1.1"/>
<line x1="64.8" y1="974.5" x2="292.7" y2="974.5" stroke="#000" stroke-width="1.1"/>
<line x1="62" y1="771.8" x2="65.3" y2="771.8" stroke="#000" stroke-width="1.1"/>
<text x="57.3" y="777.3" font-size="15.4" text-anchor="end">10</text>
<line x1="62" y1="824.2" x2="65.3" y2="824.2" stroke="#000" stroke-width="1.1"/>
<text x="57.3" y="829.7" font-size="15.4" text-anchor="end">5</text>
<line x1="62" y1="876.6" x2="65.3" y2="876.6" stroke="#000" stroke-width="1.1"/>
<text x="57.3" y="882.1" font-size="15.4" text-anchor="end">0</text>
<line x1="62" y1="929.3" x2="65.3" y2="929.3" stroke="#000" stroke-width="1.1"/>
<text x="57.3" y="934.8" font-size="15.4" text-anchor="end">-5</text>
<line x1="114.8" y1="974.5" x2="114.8" y2="978" stroke="#000" stroke-width="1.1"/>
<text x="114.8" y="994.4" font-size="15.4" text-anchor="middle">-5</text>
<line x1="167.2" y1="974.5" x2="167.2" y2="978" stroke="#000" stroke-width="1.1"/>
<text x="167.2" y="994.4" font-size="15.4" text-anchor="middle">0</text>
<line x1="219.6" y1="974.5" x2="219.6" y2="978" stroke="#000" stroke-width="1.1"/>
<text x="219.6" y="994.4" font-size="15.4" text-anchor="middle">5</text>
<line x1="272.3" y1="974.5" x2="272.3" y2="978" stroke="#000" stroke-width="1.1"/>
<text x="272.3" y="994.4" font-size="15.4" text-anchor="middle">10</text>
<text x="30.3" y="845.3" font-size="16.5" text-anchor="middle" transform="rotate(-90 30.3 845.3)">UMAP_2</text>
<text x="186" y="1014.4" font-size="16.4" text-anchor="middle">UMAP_1</text>
<path d="M130.7 843.4C134.5 842.6 138.6 841.3 141.5 840.2C144.3 839.2 145.4 837.5 147.7 837.1C150 836.7 153.4 836.5 155.5 837.8C157.5 839.1 158.8 842.1 160.1 844.8C161.4 847.5 162.1 851.3 163.1 854.2C164.2 857 165.2 860 166.2 861.9C167.2 863.8 167.8 865 169.3 865.8C170.9 866.5 173.8 865.7 175.6 866.5C177.4 867.3 179.8 868.6 180.3 870.4C180.8 872.2 179.8 874.9 178.7 877.4C177.7 879.8 175.6 882.5 174 885.1C172.4 887.7 171.1 890.5 169.3 892.8C167.5 895.1 165.2 896.4 163.1 899C161 901.6 159.5 905.2 156.9 908.3C154.4 911.4 151.3 914.7 147.7 917.6C144.1 920.4 139.4 923.7 135.3 925.4C131.2 927.1 127 927.4 122.9 927.8C118.8 928.2 114.6 928.2 110.5 927.8C106.3 927.4 101.9 926.9 98 925.5C94.1 924.1 90.2 921.9 87.1 919.3C84 916.7 81.2 913.1 79.4 910C77.5 906.9 76.5 904 76.3 900.7C76 897.3 76.8 893.1 77.9 889.8C78.9 886.4 81 883 82.6 880.5C84.1 877.9 85.2 876.3 87.3 874.3C89.4 872.2 92.8 870.7 95.1 868.1C97.4 865.5 99.8 861.9 101.3 858.8C102.9 855.7 103.3 851.6 104.4 849.5C105.4 847.5 105.1 847.2 107.4 846.4C109.8 845.7 114.4 845.4 118.3 844.9C122.2 844.4 126.8 844.2 130.7 843.4Z" fill="#6C96E0"/>
<path d="M140.3 923h0M136.8 924.6h0M168.3 864.7h0M84.2 877.2h0M156.7 839.3h0M143.5 840.3h0M84.1 914.9h0M135.1 841.4h0M169 865h0M137.2 924.7h0M121.3 927.8h0M82.2 913.1h0M130.7 844h0M76.2 900.8h0M172.6 886.7h0M153.1 912.5h0M118.6 844.2h0M175.9 866.4h0M124.6 843.4h0M89.7 920.1h0M155.4 838.9h0M78.9 886.2h0M157.3 842.1h0M167.1 862.8h0M169.9 865.2h0M85.3 917.7h0M175.7 867.7h0M86.4 875.6h0M175.4 867.1h0M85.6 919.1h0M175.8 867.4h0M165.8 895.3h0M156.3 838.5h0M96.4 924.6h0M118.3 845h0M99.2 860.7h0M104.9 849.1h0M169.7 866.4h0M172 866.6h0M95.9 923.7h0M142.6 839.6h0M76.4 902.7h0M97.6 924.9h0M76 897.1h0M109.5 927.7h0M175.3 883.5h0M135.1 841.9h0M147.2 836.9h0M104.5 926.6h0M103.5 854.8h0M78.2 905.4h0M140.1 841.1h0M77.8 902.4h0M87.4 919.9h0M169.1 893.2h0M113.3 928.4h0M77.8 893h0M105.5 848.4h0M104.2 851.5h0M85 878.2h0M90.2 921.3h0M94 923.8h0M129.3 844h0M155.5 910.2h0M143.8 919.7h0M77.7 888.8h0M132.1 926.2h0M127.8 927.5h0M177.7 877.4h0M78.8 909.3h0M104.4 850.2h0M102.5 854.6h0M171.8 866.6h0M106.2 848.1h0M101.6 925.6h0M128.4 927.4h0M77 899.9h0M165.6 860.3h0M176.2 867.3h0M128.4 927.2h0M125.2 843.4h0M140.4 840h0M76.5 900.7h0M83.8 877.3h0M138.8 923.2h0M179.3 871.6h0M89.2 920.7h0M84.2 915.9h0M78.2 907.9h0M166.4 863.1h0M75.9 899h0M163 899.7h0M93.6 922.6h0M85.3 877.1h0M110.8 845.4h0M140.1 923.1h0M157.6 908.1h0M86.2 876.5h0M83.9 916.4h0M90.4 872.4h0M176.8 867.8h0M123.9 844.7h0M168.6 894.7h0M161.5 900.3h0M112.1 927.8h0M139.4 840.3h0M85.6 875.6h0M83.3 878.1h0M122.2 928.3h0M78.9 906.5h0M114.7 844.9h0M118.5 928.1h0M86.9 919.5h0M108.5 927.3h0M96.8 866.1h0M97.8 865.2h0M104.4 926.8h0M126.1 926.4h0M121.5 844.4h0M86.4 875.5h0M77.4 906.1h0M150.4 916.2h0M176.3 880.6h0M145.5 919.9h0M133.5 925.2h0M92.9 921.6h0M81.6 880.3h0M179.7 869.4h0M161.2 901.4h0M76.6 894.4h0M178.5 876.2h0M144 919.6h0M117.5 927.3h0M88.9 920.3h0M97.3 865.6h0M180.6 871.4h0M103.5 850.9h0M107 847.2h0M101.8 855.1h0M76.6 895h0M93.3 869.9h0M161.1 848.7h0M135.3 842.2h0M105.8 848.3h0M125.6 927.3h0M78.1 906.9h0M158.1 843h0M122.5 927.2h0M167.8 865h0M128.4 843.1h0M148.9 837.1h0M80.1 884.7h0M122.2 927.9h0M134.8 842.8h0M167.6 864.1h0M151 913.2h0M122.3 928.4h0M86.8 876h0M89.1 920.7h0M126.3 927.7h0M178.8 878.7h0M82.7 881h0M103.9 853.2h0M81.2 883.9h0M76.1 896.6h0M135.2 924.7h0M87.1 918.6h0M114.3 845.3h0M82.9 914.2h0M155.7 910.6h0M77.5 903.9h0M137.5 841.8h0M178.2 877.2h0M170.8 865.3h0M179.6 876.4h0M125.2 927.6h0M129.4 844.1h0M152.7 837.9h0M144.3 838.6h0M134.7 925.4h0M93.3 923.9h0M148.3 917.2h0M159 904.9h0M108.2 927.8h0M171.4 887.7h0M142.4 839.9h0M155.4 910.8h0M145.8 839.2h0M152.3 837.3h0M134.3 925.3h0M120.5 928.1h0M136.9 925.4h0M95.4 924.6h0M138.9 922.1h0M117.8 927.7h0M81.1 911.8h0M102 926.7h0M118.4 928.5h0M76.9 892.7h0M103.3 854.2h0M160 903.3h0M107.4 927.4h0M78.3 887.4h0M125.2 844.8h0M141.4 839.6h0M147.4 917.3h0M113.6 927.1h0M79.7 910.5h0M158 906.1h0M163.4 899.7h0M151.3 838h0M91.1 920.9h0M147 918.3h0M159 906.3h0M167 895.6h0M106.9 846.6h0M157.9 839.9h0M154.7 837.7h0M78.3 908.2h0M152 837.8h0M153.9 838.1h0M77.4 904.7h0M161 902.5h0M160.8 846h0M107.3 848h0M144.4 919.7h0M168.4 894.3h0M102.7 853.2h0M159.1 904.5h0M154.8 910h0M85.7 877h0M107.4 927.7h0M101.4 856.7h0M122.2 927.9h0M120.8 845.1h0M148.9 837.6h0M154.2 838.1h0M102.8 852.4h0M163.3 853.8h0M178.9 875.1h0M120.8 927.6h0M165 898.1h0M128.8 927h0M77.1 901h0M92.3 871.1h0M87.7 875h0M118.2 845h0M76.8 900.5h0M147.7 917.4h0M127.7 843.2h0M173.5 865.9h0M120.9 844.2h0M160.4 845.6h0M166.6 863.2h0M102.2 925.4h0M158.7 843.1h0M180.3 871.9h0M178.2 868.7h0M166.5 861.3h0M112.8 927.8h0" stroke="#6C96E0" stroke-width="1.6" stroke-linecap="round" fill="none"/>
<path d="M179.3 867.2h0M172.9 873.4h0M166.9 895.7h0M169.2 886.6h0M177.3 877.6h0M164.2 856.5h0M168 861.3h0M180.9 873.4h0M166.7 874.3h0M162.4 861.8h0M171.8 871.1h0M179.1 868.7h0M173.3 873.8h0M167.8 863.7h0M162.3 863.5h0M171.5 882.8h0M168.9 881.4h0M163 867.6h0M173.8 870.6h0M169.3 874.5h0M167.5 865h0M169.7 880.5h0M166.5 858.5h0M177.7 864.6h0M177.5 864.7h0M163.8 853.5h0M176.4 882.4h0M164.7 868h0M180.2 877h0M162.6 859.7h0M164.2 854.9h0M182.1 869.2h0M172.5 879.6h0M169.6 864.7h0M169.9 882h0M176 877.7h0M168.5 879.7h0M163 866.9h0M172.5 886.2h0M179.9 877.9h0M181.7 874.9h0M168.8 872.6h0M162.4 860.6h0M174 881.9h0M168.2 892.8h0M169 870.9h0M173.3 875.5h0M179.7 877.4h0M167.3 891.3h0M166.1 876.1h0M176.3 883.8h0M169.5 876.9h0M165.2 871.1h0M163.8 867.3h0M173.8 864.7h0M171.5 868.5h0M175.2 881.5h0M170.1 869.5h0M172.9 873.8h0M170.6 891.7h0M177.7 877.2h0M172.3 867.8h0M167.7 867.7h0M170.4 887h0M166.2 863.2h0M169.8 865.9h0M167.7 872.5h0M167.4 892.5h0M180.2 865.8h0M161.6 854.1h0M165.7 863.5h0M164.7 860.2h0M169.2 880.3h0M165.9 863.2h0M167 879.2h0M170.8 874h0M162.5 862.5h0M167 874.9h0M171.3 884.4h0M169.5 892.8h0M173.6 879.4h0M168.9 880.1h0M178.9 873.4h0M172.4 888.9h0M176.6 873.6h0M170.8 885.5h0M166 872.1h0M165.7 876.4h0M174.5 882.7h0M164.7 856.2h0" stroke="#6C96E0" stroke-width="1.4" stroke-linecap="round" fill="none"/>
<path d="M166.4 867.1h0M169.5 871.2h0M170.7 870.5h0M160.5 859.5h0M175.5 881.2h0M167.7 880.1h0M166.9 879.5h0M165.5 861.2h0M173.9 879h0M161.8 859.4h0M164.8 862.8h0M178.9 874h0M176.2 873.2h0M161.4 863.3h0M160.3 857.4h0M163.6 867.3h0M160.7 859.8h0M174 878.6h0M163.9 864.8h0M163.7 866.4h0M173.1 876.3h0M159.9 857.4h0M165.8 864.8h0M163.2 863.2h0M169.4 882.1h0M171.8 886.6h0M166.3 865.1h0M164 869.4h0M162.9 855.5h0M165.7 868.5h0M164.3 866.3h0M172.5 871.7h0M165.5 863.9h0M169.9 868.2h0M164 859.4h0M176.8 872.2h0M170.6 888h0M164.8 872.6h0M170.8 874.4h0M165.9 866h0M163.6 863.8h0M160.9 858.4h0M167.8 875.6h0M169 874.6h0M169.3 883h0" stroke="#FFFFFF" stroke-width="1.1" stroke-linecap="round" fill="none"/>
<path d="M138.6 794.7C139.8 794.2 141.9 793.9 144.7 794.4C147.5 794.9 154.4 796.7 155.4 797.7C156.4 798.8 151.7 798.6 150.7 800.9C149.8 803.2 150 808.4 149.7 811.7C149.4 815 149.3 817.3 148.9 820.6C148.6 823.8 148.2 828.4 147.7 831.3C147.1 834.1 146.7 835.9 145.4 837.5C144.2 839.1 142.1 840.4 140.1 840.9C138 841.5 134.8 842.1 133.2 841C131.5 839.9 130.8 836.6 130.2 834.4C129.6 832.3 129.1 830.8 129.5 828.2C129.9 825.7 132.1 821.8 132.8 819.1C133.5 816.3 133.2 814.2 133.5 811.7C133.8 809.2 134.2 806.4 134.8 804.1C135.4 801.8 136.4 799.4 137 797.9C137.7 796.3 137.3 795.3 138.6 794.7Z" fill="#FF7F00"/>
<path d="M136.7 797.9h0M133.9 808.1h0M130 831.1h0M132.6 815.4h0M145.7 836.9h0M150.1 812.7h0M149.8 806.5h0M151.9 799.6h0M145.5 794.2h0M129 829.1h0M131.9 820.9h0M134.4 809.5h0M150 809.3h0M148.7 825.2h0M129.3 827.6h0M131.9 823.4h0M137.3 841.3h0M132.7 839.2h0M153.2 797.4h0M149.8 805.3h0M136 841.7h0M154.7 797.3h0M131.5 838.5h0M137.2 796.3h0M151.9 796.5h0M131 825.5h0M148.4 818.1h0M145.7 836h0M133.4 817.8h0M148.5 825.9h0M137.4 797.1h0M140.6 840.4h0M151.5 800.7h0M150 807.9h0M148.5 817.4h0M155.5 797.5h0M150.3 805.4h0M149.2 808.8h0M134 806.4h0M151.3 801.3h0M151.2 802.5h0M148.5 828.1h0M145.6 794.9h0M131.8 839.4h0M134.5 810.3h0M133.6 813.6h0M141.3 793.9h0M147.3 795.7h0M149.4 814.8h0M151.2 802.7h0M142.5 840.2h0M130.3 826.1h0M133.6 815.6h0M151.3 796.1h0M129.2 829.8h0M141.5 794.1h0M148.2 825.4h0M132.8 817.1h0M148.5 821.6h0M148.6 816.8h0M130.2 825.3h0M140.3 840.4h0M150.6 796.2h0M147 830.2h0M147.9 827h0M135.8 800.7h0M149.7 816.3h0M137.8 796.8h0M150.2 805h0M151.5 800.4h0M135.8 800.1h0M149.6 820.8h0M131.3 837.6h0M150.7 804.4h0M133.8 811.4h0M136.8 841.5h0M129.7 831.3h0M147.8 828.4h0M133.5 841h0M142.7 794.4h0M134.5 841.7h0M154.4 799.2h0M130.2 825.7h0M137.8 796.5h0M154.3 797.2h0M150.8 806.6h0M136.2 802.2h0M144.4 838h0M134.2 809.3h0M132.9 817.4h0" stroke="#FF7F00" stroke-width="1.6" stroke-linecap="round" fill="none"/>
<path d="M118.1 866.3h0M123.6 864.8h0M125.1 861.6h0M129.1 866.7h0M131.4 869.5h0M133.8 871.8h0M134.6 874.2h0M136.9 878.9h0M139.3 880.5h0M144 882.8h0M145.6 884.4h0M120.4 873.4h0M154.2 889.1h0M152.6 899.3h0M136.1 909.5h0M161.3 881.7h0M163.6 887.5h0M164.9 889.1h0M136.9 845.9h0M140.8 844.1h0M133.8 842.8h0" stroke="#FF7F00" stroke-width="1.5" stroke-linecap="round" fill="none"/>
<path d="M157 802.3h0M156.1 809h0M152.6 816.1h0M127.5 830.2h0M182.4 864.8h0" stroke="#6C96E0" stroke-width="1.4" stroke-linecap="round" fill="none"/>
<path d="M205.3 786.6h0M206.5 786.2h0M209.2 785.8h0M209.9 786.7h0" stroke="#4C8FE8" stroke-width="1.6" stroke-linecap="round" fill="none"/>
<path d="M205.1 741.6C206.7 741.2 208.8 741.7 211.7 742.1C214.6 742.5 218.9 743.1 222.4 744C226 744.9 229.9 746.2 233 747.6C236.2 748.9 238.7 750.5 241.3 752.2C243.9 754 246.5 756.1 248.5 758.1C250.6 760.1 253.2 762.7 253.4 764C253.6 765.4 251.2 765.4 249.8 766.4C248.3 767.4 246.9 769.3 244.9 769.9C242.9 770.6 239.9 770.1 237.7 770.4C235.5 770.8 233.3 771.1 231.8 772.1C230.2 773.1 229.9 775.1 228.3 776.3C226.7 777.5 224.4 778.4 222.4 779.3C220.5 780.2 218.3 782 216.5 781.8C214.7 781.6 213.3 780.2 211.8 778.2C210.2 776.2 208.6 772.9 207.1 769.9C205.6 767 203.9 763.6 202.9 760.5C201.8 757.3 201.1 753.6 201 750.9C200.9 748.3 201.7 745.9 202.4 744.4C203.1 742.8 203.6 742 205.1 741.6Z" fill="#FB9A99"/>
<path d="M202.2 759.1h0M220.4 780h0M207 769.4h0M206.8 768.6h0M232.5 772.6h0M226.3 744.7h0M210.1 742.6h0M203.7 763.2h0M253.5 764.5h0M201 755.2h0M234.1 748.7h0M210.7 777.5h0M247.1 767.5h0M247 756.3h0M226.7 776.8h0M223.6 744.2h0M222.8 745h0M225.2 777.3h0M204.9 742.5h0M250.9 761.2h0M226 745h0M205 765.4h0M238.5 770.2h0M213.2 779.8h0M244 753.6h0M203.4 760.9h0M201 750.3h0M226.5 776.5h0M248.9 766.7h0M201.5 747.3h0M217 781.3h0M224.5 744.1h0M248.8 767.4h0M203.5 761.6h0M219.9 742.8h0M251.3 762.1h0M217.5 781.9h0M200.9 747.9h0M242.9 770h0M247.2 756.9h0M203.1 745.5h0M252.6 765.1h0M214.7 779.2h0M244 770.3h0M236.1 748.4h0M251.5 762.2h0M209.6 775h0M220.6 780.5h0M240.2 751.7h0M207.2 771.2h0M208 742.5h0M201.1 755h0M233.8 770.9h0M206.6 769.6h0M222.9 743.5h0M217.7 742.8h0M207.3 770.9h0M212.4 742.2h0M230.9 773.6h0M220.5 743h0M202.3 744.6h0M225.8 778.6h0M249.1 765.7h0M205.6 766.1h0M227.2 744.8h0M220.5 744.4h0M221.8 779.1h0M248.9 766.1h0M221.7 743.5h0M240.5 770.9h0M201.7 748.1h0M201.4 753.8h0M210 775.6h0M248 767.4h0M247.9 767h0M203.5 763.5h0M231.9 771.6h0M219 743.1h0M240.6 770.6h0M239.7 770.1h0M201.4 745.5h0M201.8 746.2h0M251.7 762.5h0M227.8 776.4h0M236.8 770.1h0M217.9 742.9h0M206.4 769.3h0M250.9 765.7h0M218.1 743.6h0M247.9 758.4h0M207.2 769h0M208 773h0M232.3 772.6h0M209 742.2h0M228.2 775.8h0M249.6 767.5h0M200.6 752.7h0M247.2 768.4h0M245.8 768.6h0M247.7 756.4h0M222.1 744.1h0M231.4 771.4h0M246.9 756.3h0M200.6 751.4h0M234.2 771h0M202.4 757.6h0M247.6 768.1h0M201 751h0M253.4 763.7h0M209.6 775.6h0" stroke="#FB9A99" stroke-width="1.6" stroke-linecap="round" fill="none"/>
<path d="M217.9 780.3C220.5 779.1 225.6 778 228.5 778.1C231.5 778.1 233.2 779.5 235.5 780.5C237.8 781.4 240.8 782.5 242.5 783.9C244.3 785.2 245.6 786.2 246.1 788.5C246.6 790.9 246.5 795.6 245.5 797.9C244.6 800.3 242.3 801.3 240.2 802.6C238.2 803.8 235.5 805.5 233.2 805.5C230.9 805.5 228 803.8 226.2 802.5C224.5 801.2 224.4 799.7 222.8 797.8C221.2 795.9 218.5 792.9 216.9 790.9C215.3 788.8 213 787.3 213.2 785.6C213.4 783.8 215.4 781.6 217.9 780.3Z" fill="#CAB2D6"/>
<path d="M235.6 780.1h0M246.2 788.9h0M246 793h0M246.2 789.6h0M216.5 781.9h0M238.1 782.3h0M235.6 803.6h0M218.3 793.2h0M245.8 796.6h0M217.1 781.9h0M242.5 800.6h0M226.8 778.9h0M221.4 779.7h0M237.7 802.9h0M215.3 784.2h0M227.2 778h0M235.7 780.7h0M229.2 778.3h0M215.1 787.7h0M246.7 790.5h0M243.6 784.8h0M240.6 782.4h0M238.8 802.7h0M239.5 782.7h0M241.4 783.1h0M241.9 801.1h0M217.1 790.5h0M239 803.3h0M229.5 804h0M239.9 783.7h0M246.5 789.6h0M245 798.6h0M214.5 784.3h0M245.7 789.5h0M228.6 778.5h0M225 778.3h0M236.2 804.8h0M244.6 785.1h0M227.6 802.6h0M237.1 804.5h0M217.2 790.7h0M224.9 778.3h0M239.9 802.6h0M235.8 780.3h0M242.3 800.2h0M238.2 803.8h0M229.7 778.3h0M226.3 802.4h0M215.5 784.3h0M213.2 784.7h0M235 805.1h0M233.5 804.6h0M241.4 801.5h0M228.6 778.9h0M219.4 780.4h0M226.4 802.7h0M223.1 796.7h0M224.5 779.8h0M217.9 792h0M245.3 789h0M241 783.1h0M245.8 787.7h0M239.2 781.4h0M231 779h0M220.7 795.3h0M228.9 803.8h0M240.8 782.3h0M238 781.6h0M224.6 800.3h0M238.3 803.5h0" stroke="#CAB2D6" stroke-width="1.6" stroke-linecap="round" fill="none"/>
<path d="M214.3 778.4h0M218.3 779.7h0M218.8 777.6h0M217.2 784h0M218.5 779.1h0M225.3 783.5h0M221.6 784.2h0M213 784.8h0M211 783.2h0M236.5 778.1h0M210.8 782.9h0M215.2 785.4h0M216.2 778h0M210.4 781.4h0M223.6 781.8h0M230.7 781.4h0M216.3 783.7h0M211.6 779.5h0M224.5 779.1h0M221.1 782.1h0M233.3 780.8h0M212.6 785.5h0M230.7 780.2h0M212 783.4h0M213.5 784h0M222.3 782.6h0M221.2 778h0M207 779.2h0M207.8 778.8h0M226.1 779.9h0" stroke="#FB9A99" stroke-width="1.4" stroke-linecap="round" fill="none"/>
<path d="M240.6 767.7h0M243 769h0M245.5 770.8h0M238.2 773.8h0M233.3 775h0M236.4 778.1h0M244.9 782.3h0M205.3 782.3h0M211.4 784.8h0" stroke="#FB9A99" stroke-width="1.6" stroke-linecap="round" fill="none"/>
<path d="M222.3 778.7h0M224.8 776.3h0M227.2 778.1h0M230.9 778.7h0M233.9 785.4h0M237 778.7h0" stroke="#CAB2D6" stroke-width="1.6" stroke-linecap="round" fill="none"/>
<path d="M246.7 764.7h0M247.9 765.3h0" stroke="#E31A1C" stroke-width="1.6" stroke-linecap="round" fill="none"/>
<path d="M243.6 897.3C245 895.9 247 894.6 248.9 893.7C250.8 892.7 252.9 892 255.2 891.6C257.4 891.2 259.9 891.1 262.5 891.3C265.1 891.5 268.8 892 270.9 892.6C273 893.3 273.9 893.8 275.1 895.2C276.3 896.7 277.5 899.5 278.2 901.6C278.9 903.7 278.6 905.9 279.2 907.8C279.9 909.8 281.5 911.3 281.9 913.1C282.4 914.8 282.4 916.6 282 918.3C281.5 920.1 280.5 922.2 279.3 923.6C278.2 925 276.9 926.4 275.1 926.7C273.3 927.1 271.2 926.1 268.8 925.6C266.3 925 263.2 923.7 260.4 923.3C257.6 923 254.9 923.4 252.1 923.4C249.3 923.5 246.2 923.2 243.6 923.6C241 924 237.8 926.3 236.6 925.8C235.5 925.3 236.5 922.9 236.7 920.5C236.9 918 237.2 914 237.8 911C238.4 908 239.5 904.9 240.5 902.6C241.4 900.3 242.2 898.8 243.6 897.3Z" fill="#E31A1C"/>
<path d="M278.5 924.1h0M280.8 909.9h0M282 917.7h0M279.7 906.3h0M240.2 905.8h0M264.6 892.4h0M277.3 901.1h0M274.2 894h0M239.8 903h0M249.6 923.6h0M276.3 926.4h0M280.8 912.5h0M276.7 898.6h0M278.8 923.4h0M277.6 925.8h0M277.2 899.1h0M236.2 924.2h0M236.3 924.6h0M274.7 926.8h0M240 903.9h0M278.5 901h0M278.8 907.6h0M237.4 919.7h0M239.2 908.2h0M246.9 924h0M267 891.6h0M275.8 894.5h0M273.5 926.9h0M261.1 924h0M255.1 923.7h0M258.1 892.1h0M278.1 904h0M241 924.8h0M259.9 890.7h0M237.8 914.8h0M237.6 914.3h0M256.5 923.2h0M279.3 908.8h0M236.2 924.5h0M238.2 925.4h0M278.3 903.9h0M255.6 924.1h0M279.7 907.1h0M278.7 901.2h0M241.4 901.5h0M277.3 899.6h0M248.2 894.6h0M278.7 924h0M269.8 892h0M278.2 905.3h0M280.2 910.3h0M256.3 923.2h0M274 895.3h0M258.9 891.7h0M239.7 925.1h0M240.4 904.5h0M270.5 925.8h0M268.7 891.5h0M263 891h0M245.7 923.3h0M239.3 925.4h0M279.7 922.1h0M278.8 925.1h0M249.5 892.9h0M248.7 922.9h0M281.8 919.2h0M282.2 916.1h0M259 923.7h0M259.2 891.4h0M244.9 895.8h0M278.2 924.7h0M237.1 916.6h0M279.4 903.8h0M278 903.4h0M274 926.4h0M237.3 912.2h0M246.9 923.3h0M280.9 920h0M258.5 923h0M238.2 925.2h0M237.5 912.5h0M238.8 910.7h0M282.2 916h0M278.6 902.5h0M254.5 923.3h0M254.1 923.8h0M270.8 925.5h0M245.7 923.4h0M238.7 925.2h0M272.2 894.3h0M269.9 891.7h0M264.7 924.9h0M282.1 914.5h0M240.1 924.9h0M275.9 896.3h0M270.1 925.1h0M236.9 926h0M239.9 903.4h0M271.5 925.5h0M259 923.6h0M278.3 900.7h0M262.4 891.3h0M272.1 926.1h0M240.1 903.3h0M252.4 892.7h0M249.9 923.3h0M276.7 899h0M246.2 895.7h0M262.4 891.9h0M239.1 905h0" stroke="#E31A1C" stroke-width="1.6" stroke-linecap="round" fill="none"/>
<path d="M236.1 924.3C237.3 922.8 239.7 920.3 241.3 919.1C242.9 917.8 243.7 916.9 245.5 917C247.2 917 249.7 918.4 251.8 919.1C253.9 919.9 255.9 920.7 258 921.3C260.1 921.8 262.4 921.7 264.3 922.2C266.3 922.8 268.1 922.9 269.6 924.3C271.2 925.7 273.1 928.5 273.9 930.6C274.7 932.7 274.7 934.5 274.4 936.9C274 939.4 272.9 942.5 271.7 945.3C270.6 948.1 269.5 951.4 267.5 953.7C265.6 956 262.8 957.6 260.2 959C257.6 960.4 254.4 961.5 251.8 962.2C249.1 962.9 246.7 963.6 244.4 963.1C242.1 962.5 239.8 960.8 238.1 959C236.3 957.3 234.9 955 233.9 952.7C232.9 950.4 232.1 947.9 231.8 945.3C231.6 942.7 232.1 939.7 232.4 936.9C232.8 934.1 233.4 930.6 234 928.5C234.6 926.4 234.8 925.9 236.1 924.3Z" fill="#B2DF8A"/>
<path d="M248.9 918.8h0M237.4 958.6h0M242 962.5h0M231.5 943.6h0M242.1 962.3h0M263 921.7h0M271.6 946.7h0M255 960.8h0M263.8 921.6h0M233.7 928.7h0M272.3 945.9h0M244.5 962.7h0M241 961.8h0M231.7 941.3h0M264.8 921.6h0M242.1 962.6h0M262.7 956.7h0M240.2 920.7h0M256 960.1h0M246.7 918h0M256.9 921.3h0M242.5 962h0M271.3 926.4h0M273.9 935.4h0M267.9 923.6h0M256.1 959.8h0M231.8 945.2h0M273.6 929.7h0M252.8 962.2h0M267.2 953.7h0M266.9 954.2h0M264.1 957.1h0M263 921.8h0M239.7 921.4h0M270.5 926.8h0M232.5 946.8h0M237.3 957.8h0M262 958.9h0M233.3 934.6h0M267.6 923.3h0M265.4 955.6h0M266.3 954.5h0M234.9 924.6h0M273.7 939.1h0M261.1 958.8h0M236.2 956h0M256.8 921.5h0M245 962.8h0M262.2 957.5h0M250.6 961.8h0M247.4 962h0M235.8 956.7h0M260.1 958.8h0M269.3 924.3h0M235.6 955.6h0M233 951.1h0M238.5 921.3h0M233.5 929.3h0M232 947.8h0M254.2 960.8h0M260.1 959.4h0M267.9 923h0M268.5 952.8h0M271.1 925.8h0M242.4 917.9h0M271.8 927.1h0M235.1 927.1h0M274.1 938.8h0M242 918.5h0M263.2 955.6h0M234.8 926.2h0M253.7 920.4h0M257.8 921.2h0M235.9 955.1h0M259.4 920.7h0M231.3 942.1h0M270 950h0M237.7 958.2h0M241.6 918.7h0M254.7 919.6h0M232 940.2h0M241.2 919.9h0M232 934.8h0M270.5 925.8h0M260.8 921.1h0M256.3 920.5h0M253.9 919.8h0M273.5 938.8h0M253 961.2h0M237.6 923.6h0M273.4 940.8h0M251.2 919.4h0M274.6 938h0M239.7 920h0M237.4 957.6h0M232.4 934.1h0M232.3 943.6h0M235.2 927.4h0M274.5 936.8h0M232.5 938.6h0" stroke="#B2DF8A" stroke-width="1.6" stroke-linecap="round" fill="none"/>
<path d="M240.4 922.3h0M260.3 920.1h0M247.8 925.8h0M242.4 923h0M245.3 921.6h0M257.3 921.2h0M245.8 932.4h0M254.3 927.8h0M251.8 920.8h0M250.8 920.7h0M264.9 923.3h0M242.8 925.9h0M251.5 918.5h0M264.5 925.2h0M236 923.2h0M268.3 927.1h0M257 930.1h0M249.8 917.3h0M243.9 915.8h0M259.3 929.5h0M248.6 917.4h0M262 927.9h0M270.8 924.9h0M258.4 930.2h0M246.3 928.7h0M260.5 923.4h0M245.3 925.7h0M255.4 924.1h0M259.4 927.1h0M246.4 923.2h0M255.3 929.2h0M250.7 931.2h0M254.4 922.2h0M254.2 921.5h0M250.9 916.7h0M240.6 922.6h0M259.2 928.5h0M252.7 920.4h0M249.6 930.6h0M270.8 923.6h0M239.9 917.7h0M271 928.2h0M237.2 927h0M243.3 923h0M240.4 928.8h0M261.2 923.4h0M271.4 929h0M243 916.1h0M259.3 923.4h0M246.9 931.1h0M243.1 926.4h0M237.5 931.2h0M273.4 926h0M247.7 927.8h0M271.6 929h0M236.2 924h0M240.3 924.7h0M273.5 930.2h0M244.7 924.8h0M247.5 918.2h0" stroke="#E31A1C" stroke-width="1.6" stroke-linecap="round" fill="none"/>
<path d="M262.4 918.7h0M251.9 914.3h0M261.2 918.3h0M255.2 910.4h0M264.5 915.3h0M259.8 913.6h0M252.7 911.1h0M258.6 916.8h0M263.1 916.7h0M253.7 917.2h0M252.8 914.1h0M252.6 917.2h0M252.3 913.4h0M265.1 919.2h0M260.7 919.8h0M253.1 917.2h0M249.7 912.9h0M252.9 910.3h0M246.8 917.1h0M252.3 915h0M248.4 912.6h0M254.1 912.4h0M259.7 919.2h0M251.6 911.3h0M263.7 916.6h0M258.6 913h0M244.1 914.3h0M265.6 916.3h0M245.5 916h0M253.8 910.9h0M266.4 921.2h0M262.8 917.2h0" stroke="#B2DF8A" stroke-width="1.6" stroke-linecap="round" fill="none"/>
<path d="M234 929.3h0M237.8 931.5h0M249.1 932h0M259.3 929.3h0M276.6 930.7h0M250.7 927.2h0M234.5 922.9h0" stroke="#E31A1C" stroke-width="2" stroke-linecap="round" fill="none"/>
<text x="221.5" y="764.9" font-size="14.1" text-anchor="middle">Cancer-c3</text>
<text x="228.4" y="797.9" font-size="14.1" text-anchor="middle">Cancer-c4</text>
<text x="131.7" y="822.4" font-size="14.1" text-anchor="middle">CD8T-c2</text>
<text x="120.8" y="895" font-size="14.1" text-anchor="middle">CD8T-cx</text>
<text x="252.5" y="907" font-size="14.1" text-anchor="middle">Cancer-c1</text>
<text x="250" y="947.8" font-size="14.1" text-anchor="middle">Cancer-c2</text>
</g>
<!-- panel_d -->
<g>
<g transform="translate(390.8 0) scale(1.0 1) translate(-390.8 0)"><text x="390.8" y="729.7" font-size="23.7" font-weight="bold">D</text>
</g>
<text x="599.7" y="748.9" font-size="15.5" text-anchor="middle" font-weight="bold">CD8T−c2 vs CD8T−cx</text>
<rect x="450" y="756.1" width="288.6" height="218" fill="none" stroke="#222" stroke-width="1.7"/>
<line x1="447" y1="765.4" x2="450" y2="765.4" stroke="#333" stroke-width="1.0"/>
<text x="440.7" y="770" font-size="14.6" text-anchor="end">6</text>
<line x1="447" y1="805.4" x2="450" y2="805.4" stroke="#333" stroke-width="1.0"/>
<text x="440.7" y="810" font-size="14.6" text-anchor="end">4</text>
<line x1="447" y1="845" x2="450" y2="845" stroke="#333" stroke-width="1.0"/>
<text x="440.7" y="849.6" font-size="14.6" text-anchor="end">2</text>
<line x1="447" y1="884.7" x2="450" y2="884.7" stroke="#333" stroke-width="1.0"/>
<text x="440.7" y="889.3" font-size="14.6" text-anchor="end">0</text>
<line x1="447" y1="924.7" x2="450" y2="924.7" stroke="#333" stroke-width="1.0"/>
<text x="440.7" y="929.3" font-size="14.6" text-anchor="end">-2</text>
<line x1="447" y1="964.3" x2="450" y2="964.3" stroke="#333" stroke-width="1.0"/>
<text x="440.7" y="968.9" font-size="14.6" text-anchor="end">-4</text>
<line x1="501" y1="974.1" x2="501" y2="977.4" stroke="#333" stroke-width="1.0"/>
<text x="501" y="992.9" font-size="14.6" text-anchor="middle">-40</text>
<line x1="577.6" y1="974.1" x2="577.6" y2="977.4" stroke="#333" stroke-width="1.0"/>
<text x="577.6" y="992.9" font-size="14.6" text-anchor="middle">0</text>
<line x1="654.4" y1="974.1" x2="654.4" y2="977.4" stroke="#333" stroke-width="1.0"/>
<text x="654.4" y="992.9" font-size="14.6" text-anchor="middle">40</text>
<line x1="731.3" y1="974.1" x2="731.3" y2="977.4" stroke="#333" stroke-width="1.0"/>
<text x="731.3" y="992.9" font-size="14.6" text-anchor="middle">80</text>
<text transform="translate(415.9 866.3) rotate(-90)" font-size="17" text-anchor="middle">Log<tspan font-size="11" dy="3.5">2</tspan><tspan dy="-3.5">FC</tspan></text>
<text x="604.5" y="1013" font-size="16.9" text-anchor="middle">Δ Percent of Cells</text>
<circle cx="467.1" cy="784.5" r="5" fill="#D5503A"/>
<text x="479.5" y="788.3" font-size="14.3">Up</text>
<circle cx="467.1" cy="806.1" r="5" fill="#6BA8D4"/>
<text x="479.5" y="809.9" font-size="14.3">Down</text>
<circle cx="467.1" cy="827.3" r="5" fill="#CCCCCC"/>
<text x="479.5" y="831.1" font-size="14.3">N.S.</text>
<path d="M581.5 884.8h0M584.2 885h0M579.6 883.4h0M585.2 885.6h0M579.4 882.7h0M578.8 885.2h0M577.1 884.8h0M583.4 886.4h0M586 887.1h0M578.1 884.1h0M578.7 884.3h0M579.4 884.9h0M580.3 885.6h0M574.6 883h0" stroke="#CCCCCC" stroke-width="3.8" stroke-linecap="round" fill="none"/>
<path d="M547.1 896.3h0M567.4 892.3h0M563 897.8h0M573.2 902.9h0M576.1 896.2h0M572.4 894.4h0M548.4 890h0M572.1 888.4h0M567.3 894.3h0M570.3 886.4h0M542.9 890.7h0M550.5 888.6h0M534 891.6h0M573.2 903.4h0M565.9 894.2h0M555.5 898.7h0M570.3 899.9h0M572.4 896.4h0M550.8 896h0M570.8 891.1h0M555.9 890.5h0M567 885.7h0M558.3 890.2h0M573.5 887.9h0M531.9 893.6h0M561.7 887.8h0M556.2 891.4h0M554 889.5h0M548.6 898.4h0M556.7 886.3h0M567.3 899.9h0M531.1 893.9h0M542.6 898.1h0M549.1 891.1h0M573.3 890.8h0M554.5 895.5h0M575.5 887.3h0M559.1 894.7h0M545.4 898.2h0M555.5 895.7h0M576.9 891.9h0M566.6 893.6h0M560.1 885.8h0M561.2 893.5h0M555.1 892.6h0M549.7 889.6h0M533 893.4h0M569.3 898.6h0M552.2 889.8h0M548.9 894.3h0M534.7 894.2h0M553.9 898.5h0M572.8 899.6h0M560.3 899.3h0M563.7 897.9h0M548.9 896.7h0M577.4 885.6h0M545.5 891.1h0M549.2 888.1h0M556.8 886.9h0M565.8 893.9h0M564 889.2h0M546.5 897.1h0M562.9 890.2h0M575.6 891.3h0M540.1 896.3h0M543.8 892.4h0M575.2 894h0M551.3 896.7h0M548.9 890.4h0M574.9 898.3h0M563.8 889.8h0M535.2 891.1h0M568.1 900.4h0M539.6 892.8h0M556.8 889.6h0M568.6 900.8h0M574.4 901.5h0M566 899.3h0M569.2 896.5h0M560 894h0M568.5 891.6h0M543.4 891.9h0M544.8 896.9h0M572.8 886.8h0M533.9 894.8h0M562.7 888.9h0M532.5 894.5h0M562.9 897.4h0M574.7 895.3h0M550 898h0M565.1 895h0M547.3 895.2h0M560.4 888.6h0M564.2 894.5h0M568.8 902h0M562.8 889.4h0M576.5 892.6h0M575.2 902.5h0M568.2 885.7h0M547.3 896.6h0M559.4 899.2h0M561.3 888.4h0M574.7 895.2h0M572.4 889.2h0M577.9 895.6h0M567.3 898.9h0M572.4 892.1h0M534.6 892.9h0M539.1 895.3h0M569.2 892.1h0M550.7 896h0M574.5 895h0M573 894.8h0M550.7 897.1h0M567.1 899.1h0M561.5 890.1h0M551 892.4h0M553.8 890.3h0M556.1 893.8h0M558.4 900.1h0M565.5 898.8h0M577.6 892.3h0M562.1 896h0M565.4 900.2h0M554.3 893.9h0M549.1 896.9h0M559 898.1h0M571.6 899.1h0M548.4 890h0M567.6 899.9h0M574.6 889.1h0M570.8 901.7h0M534.3 891.1h0M560.6 888.1h0M570 890.3h0M562.9 890.9h0M554.2 898.4h0M546.5 897.3h0M548.1 889h0M563.6 893h0M561.6 885.9h0M564.9 896.3h0M551.7 894.6h0M576.2 892.3h0M560.8 897h0M548 891.8h0M566.4 897h0M552.3 894.8h0M552.2 889.5h0M558.4 896.1h0M534.8 894.4h0M546.1 891.4h0M556 887.6h0M549.8 899.3h0M556.2 887h0M542.2 896.4h0M558 900.3h0M555.3 897.5h0M532.3 894.5h0M572.8 899.5h0M558.1 888.8h0M574.5 886.9h0M576.3 899.6h0M564.7 895.1h0M538.4 891.7h0M562.1 897.4h0M535 891.4h0M568.2 899.2h0M537.8 891.1h0M551.6 889.7h0M550.8 898h0M560.4 894.1h0M557 892.1h0M540.1 894.5h0M545.1 891.5h0M550.8 889.1h0M571.7 891.6h0M562.2 889.7h0M561.4 893.7h0M565.5 895.1h0M548.4 890.6h0M563.4 894.2h0M570.7 888.1h0M562.8 899.5h0M572.2 890h0M577.8 891.4h0M538.6 892.7h0M560.3 890.4h0M559.6 899h0M568 901.3h0M572.9 900.4h0M576.9 894.6h0M563.9 894.8h0M576.5 897.4h0M551 897.5h0M549 888h0M552.2 899.4h0M536 894.8h0M544.7 893.6h0M564.3 893h0M549.2 898.7h0M536.2 891.8h0M563.9 900.7h0M577 890.2h0M560.2 891.2h0M563.9 900.9h0M537.1 891.8h0M574.9 891.9h0M560.6 900.4h0M538.6 891.8h0M568.7 888.6h0M557.8 895.6h0M570.8 900.9h0M560.1 888.6h0M566.7 887.3h0M574.6 891.1h0M542.6 889.4h0M571.1 899h0M565.2 889.9h0M545.9 891h0M577.8 887h0M576.3 902.2h0M552.5 898.1h0M567.8 888.9h0M572.3 902h0M538.6 895.5h0M564.8 886h0M560.7 896.9h0M576.3 893.5h0M557.8 892.1h0M559.3 892.7h0M551.5 899.1h0M539.5 890.9h0M566.8 889.6h0M538.2 893h0M545.5 890.2h0M547.4 895.2h0M536.2 895.2h0M540.3 889.8h0M546.8 890.8h0M570.2 897.4h0M553.1 899.5h0M563.1 891.2h0M559.8 899h0M555.9 899.2h0M543.2 897.7h0M576.9 895.1h0M573.5 887.2h0M564.9 890.3h0M566.2 893.2h0M556 890h0M561.1 896.9h0M536.2 890.8h0M576.4 889.2h0M556.1 898.1h0M554.8 895.6h0M576.5 899.7h0M541.9 893.3h0M550.5 897.9h0M562.6 890.2h0M563.4 893.3h0M548.5 889.1h0M574.7 896.9h0M571.2 894.4h0M533.5 892.1h0M548.4 891.7h0M538.9 896.3h0M564.8 897.7h0M570.8 894.2h0" stroke="#6BA8D4" stroke-width="3.8" stroke-linecap="round" fill="none"/>
<path d="M499.1 900.8h0M503 899.8h0M507.7 899.3h0M509.1 897h0M516.7 895.4h0M522.1 893.1h0M525 894.7h0M528.8 895.4h0M533.2 907.1h0M537 901.7h0M541.6 912.6h0M544.1 903.7h0M558.1 906.9h0M562.3 901.2h0M573.7 904.2h0M560.4 884.1h0M583.3 885.5h0M585.2 885.1h0M580.4 887.4h0" stroke="#6BA8D4" stroke-width="3.8" stroke-linecap="round" fill="none"/>
<path d="M593 876.1h0M632.1 873.3h0M606.4 877.8h0M594.5 874.6h0M609.7 877.4h0M639.3 872.4h0M607.7 874.3h0M611.1 877.5h0M612.2 877.2h0M581.7 880.2h0M645.1 872.9h0M643.6 872h0M654.4 868.1h0M608 880.1h0M599.3 880h0M589 875.3h0M656.6 868.4h0M630.8 874.9h0M645.8 872.3h0M628.3 876.3h0M656.4 870h0M585 876h0M617.9 877.4h0M579.2 875.1h0M588 883.7h0M624.3 876.1h0M604 878.5h0M649.6 872.1h0M645 871.3h0M598.5 874.1h0M597.9 877.7h0M617.9 877.3h0M591.1 875h0M596.2 882.8h0M603.9 881.6h0M594.8 880.7h0M592.7 881.3h0M606.2 875.3h0M652 869.7h0M622.3 877.1h0M628.9 875.8h0M634.6 873.4h0M621.5 873.1h0M580.7 874h0M617.3 877.8h0M592.1 878.6h0M614.4 878.2h0M619 876.5h0M583.9 871.9h0M609 877.9h0M578.8 877.5h0M586.9 879.6h0M591.4 878.7h0M583.2 876.6h0M611 876.8h0M583.8 882.2h0M619 876.6h0M588.5 878.1h0M654.1 868.3h0M630.4 876.9h0M624.9 873.4h0M603.2 877.2h0M588.1 882.3h0M631.6 873.5h0M583.7 877.3h0M645.8 871.3h0M638 875h0M584.8 881.5h0M603.7 874h0M650.1 871.7h0M624.2 873h0M594.1 879h0M588.1 882.6h0M628.4 873.3h0M587.2 873.3h0M608.3 876.3h0M642.6 873h0M612.6 877.4h0M600.7 875.4h0M593.7 876.7h0M623.2 877.4h0M580.6 873.7h0M585.4 880.6h0M622.3 876.6h0M595.5 880.1h0M629 873.1h0M607.5 876.7h0M621.7 873.7h0M589 883.6h0M608.9 878.9h0" stroke="#D5503A" stroke-width="3.8" stroke-linecap="round" fill="none"/>
<path d="M577.8 882h0M588 878.3h0M636.2 874.9h0M660.8 867.2h0M638.1 874.7h0M655.3 869.4h0M625.4 876.1h0M637.8 874.1h0M640.2 873.6h0M585.8 883.8h0M586.9 877.3h0M633.2 876h0M596.6 882.9h0M577.6 880.8h0M628.8 874.7h0M595.5 881.8h0M605.9 877.3h0M606.3 881h0M647.6 872.7h0M599.9 879h0M656.9 868.4h0M578.1 883.7h0M601.9 876.4h0M615 879.5h0M584.6 877.5h0M600.1 881.2h0M609 877.3h0M579.7 879.7h0M595.7 879.3h0M592 878.6h0M625.7 877.7h0M586.4 880.7h0M614.8 876.6h0M594.5 881.8h0M593.8 878.9h0M578.1 878.3h0M581.2 883h0M615.2 879.1h0M628.1 875.4h0M622.9 877.9h0M593.3 877.7h0M603.6 879.2h0M582.5 879.1h0M595.8 880.2h0M608.9 879.7h0M628.2 875.4h0M638.4 874.4h0M579 877.5h0M661.1 868.1h0M621.8 878.1h0M580.8 882.4h0M623.1 878.1h0M622.7 877.2h0M641.1 873.1h0M601.1 878.8h0M614 876.9h0M610 876.6h0M599.2 881.8h0M654.4 870.5h0M599.6 876.6h0M580.7 879.4h0M583.1 881.7h0M584 877.8h0M599.3 881.1h0M598.7 881.1h0M581 876.9h0M579 878.9h0M641.1 873.3h0M585.4 876.6h0M594.9 877.3h0M594.8 878.4h0M581.2 877.8h0M588.1 881.8h0M585.7 877.7h0M639.4 874.4h0M630.4 875.3h0M657 868.5h0M638.4 874.7h0M619.1 877.7h0M621.7 878.4h0M619.6 875.6h0M629.1 877.5h0M580.5 880.7h0M607.1 880.8h0M624.4 878.4h0M608.6 878.3h0M649.6 872.3h0M630.4 877h0M577.1 879.7h0M625.7 877.5h0M602.1 879.5h0M619.2 875.9h0M625.5 875.6h0M611.1 877.3h0M615.9 879.6h0M623.2 875.7h0M608.8 877.9h0M614.4 876h0M588.7 877.3h0M595.1 877.1h0M628.7 876.5h0M577.9 883.7h0M608.3 877.3h0M580.4 879.7h0M584.8 878.1h0M621.8 877.3h0M639.1 874.3h0M578 878.7h0M643.7 872.5h0M599.9 881.8h0M659.4 867.8h0M584.6 881.3h0M614.3 876.3h0M592 876.3h0M621.1 878.3h0M622 876.7h0M584.5 878.9h0M595.9 882h0M594.5 879.6h0M624.1 877.4h0M615 878.6h0M643.2 873.5h0M586.5 876.8h0M604.5 881.7h0M582.2 878.1h0M608.2 881.2h0M622.5 875.4h0M598.7 879h0M616.9 876.5h0M587.6 879.3h0M649.9 871.8h0M578.1 879h0M605.8 879.7h0M638.9 874.8h0M609.9 878h0M611.1 878.7h0M578.6 880.5h0M589 878.8h0M588 883.2h0M585.9 883.1h0M600 880.5h0M579.6 878.4h0M590.1 878.6h0M604.6 877.6h0M595.2 880.6h0M592.7 878.6h0M626.2 877.8h0M581.4 877.8h0M654.3 870.5h0M602.2 877.2h0M647.5 872.2h0M588.7 881h0M613.3 878.3h0M608.8 880.8h0M641.7 874.4h0M603.4 878.5h0M608 878.2h0M626.1 877.1h0M587.7 878.1h0M586.2 877.7h0M628.6 875.5h0M597.4 877.1h0M624.4 875.5h0M651.6 871.6h0M577.3 882.6h0M645 873.5h0M605.3 878h0M617.3 876h0M589.4 876.3h0M618.2 876.9h0M643.5 872.6h0M587.8 878.5h0M598.9 879.1h0M608.4 878h0M620.1 875.8h0M595.3 879.8h0M649.5 871.3h0M624.3 876.4h0M581.9 883.2h0M597.9 882.7h0M595.7 882.3h0M602.1 877.7h0M591 880.9h0M613.9 877.6h0M578.9 877.8h0M621.6 878.9h0M643.7 873.9h0M586.6 877.9h0M579.3 876.8h0M617.5 879.6h0M581.4 879.4h0M577.3 878.3h0M607.8 879.8h0M589.4 880.7h0M612.9 877.4h0M583.2 880.3h0M596.3 876.6h0M599.9 881.9h0M582.6 884.1h0M582.3 877.2h0M579.8 878.4h0M596.2 881.6h0M638.7 874.5h0M629.9 877h0M612 876.7h0M594.9 882h0M626 876.8h0M591.7 883.2h0M595 880.4h0M584.4 882.2h0M580.6 883.6h0M579 882.7h0M637.9 875h0M640.8 873.4h0M619.4 878.6h0M613.3 877.9h0M588.1 883.4h0M581.7 884.2h0M578.3 883.9h0M582.4 878.7h0M604.8 879.2h0M606.7 880h0M607.2 879.3h0M621.2 876h0M611.9 876.6h0M622.5 878.1h0M585.7 879.1h0M602.8 878.9h0M577.5 882.7h0M580.1 883h0" stroke="#D5503A" stroke-width="3.8" stroke-linecap="round" fill="none"/>
<path d="M594.8 862.9h0M595.7 869.6h0M599.6 870.6h0M605.3 867.3h0M615.3 859.8h0M620 865.6h0M630.4 852.4h0M633.1 867.3h0M643 857.7h0M648.7 860.6h0M647.4 865.8h0M654.5 849.5h0M663.7 853.9h0M660.8 861.2h0M667.5 838.6h0M696.8 854.9h0M669.4 862.5h0M669.8 864.4h0M669.8 866.3h0M579.5 872.5h0M584.3 873h0M590 872.5h0M644.1 870.6h0M654.1 869.2h0M658.9 868.3h0" stroke="#D5503A" stroke-width="3.8" stroke-linecap="round" fill="none"/>
<path d="M646.1 779h0M716 772h0M721.9 779.7h0M699.3 793.9h0M725.4 803h0M667.7 838.4h0" stroke="#D5503A" stroke-width="3.8" stroke-linecap="round" fill="none"/>
<line x1="577.6" y1="756.1" x2="577.6" y2="974.1" stroke="#3a3a3a" stroke-width="1.35" stroke-dasharray="3.4 3.55"/>
<line x1="450" y1="884.7" x2="738.6" y2="884.7" stroke="#3a3a3a" stroke-width="1.6" stroke-dasharray="3.4 3.55"/>
<line x1="649.6" y1="833.9" x2="654.8" y2="848.9" stroke="#2E62D9" stroke-width="1.3"/>
<line x1="691.3" y1="869.4" x2="671.5" y2="866.3" stroke="#2E62D9" stroke-width="1.3"/>
<line x1="633.9" y1="892.3" x2="643.3" y2="858.3" stroke="#2E62D9" stroke-width="1.3"/>
<line x1="672.2" y1="889.6" x2="661" y2="863.5" stroke="#2E62D9" stroke-width="1.3"/>
<line x1="484.3" y1="907.3" x2="500" y2="900.7" stroke="#2E62D9" stroke-width="1.3"/>
<text x="618.1" y="781.3" font-size="14.2">Ifng</text>
<text x="685.2" y="772.9" font-size="14.2">Xcl1</text>
<text x="704" y="794.5" font-size="14.2">Ccl3</text>
<text x="666.8" y="801.5" font-size="14.2">Ccl4</text>
<text x="704" y="817.8" font-size="14.2">Ccl1</text>
<text x="620.8" y="831.7" font-size="14.2">Cxcl9</text>
<text x="665.7" y="833.8" font-size="14.2">Csf2</text>
<text x="691.1" y="847.4" font-size="14.2">Crtam</text>
<text x="604.1" y="852.6" font-size="14.2">Il13</text>
<text x="692.8" y="875.2" font-size="14.2">Prf1</text>
<text x="605.2" y="903.4" font-size="14.2">Cxcl10</text>
<text x="668.5" y="900.6" font-size="14.2">Bcl2a1b</text>
<text x="465" y="916.3" font-size="14.2">Ifngr1</text>
<text x="523.5" y="926.7" font-size="14.2">Ifitm1</text>
</g>
<!-- panel_e -->
<g>
<g transform="translate(793.3 0) scale(0.95 1) translate(-793.3 0)"><text x="793.3" y="729.1" font-size="23.3" font-weight="bold">E</text>
</g>
<text x="977.4" y="748.2" font-size="15.5" text-anchor="middle" font-weight="bold">Melanoma−c3 vs Melanoma−c4</text>
<rect x="843.9" y="755.8" width="261.5" height="219.2" fill="none" stroke="#111" stroke-width="1.8"/>
<line x1="840.9" y1="785.3" x2="843.9" y2="785.3" stroke="#333" stroke-width="1.0"/>
<text x="838.2" y="789.7" font-size="13.5" text-anchor="end">2</text>
<line x1="840.9" y1="825.2" x2="843.9" y2="825.2" stroke="#333" stroke-width="1.0"/>
<text x="838.2" y="829.6" font-size="13.5" text-anchor="end">1</text>
<line x1="840.9" y1="864.9" x2="843.9" y2="864.9" stroke="#333" stroke-width="1.0"/>
<text x="838.2" y="869.3" font-size="13.5" text-anchor="end">0</text>
<line x1="840.9" y1="904.9" x2="843.9" y2="904.9" stroke="#333" stroke-width="1.0"/>
<text x="838.2" y="909.3" font-size="13.5" text-anchor="end">−1</text>
<line x1="840.9" y1="944.5" x2="843.9" y2="944.5" stroke="#333" stroke-width="1.0"/>
<text x="838.2" y="948.9" font-size="13.5" text-anchor="end">−2</text>
<line x1="846.3" y1="975" x2="846.3" y2="978.5" stroke="#333" stroke-width="1.0"/>
<text x="846.3" y="993.3" font-size="13.8" text-anchor="middle">−60</text>
<line x1="906.8" y1="975" x2="906.8" y2="978.5" stroke="#333" stroke-width="1.0"/>
<text x="906.8" y="993.3" font-size="13.8" text-anchor="middle">−30</text>
<line x1="967.3" y1="975" x2="967.3" y2="978.5" stroke="#333" stroke-width="1.0"/>
<text x="967.3" y="993.3" font-size="13.8" text-anchor="middle">0</text>
<line x1="1028.1" y1="975" x2="1028.1" y2="978.5" stroke="#333" stroke-width="1.0"/>
<text x="1028.1" y="993.3" font-size="13.8" text-anchor="middle">30</text>
<line x1="1088.6" y1="975" x2="1088.6" y2="978.5" stroke="#333" stroke-width="1.0"/>
<text x="1088.6" y="993.3" font-size="13.8" text-anchor="middle">60</text>
<text transform="translate(818.3 866.9) rotate(-90)" font-size="16.8" text-anchor="middle">Log<tspan font-size="11.5" dy="3.5">2</tspan><tspan dy="-3.5">FC</tspan></text>
<text x="978.9" y="1014" font-size="16" text-anchor="middle">Δ Percent of Cells</text>
<circle cx="858.2" cy="783.6" r="5.2" fill="#D5503A"/>
<text x="871.5" y="788.5" font-size="15">Up</text>
<circle cx="858.2" cy="805.4" r="5.2" fill="#6BA8D4"/>
<text x="871.5" y="810.3" font-size="15">Down</text>
<circle cx="858.2" cy="825.9" r="5.2" fill="#CCCCCC"/>
<text x="871.5" y="830.8" font-size="15">N.S.</text>
<path d="M953 860.8h0M973 863.6h0M977.6 863.9h0M981.3 864.3h0M962.1 866.1h0M965.7 866.7h0M970.3 866.8h0M974 866.5h0" stroke="#CCCCCC" stroke-width="3.8" stroke-linecap="round" fill="none"/>
<path d="M939.1 883.8h0M952.4 869.4h0M946.1 877.6h0M966.1 876.4h0M929.5 874.5h0M930.1 871.5h0M948.6 880.2h0M966.7 887.9h0M937.3 871.1h0M962.5 883h0M955.7 870.9h0M951.3 871.5h0M921.8 874.6h0M936.2 876.2h0M968.7 886.7h0M934.8 870.4h0M950.5 880.2h0M953 868.2h0M949.4 884.2h0M924.4 876.3h0M964.6 882.9h0M968.6 871h0M947.4 868.9h0M961.8 878.3h0M933.4 875.6h0M949.9 882.6h0M957.6 872.5h0M938.2 873.2h0M960.2 873.7h0M928.8 877.8h0M954 879.6h0M962.1 876.4h0M945.6 884.7h0M942.5 884.7h0M942.7 869.3h0M953.7 881.1h0M925.6 877h0M926.7 875.8h0M934.9 877h0M954.8 880.1h0M956 887.6h0M963.9 872.6h0M937.7 876.4h0M960 875.9h0M950.5 878.4h0M934.4 878.3h0M948.3 876.4h0M958 871.9h0M946.4 874.2h0M929 875.6h0M952.9 879.5h0M962 873.9h0M938.8 883.7h0M947 871.6h0M953.5 874.3h0M968.2 886.8h0M939.9 880h0M941.4 869.5h0M941.4 878.5h0M943.3 883.9h0M964.1 887.6h0M955.6 874.7h0M962.1 867.2h0M935.6 876h0M942 876.4h0M960 885.2h0M964.6 885.3h0M964.6 877.1h0M942.1 869.4h0M962.6 869.1h0M938.5 871.8h0M940.5 874h0M933.2 877.4h0M952.7 874.8h0M928.9 871.7h0M946.4 878.6h0M949.4 874h0M961.5 880.3h0M957.9 868.9h0M954.6 881.9h0M961.7 889.2h0M946.9 881.4h0M957.5 872.7h0M949 880.1h0M950 869.7h0M967.5 878.3h0M962.6 869.5h0M942.1 870.5h0M942.4 869.3h0M963 875.2h0M960.3 874.6h0M944.4 883.3h0M962 870h0M954.6 885.3h0M948.9 874.9h0M962 886.6h0M951.1 873.4h0M959.7 888.2h0M936.9 870.5h0M923.3 876.7h0M922.9 876.4h0M945.1 870h0M962.2 884.4h0M964.1 874.4h0M937.4 876.7h0M927.9 872.7h0M965.3 880.8h0M951.8 868.5h0M964.8 883.2h0M943.9 874.9h0" stroke="#6BA8D4" stroke-width="3.8" stroke-linecap="round" fill="none"/>
<path d="M934.1 875.3h0M942.6 870.7h0M954.3 879.2h0M967.1 885.2h0M946.8 880.2h0M943 874.7h0M967 875.4h0M951.9 879.5h0M959.7 875.2h0M950.3 881.2h0M966.7 871.7h0M967.9 871.6h0M946.2 869.2h0M952.5 873.8h0M952.4 871.5h0M956.3 878.4h0M944 875.3h0M950.6 874.9h0M967.1 875.3h0M955.6 881.3h0M966.2 869.5h0M952.6 873.5h0M964.1 868.4h0M955.3 875.7h0M940.1 874.8h0M959 873.6h0M963.6 867h0M950.9 869.1h0M933 873.5h0M962 871.8h0M936.7 875.4h0M956 870.6h0M949.1 882.4h0M961.4 879.8h0M952.6 871h0M965.6 877.4h0M956.2 873.8h0M937.9 872.9h0M960.5 879.2h0M952.5 873.9h0M942 873.7h0M929.5 873.2h0M965.3 882.2h0M937.8 875.9h0M958.4 870.1h0M942.2 877.7h0M955.3 873.9h0M957 870.3h0M953.6 874.5h0M960.5 883.6h0M961 877.1h0M957.3 883.1h0M945.5 877.8h0M953.6 882.3h0M950.9 870.3h0M945.7 877.2h0M957.5 873.9h0M940.2 874.1h0M956.8 875.4h0M952.9 880.7h0M962.2 868.2h0M961.9 880.8h0M947.6 871.6h0M950.1 870.8h0M965.3 874.4h0M968.4 876.2h0M962.4 874h0M948.7 880.3h0M954.1 873.3h0M935.6 871.7h0M954.1 881.4h0M945.7 880.5h0M950.3 879.4h0M952.4 870.1h0M956.2 876.2h0M965.4 869.7h0M957.9 876h0M959.7 875.5h0M967.9 881.6h0M939.9 875.6h0M942.7 870.7h0M958.9 879h0M964.6 875.9h0M959 878h0M964.4 876.6h0M942.2 877.4h0M960.9 867h0M958.4 868.3h0M963.8 867.2h0M934.8 875.1h0M938.3 871.9h0M947.8 868.8h0M959.1 877.9h0M953.3 878.2h0M943 871.4h0M942 876.2h0M964.8 884.7h0M968.8 872.1h0M963 871.6h0M967.6 883.9h0M967.8 874.1h0M956 880h0M955.1 881.9h0M967.5 878.7h0M942.2 876.1h0M968.1 874.8h0M960.6 867h0M944.6 876.6h0M953.2 882.8h0M940.1 876.3h0M938 876.2h0M961.8 876.8h0M964.9 876.4h0M963.2 878.1h0M965.3 883.1h0M968 870.2h0M961.8 877.8h0M957.8 880h0M937.3 873.7h0M943.4 880h0M949.8 873h0M932.4 874.8h0M952.2 879.7h0M953.9 881.6h0M966.6 868.8h0M957.7 875h0M952 879.6h0M944.3 878.1h0M967.6 866.5h0M963.9 871h0M960 884.1h0M944.4 877h0M968.6 885.3h0M962.8 874.7h0M966.5 883h0M944.9 873.5h0M941.1 872.5h0M951.2 874.3h0M952.6 874.6h0M968.9 885.7h0M957.1 880.5h0M943.2 879.9h0M951.3 870.7h0M936.2 873.8h0M941.8 879.2h0M941 875h0M968.6 884.4h0M939.1 876.8h0M964.3 873.1h0M940.8 875.4h0M966.9 876.1h0M968.3 872.2h0M950.4 878.5h0M957.4 882.6h0M948 875.8h0M967.8 866.4h0M968.5 875.7h0M956.6 881.9h0M941.4 872.6h0M964.8 876.1h0M945.4 872.2h0M941.8 877.6h0M965.3 884.4h0M928.3 873.3h0M956.4 875.9h0M962.7 879h0M954 874.6h0M966.9 881.7h0M958.7 867.7h0M934.2 875.9h0M944.5 870.7h0M940 874.8h0M943.7 879.1h0M964 876.1h0M935.7 876.2h0M966 877.6h0M965.2 879.4h0M940.3 870.5h0M950.8 881h0M964.8 878.7h0M968.3 876.8h0M958.4 878.3h0M956.4 879.5h0M956.1 879.5h0M947.5 869.8h0M941.3 872.5h0M956 868.7h0M956.2 875.4h0M965.8 874.4h0M958.5 869h0M961.6 870.9h0M944.9 881.2h0M968.9 881.4h0M934.1 871.6h0M961.4 875.9h0M962.7 872h0M955.8 870.5h0M949.6 877.2h0M967 872.8h0M960.8 874.8h0" stroke="#6BA8D4" stroke-width="3.8" stroke-linecap="round" fill="none"/>
<path d="M855.3 888.7h0M862.9 886.4h0M886.3 887h0M893.3 888.4h0M894.9 886.7h0M902.2 881.1h0M904.8 878.8h0M905.5 887.7h0M911.4 878.5h0M914.4 881.8h0M915.4 876.8h0M918.1 892h0M923.7 883.4h0M925.3 888.4h0M941.8 887.7h0M948.5 890h0M962.7 892.7h0M964.3 895h0M966.6 897.3h0M965 899.9h0M959.4 901.9h0M951.1 907.2h0M933.9 927h0M870.8 949.5h0M969.9 871.8h0M970.9 880.1h0M969.3 885.1h0M981.5 865.9h0" stroke="#6BA8D4" stroke-width="3.8" stroke-linecap="round" fill="none"/>
<path d="M970.3 873h0M971.2 878.5h0M969.8 883.1h0M967.6 895h0M964.8 893.1h0M963 895h0M946.6 896.4h0M918.3 892.2h0M905.5 887.3h0M981.3 866.1h0" stroke="#6BA8D4" stroke-width="3.8" stroke-linecap="round" fill="none"/>
<path d="M967.4 861.4h0M1023.4 855.9h0M1007.6 846.7h0M984.6 856.3h0M973.5 836.7h0M1008.7 849h0M971 849.5h0M1022.6 857.4h0M1010.3 853.6h0M978.3 850.8h0M993.2 862.5h0M968 835.4h0M968.4 836.9h0M985.4 853.6h0M1011.6 858.6h0M971.3 847h0M1001.6 844.7h0M982.8 839.8h0M973.3 854h0M985.2 846.5h0M966.7 840.7h0M975.4 839h0M1024.8 854h0M998.5 845.5h0M994.3 858.1h0M982.3 854h0M996.9 850.6h0M969.2 843.2h0M992.8 861.4h0M992 840.3h0M991.3 852.4h0M1010.6 852h0M1003.7 852.2h0M977.4 840.3h0M989.2 853.2h0M1000.7 854.8h0M979.5 859.2h0M978 853.8h0M991.4 861.1h0M978.6 857.5h0M995.4 851.2h0M986.4 846h0M1020 855.9h0M994 851h0M1008.7 856.8h0M990.1 843.2h0M989.1 859.1h0M967.5 861.6h0M969.4 850.1h0M968.6 836.8h0M1017.9 854.8h0M981.2 843.6h0M1001.5 859.9h0M972.2 846.7h0M981.4 852h0M986.2 863.1h0M986.2 860.2h0M990.6 849.4h0M1011.2 856.3h0M979.7 848.4h0M982.4 856h0M1025.5 855h0M1014.6 852.8h0M999 848.3h0M1001.6 849.7h0M973.1 861.3h0M1016.1 858.4h0M993.2 842.2h0M992.3 861.3h0M1002.2 860.2h0M984.5 856.3h0M971.9 853.2h0M984.2 859h0M989.4 861.3h0M995.9 851.4h0M991.3 859.5h0M974.3 860.9h0M1007.1 853.4h0M1017.7 856.9h0M1011.3 849h0M974.1 854.8h0M1020.3 857.5h0M974.6 844.1h0M1000.6 848.7h0M1016.3 854.7h0M1012.5 858.1h0M992 861.6h0M986.4 845h0M971.9 854.5h0M980.8 839.3h0M972.7 840.9h0M972.2 855.4h0M999.5 855.9h0M973.1 845h0M1002.8 858.8h0M1019 854.6h0M982.6 862.6h0M998.7 849.3h0M981.1 842.2h0M975.6 856.7h0M1002.8 845h0M984.7 851.5h0M986.6 859.5h0M1010.2 853.2h0M981.8 850.7h0M1015.6 854.6h0M979.9 850.4h0M1002.3 849.5h0M982.7 851.2h0M987.6 857.6h0M974.4 861.3h0M968.2 860h0M981.7 839.1h0M976.4 846.9h0M968.9 844.3h0M977.9 838.9h0M977.1 863.4h0M1004.2 849.7h0M974.4 850.5h0M987.4 862h0M989.9 841.6h0M968.9 852.1h0M1021.7 855.4h0M977.9 858h0M1006.2 851.1h0M1003.3 844.8h0M985.8 852.6h0M997.7 849.3h0M1017.7 854.4h0M1005.2 859.1h0M1024.4 855.3h0M998.5 848.7h0M974.2 841.4h0M1015.3 852.5h0M1024.6 856.4h0M991.8 851.2h0M974.6 843.8h0M997.6 844.6h0M1015 854.9h0M966.8 835.9h0M977.1 851.7h0M986.5 857.3h0M966.6 849.3h0M980.1 844.2h0M991.5 844h0M976.2 861h0M991.5 843.7h0M1002.8 861.2h0M999.2 846.9h0M987.6 841.9h0" stroke="#D5503A" stroke-width="3.8" stroke-linecap="round" fill="none"/>
<path d="M972.5 848.9h0M1010.5 854.8h0M973.9 857.3h0M978.2 863h0M991.6 858.7h0M986.9 857.3h0M997.4 859.7h0M976.8 850.9h0M969.8 850.1h0M1001.4 857.8h0M980.9 863.6h0M991.9 853.8h0M1018.8 855.9h0M1001.6 853.7h0M996.1 858.5h0M981.6 845.8h0M974.7 863.2h0M979.7 849.6h0M977 846.4h0M973.7 852.9h0M999.9 853.8h0M1011 851.4h0M985.4 855.2h0M997.7 861.1h0M986.9 850h0M1000.9 853.7h0M989.7 860.9h0M978.3 849h0M976.9 861.6h0M1023 854.8h0M975.7 859.9h0M1022.3 856.4h0M1010.7 852.6h0M969.5 860.3h0M981.7 845.5h0M977.6 863.4h0M990.7 863h0M1009.4 854.3h0M987.4 846.5h0M982.8 859.6h0M967.2 848h0M995.1 856.4h0M1001.7 856h0M999.1 849.3h0M984.9 850.8h0M987.8 853.5h0M989.7 852.3h0M1005.2 856.2h0M1002.2 848.4h0M990 855.6h0M1001.4 859.3h0M986.1 850.7h0M981.1 844.2h0M988.4 860.6h0M1008.8 859.4h0M1017.9 855.4h0M1007.3 851.7h0M982.3 850.1h0M1005.6 860h0M970.3 861.7h0M1006.7 853.8h0M985.3 844.2h0M980.6 861.4h0M983.1 858.5h0M983.6 855.3h0M1000.6 857.2h0M995.8 856.9h0M973.3 852.3h0M969.5 861.9h0M978.7 852.2h0M970.1 848.9h0M987.6 849.1h0M970.1 862.2h0M1009.8 858.7h0M1002.9 856.8h0M1002.9 850.6h0M1014.6 852.6h0M1008.6 859.5h0M970.8 855.9h0M984.6 861.6h0M1003.5 853.8h0M1000.6 853.8h0M996.7 855.8h0M984.5 848.6h0M1007.6 852.3h0M995.9 858.2h0M992.5 846.5h0M967.1 850.1h0M1001.6 858.5h0M998.7 852.3h0M966.9 858.3h0M975.2 847.9h0M990.3 847.3h0M995.8 858.9h0M985.3 848.2h0M986 862.2h0M1003.3 859h0M985.7 851.1h0M968.9 852.3h0M973.8 851.8h0M973.1 849.3h0M980.8 862.5h0M974.1 853h0M996.2 860.9h0M987.5 862.5h0M993 857.4h0M971 847.1h0M972.7 859.2h0M994.2 853.8h0M997.5 859.5h0M978.3 854.4h0M972 844.5h0M990.1 859.5h0M1009.9 856.4h0M982.1 849.8h0M992.3 858.7h0M981 846h0M996.8 861.5h0M977.7 851.6h0M1015.9 854.9h0M1014.4 856.2h0M1005.1 856.9h0M999.4 855.7h0M1000.7 858.2h0M993.8 856h0M984.5 845.3h0M995.1 859.6h0M984.1 850.5h0M1018.1 853.2h0M983.1 858.1h0M983.6 855.3h0M996 862.1h0M976.6 852.9h0M993.2 861.3h0M999.9 851.8h0M985 844.5h0M1001.7 848.4h0M986.8 861.4h0M985.8 858.4h0M993.4 853.4h0M1002.1 849.9h0M984.7 860.9h0M969 854.1h0M1011 858.5h0M973.9 853.3h0M978.9 863.7h0M1003.2 860.7h0M1002.8 860.7h0M976.4 854.9h0M1012.8 855.8h0M985.4 850.6h0M991.4 855.6h0M1007.5 850.7h0M993.1 852.6h0M994.2 850.9h0M996.2 855.4h0M980.3 844.5h0M976.8 847.8h0M995.7 851h0M992.4 859.2h0M1014.1 856.1h0M995.7 858.8h0M989 845.6h0M987 863.1h0M983.2 845h0M995.7 851.7h0M982.3 848.4h0M982.4 847.9h0M970.6 853.6h0M989.3 850.6h0M970.6 863.2h0M1001.8 850.4h0M995.1 862.3h0M988.9 856.8h0M993.2 848.6h0M988.2 860h0M1021.2 856.4h0M988.5 848.1h0M993.7 858.3h0M1019 857.7h0M1006.6 851.6h0M980.6 844.2h0M1010.9 854.7h0M1004.9 857.2h0M1009.6 853.1h0M994.1 858.7h0M971.5 858.3h0M983.7 857.5h0M1013.9 857.6h0M967.1 845.4h0M986 857.7h0M997.7 850.3h0M1005.4 859.1h0M1000.2 859.6h0M983 857.4h0M971.9 854.1h0M973.5 860.8h0M983.8 854.1h0M979.5 853.1h0M1012.9 859.3h0M971.9 863.6h0M1003.4 853.2h0M974.7 850.9h0M966.6 863.5h0M1003.4 860.8h0M973.3 846.8h0M982 860.6h0M967.4 861.1h0M1022.7 856.8h0M981.6 853.8h0M987.3 847.5h0M981.4 850.3h0M1004.3 851h0M978.2 850.9h0M1014.6 855h0M982.6 862.3h0M972.5 851.9h0M986.7 853.9h0M990.2 850.9h0M989.9 851h0M985.2 853h0M1000.2 849.3h0M971.8 851.5h0M993.1 852.7h0M969.2 847h0M1004.7 851.1h0M980.6 863.8h0M972.8 846.5h0M979.1 853.8h0M996.2 857h0M971.8 856h0M986.9 855.1h0M992.1 846.8h0M991.8 844.9h0M977.9 857.6h0M1019.2 857.1h0M1008.9 851.8h0M971.7 843.8h0M984.5 861.8h0M1020 856.8h0M1008.7 856.2h0M986.4 850h0M967.8 863.8h0M1006.8 855.8h0M1005.3 852.7h0M997.2 860.7h0M989.6 850.6h0M1009.3 853h0M977.4 847.2h0M972.1 854.2h0M975.6 844.6h0M981.4 857.3h0M978.4 855.1h0M994.2 862.2h0M994.7 858.8h0M968.8 863.9h0M985.5 844.1h0M992.5 856.7h0M973.6 863.5h0M997.1 858.1h0M1004.7 849.7h0M971 843.9h0M988.6 848.1h0M976 854.8h0M995.5 850.7h0M1008.8 850.9h0M982.7 848.8h0M996.2 860.9h0M1005.6 855.4h0M977.1 856.3h0M1022.9 854.9h0M1002.3 859.1h0M979.9 860.1h0M999.2 846.6h0M989.9 860.3h0M984.2 855.9h0M1015.5 854.1h0M1015.9 855.8h0M1015.3 856.9h0M1008.7 850.3h0M979 849.6h0M1007.8 853.7h0M1006.3 856.5h0M1003.1 859.6h0M983.9 860.2h0M1009.9 859.2h0M973.4 856h0M983.1 859.9h0M969.3 859.9h0M1019.1 854.5h0M989.9 860.1h0M1012.5 853.1h0M969.6 858.2h0M1005.2 849.1h0M967.3 844.8h0M981.5 853.1h0M982.8 850.9h0M978.3 859h0M966.5 862.7h0M1001.2 857h0M989 855.8h0M966.5 849.6h0M981.8 852.2h0M969.8 859.3h0M985.5 856.5h0M1007.2 857.9h0M1006.1 853.7h0M985.7 859.1h0M981 851.2h0M1009.7 858.8h0M1011.2 854.2h0M1007.8 857h0M1018.4 855.7h0M994.1 855.1h0M978.9 847.8h0M991.2 859.1h0M988.5 848.2h0M1005.4 859.5h0M979.2 861h0M981.4 859.8h0M999.9 847.5h0M999 858.1h0M990.5 855.6h0M1004.6 853.1h0M985.9 852.3h0M988.3 863.3h0M969 854.1h0M990.9 854h0M972.4 861.6h0M985.7 847.2h0" stroke="#D5503A" stroke-width="3.8" stroke-linecap="round" fill="none"/>
<path d="M970.3 863h0M974 863.4h0M977.6 863.7h0M980.4 864.3h0M972.1 864.3h0M963.9 865.7h0M961.2 866.5h0" stroke="#CCCCCC" stroke-width="3.8" stroke-linecap="round" fill="none"/>
<path d="M967.6 812.4h0M978.2 826.6h0M969.9 832.8h0M974.9 833.8h0M985.5 832.8h0M995.7 834.5h0M999.7 836.2h0M1003 829.9h0M1011.2 837.1h0M1017.2 838.8h0M1020.5 841.4h0M1023.1 842.8h0M1033.7 833.8h0M1038.3 843.8h0M1042.6 846.4h0M1035.4 848.1h0M1060.8 846.4h0M1092.9 837.8h0M1031.1 852.7h0" stroke="#D5503A" stroke-width="3.8" stroke-linecap="round" fill="none"/>
<line x1="967.3" y1="755.8" x2="967.3" y2="975" stroke="#111" stroke-width="1.1" stroke-dasharray="3 2.35"/>
<line x1="843.9" y1="864.9" x2="1105.4" y2="864.9" stroke="#111" stroke-width="1.1" stroke-dasharray="3 2.35"/>
<line x1="986.5" y1="810.7" x2="978.9" y2="825.6" stroke="#3468D0" stroke-width="1.05"/>
<line x1="1016.2" y1="819.6" x2="998" y2="835.5" stroke="#3468D0" stroke-width="1.05"/>
<line x1="943.5" y1="825.6" x2="968.3" y2="832.8" stroke="#3468D0" stroke-width="1.05"/>
<line x1="1039.3" y1="836.2" x2="1034.4" y2="834.5" stroke="#3468D0" stroke-width="1.05"/>
<line x1="1038.3" y1="858.6" x2="999.7" y2="838.8" stroke="#3468D0" stroke-width="1.05"/>
<line x1="983.2" y1="883.4" x2="967.3" y2="891.7" stroke="#3468D0" stroke-width="1.05"/>
<line x1="942.8" y1="905.6" x2="962.7" y2="902.2" stroke="#3468D0" stroke-width="1.05"/>
<line x1="994.7" y1="906.5" x2="967.3" y2="900.9" stroke="#3468D0" stroke-width="1.05"/>
<line x1="983.2" y1="920.8" x2="965" y2="904.2" stroke="#3468D0" stroke-width="1.05"/>
<line x1="951.1" y1="939.6" x2="964.3" y2="904.9" stroke="#3468D0" stroke-width="1.05"/>
<text x="928" y="811.7" font-size="14">Cxcl9</text>
<text x="973.2" y="808.1" font-size="14">H2−K1</text>
<text x="1016.2" y="821" font-size="14">Gm4841</text>
<text x="914.7" y="829.5" font-size="14">Ccl2</text>
<text x="1039.3" y="839.8" font-size="14">H2−T23</text>
<text x="1038.3" y="862.9" font-size="14">Ubd</text>
<text x="983.2" y="885.4" font-size="14">Ccl5</text>
<text x="922" y="912.5" font-size="14">Dst</text>
<text x="994.7" y="911.8" font-size="14">Esd</text>
<text x="972.2" y="931.3" font-size="14">Tubb3</text>
<text x="906.5" y="937.3" font-size="14">Fn1</text>
<text x="932.6" y="949.5" font-size="14">Gclm</text>
</g>
</svg>
</body>
</html>
